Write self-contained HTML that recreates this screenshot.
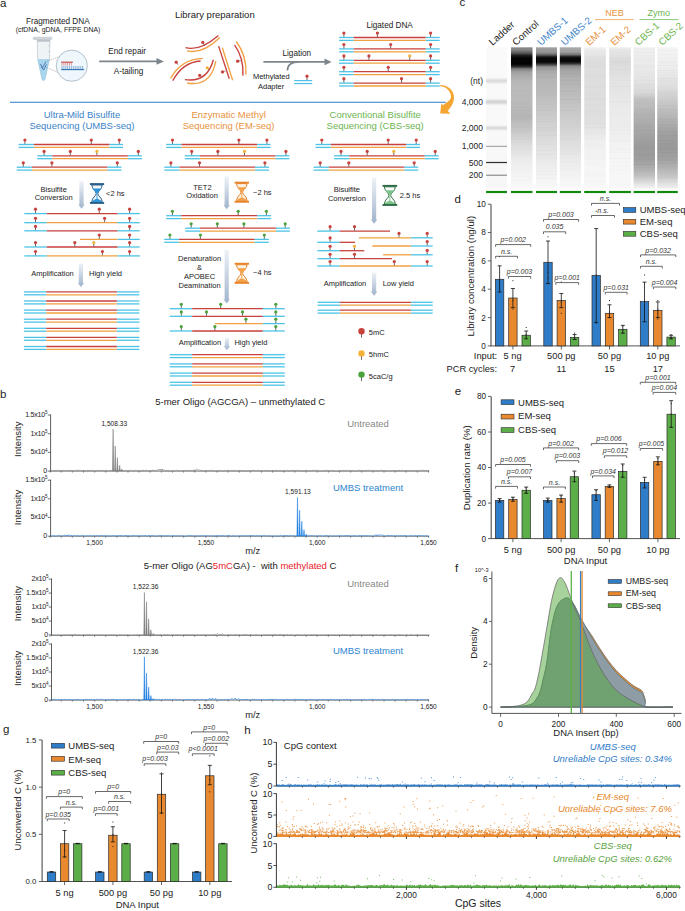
<!DOCTYPE html>
<html><head><meta charset="utf-8"><style>
html,body{margin:0;padding:0;background:#fff;width:685px;height:911px;overflow:hidden}
svg{display:block}
text{font-family:"Liberation Sans",sans-serif}
</style></head><body>
<svg width="685" height="911" viewBox="0 0 685 911" font-family="Liberation Sans, sans-serif">
<rect width="685" height="911" fill="#fff"/>
<defs><linearGradient id="ga" x1="0" y1="0" x2="0" y2="1"><stop offset="0" stop-color="#eef2f7"/><stop offset="1" stop-color="#9fb3cc"/></linearGradient></defs>
<text x="0.0" y="7.2" font-size="11.5" text-anchor="start" fill="#222" >a</text>
<text x="57.8" y="23.6" font-size="8.2" text-anchor="middle" fill="#222" >Fragmented DNA</text>
<text x="58.0" y="31.5" font-size="6.9" text-anchor="middle" fill="#222" >(cfDNA, gDNA, FFPE DNA)</text>
<path d="M37.2,40.5 L50,40.5 L49.5,58 L44.8,79.5 Q43.5,81.5 42.2,79.5 L37.6,58 Z" fill="#eef3f6" stroke="#b8c4cc" stroke-width="0.7"/>
<path d="M37.9,59.6 L49.3,59.6 L44.8,79.5 Q43.5,81.5 42.2,79.5 Z" fill="#a9d6ef" stroke="#8ec4e2" stroke-width="0.5"/>
<rect x="37.3" y="39.4" width="12.8" height="2.3" fill="#b9c2c8"/>
<rect x="33.2" y="37.2" width="18.6" height="2.2" rx="0.6" fill="#d3dadf" stroke="#aab4bb" stroke-width="0.5"/>
<path d="M48,45.5 L49.6,45.5 M48,51.5 L49.6,51.5" stroke="#b0bac0" stroke-width="0.5"/>
<path d="M40.2,63.8 L42.6,67.6 L45.8,61.8 M41.2,66.6 L43.6,70 L46.6,64.4" stroke="#3a5fa0" stroke-width="0.8" fill="none"/>
<line x1="46.5" y1="61.5" x2="61" y2="56" stroke="#777" stroke-width="0.5" stroke-dasharray="1.2,1"/>
<line x1="46.5" y1="67.5" x2="59.5" y2="73" stroke="#777" stroke-width="0.5" stroke-dasharray="1.2,1"/>
<circle cx="71.8" cy="65.7" r="15.6" fill="#eef7fc" stroke="#8a9aa4" stroke-width="0.6"/>
<line x1="61.2" y1="62.2" x2="72.9" y2="62.2" stroke="#c8413d" stroke-width="1.1"/>
<line x1="61.2" y1="69.6" x2="84.1" y2="69.6" stroke="#2d6fb0" stroke-width="1.1"/>
<line x1="62.0" y1="62.6" x2="62.0" y2="65.6" stroke="#c8413d" stroke-width="0.5"/>
<line x1="62.0" y1="66" x2="62.0" y2="69.2" stroke="#2d6fb0" stroke-width="0.5"/>
<line x1="63.9" y1="62.6" x2="63.9" y2="65.6" stroke="#c8413d" stroke-width="0.5"/>
<line x1="63.9" y1="66" x2="63.9" y2="69.2" stroke="#2d6fb0" stroke-width="0.5"/>
<line x1="65.8" y1="62.6" x2="65.8" y2="65.6" stroke="#c8413d" stroke-width="0.5"/>
<line x1="65.8" y1="66" x2="65.8" y2="69.2" stroke="#2d6fb0" stroke-width="0.5"/>
<line x1="67.6" y1="62.6" x2="67.6" y2="65.6" stroke="#c8413d" stroke-width="0.5"/>
<line x1="67.6" y1="66" x2="67.6" y2="69.2" stroke="#2d6fb0" stroke-width="0.5"/>
<line x1="69.5" y1="62.6" x2="69.5" y2="65.6" stroke="#c8413d" stroke-width="0.5"/>
<line x1="69.5" y1="66" x2="69.5" y2="69.2" stroke="#2d6fb0" stroke-width="0.5"/>
<line x1="71.4" y1="62.6" x2="71.4" y2="65.6" stroke="#c8413d" stroke-width="0.5"/>
<line x1="71.4" y1="66" x2="71.4" y2="69.2" stroke="#2d6fb0" stroke-width="0.5"/>
<line x1="73.3" y1="66" x2="73.3" y2="69.2" stroke="#2d6fb0" stroke-width="0.5"/>
<line x1="75.2" y1="66" x2="75.2" y2="69.2" stroke="#2d6fb0" stroke-width="0.5"/>
<line x1="77.0" y1="66" x2="77.0" y2="69.2" stroke="#2d6fb0" stroke-width="0.5"/>
<line x1="78.9" y1="66" x2="78.9" y2="69.2" stroke="#2d6fb0" stroke-width="0.5"/>
<line x1="80.8" y1="66" x2="80.8" y2="69.2" stroke="#2d6fb0" stroke-width="0.5"/>
<line x1="82.7" y1="66" x2="82.7" y2="69.2" stroke="#2d6fb0" stroke-width="0.5"/>
<line x1="99.2" y1="61.4" x2="158.0" y2="61.4" stroke="#7d868c" stroke-width="1.6" />
<path d="M156.5,58 L163.9,61.4 L156.5,64.8 Z" fill="#7d868c"/>
<text x="127.1" y="53.7" font-size="8.2" text-anchor="middle" fill="#222" >End repair</text>
<text x="128.5" y="73.6" font-size="8.2" text-anchor="middle" fill="#222" >A-tailing</text>
<text x="214.8" y="18.2" font-size="9.5" text-anchor="middle" fill="#222" >Library preparation</text>
<path d="M185.5,47.7 Q200,51.5 218.4,35.5" stroke="#c8413d" stroke-width="1.35" fill="none"/>
<path d="M187,50.8 Q203,54.5 219.8,37.6" stroke="#f0a040" stroke-width="1.35" fill="none"/>
<path d="M170.6,78.4 Q181,59 202.8,58.3" stroke="#f0a040" stroke-width="1.35" fill="none"/>
<path d="M172.8,80.6 Q183,62 200.6,61" stroke="#c8413d" stroke-width="1.35" fill="none"/>
<path d="M184.9,79.6 Q207,83 213.4,59.7" stroke="#c8413d" stroke-width="1.35" fill="none"/>
<path d="M187.2,83 Q211,87 215.8,61" stroke="#f0a040" stroke-width="1.35" fill="none"/>
<path d="M218.6,46.1 L229.3,78.7" stroke="#c8413d" stroke-width="1.35" fill="none"/>
<path d="M222.3,47.6 L232.6,80.2" stroke="#f0a040" stroke-width="1.35" fill="none"/>
<path d="M234.5,44.9 Q244,58 242.9,75.6" stroke="#c8413d" stroke-width="1.35" fill="none"/>
<path d="M236.3,41.5 Q247,56 245.9,74.6" stroke="#f0a040" stroke-width="1.35" fill="none"/>
<line x1="204.5" y1="45.5" x2="202.8" y2="42.4" stroke="#444" stroke-width="0.6" />
<circle cx="202.8" cy="42.4" r="1.6" fill="#c8413d"/>
<line x1="178.0" y1="64.8" x2="176.2" y2="62.2" stroke="#444" stroke-width="0.6" />
<circle cx="176.2" cy="62.2" r="1.6" fill="#c8413d"/>
<line x1="201.5" y1="77.2" x2="199.7" y2="75.3" stroke="#444" stroke-width="0.6" />
<circle cx="199.7" cy="75.3" r="1.6" fill="#c8413d"/>
<line x1="209.0" y1="69.6" x2="207.2" y2="67.8" stroke="#444" stroke-width="0.6" />
<circle cx="207.2" cy="67.8" r="1.6" fill="#f3b33a"/>
<line x1="225.5" y1="71.0" x2="222.5" y2="71.9" stroke="#444" stroke-width="0.6" />
<circle cx="222.5" cy="71.9" r="1.6" fill="#c8413d"/>
<line x1="240.8" y1="60.6" x2="237.6" y2="61.2" stroke="#444" stroke-width="0.6" />
<circle cx="237.6" cy="61.2" r="1.6" fill="#c8413d"/>
<line x1="263.4" y1="61.9" x2="326.0" y2="61.9" stroke="#7d868c" stroke-width="1.6" />
<path d="M324.5,58.5 L331.6,61.9 L324.5,65.3 Z" fill="#7d868c"/>
<path d="M287.4,70.5 Q287.5,62 299,61.9" stroke="#7d868c" stroke-width="1.6" fill="none"/>
<text x="296.8" y="56.0" font-size="8.2" text-anchor="middle" fill="#222" >Ligation</text>
<text x="271.3" y="79.4" font-size="7.5" text-anchor="middle" fill="#222" >Methylated</text>
<text x="271.1" y="88.8" font-size="7.5" text-anchor="middle" fill="#222" >Adapter</text>
<line x1="294.2" y1="80.6" x2="312.2" y2="80.6" stroke="#4cc3e6" stroke-width="1.2" />
<line x1="294.2" y1="83.6" x2="312.2" y2="83.6" stroke="#4cc3e6" stroke-width="1.2" />
<line x1="307.0" y1="80.0" x2="307.0" y2="77.4" stroke="#333" stroke-width="0.75" />
<circle cx="307.0" cy="76.2" r="1.6" fill="#c8413d"/>
<text x="389.6" y="27.7" font-size="8.2" text-anchor="middle" fill="#222" >Ligated DNA</text>
<line x1="339.1" y1="37.5" x2="353.7" y2="37.5" stroke="#4cc3e6" stroke-width="1.3" />
<line x1="353.7" y1="37.5" x2="425.8" y2="37.5" stroke="#c8413d" stroke-width="1.3" />
<line x1="425.8" y1="37.5" x2="439.7" y2="37.5" stroke="#4cc3e6" stroke-width="1.3" />
<line x1="339.1" y1="40.4" x2="353.7" y2="40.4" stroke="#4cc3e6" stroke-width="1.3" />
<line x1="353.7" y1="40.4" x2="425.8" y2="40.4" stroke="#f0a040" stroke-width="1.3" />
<line x1="425.8" y1="40.4" x2="439.7" y2="40.4" stroke="#4cc3e6" stroke-width="1.3" />
<line x1="343.9" y1="36.9" x2="343.9" y2="34.3" stroke="#333" stroke-width="0.75" />
<circle cx="343.9" cy="33.1" r="1.6" fill="#c8413d"/>
<line x1="430.6" y1="36.9" x2="430.6" y2="34.3" stroke="#333" stroke-width="0.75" />
<circle cx="430.6" cy="33.1" r="1.6" fill="#c8413d"/>
<line x1="377.4" y1="36.9" x2="377.4" y2="34.3" stroke="#333" stroke-width="0.75" />
<circle cx="377.4" cy="33.1" r="1.6" fill="#c8413d"/>
<line x1="339.1" y1="48.9" x2="353.7" y2="48.9" stroke="#4cc3e6" stroke-width="1.3" />
<line x1="353.7" y1="48.9" x2="425.8" y2="48.9" stroke="#c8413d" stroke-width="1.3" />
<line x1="425.8" y1="48.9" x2="439.7" y2="48.9" stroke="#4cc3e6" stroke-width="1.3" />
<line x1="339.1" y1="51.8" x2="353.7" y2="51.8" stroke="#4cc3e6" stroke-width="1.3" />
<line x1="353.7" y1="51.8" x2="425.8" y2="51.8" stroke="#f0a040" stroke-width="1.3" />
<line x1="425.8" y1="51.8" x2="439.7" y2="51.8" stroke="#4cc3e6" stroke-width="1.3" />
<line x1="343.9" y1="48.3" x2="343.9" y2="45.7" stroke="#333" stroke-width="0.75" />
<circle cx="343.9" cy="44.5" r="1.6" fill="#c8413d"/>
<line x1="430.6" y1="48.3" x2="430.6" y2="45.7" stroke="#333" stroke-width="0.75" />
<circle cx="430.6" cy="44.5" r="1.6" fill="#c8413d"/>
<line x1="390.7" y1="48.3" x2="390.7" y2="45.7" stroke="#333" stroke-width="0.75" />
<circle cx="390.7" cy="44.5" r="1.6" fill="#c8413d"/>
<line x1="339.1" y1="60.3" x2="353.7" y2="60.3" stroke="#4cc3e6" stroke-width="1.3" />
<line x1="353.7" y1="60.3" x2="425.8" y2="60.3" stroke="#c8413d" stroke-width="1.3" />
<line x1="425.8" y1="60.3" x2="439.7" y2="60.3" stroke="#4cc3e6" stroke-width="1.3" />
<line x1="339.1" y1="63.2" x2="353.7" y2="63.2" stroke="#4cc3e6" stroke-width="1.3" />
<line x1="353.7" y1="63.2" x2="425.8" y2="63.2" stroke="#f0a040" stroke-width="1.3" />
<line x1="425.8" y1="63.2" x2="439.7" y2="63.2" stroke="#4cc3e6" stroke-width="1.3" />
<line x1="343.9" y1="59.7" x2="343.9" y2="57.1" stroke="#333" stroke-width="0.75" />
<circle cx="343.9" cy="55.9" r="1.6" fill="#c8413d"/>
<line x1="430.6" y1="59.7" x2="430.6" y2="57.1" stroke="#333" stroke-width="0.75" />
<circle cx="430.6" cy="55.9" r="1.6" fill="#c8413d"/>
<line x1="368.9" y1="59.7" x2="368.9" y2="57.1" stroke="#333" stroke-width="0.75" />
<circle cx="368.9" cy="55.9" r="1.6" fill="#c8413d"/>
<line x1="409.7" y1="59.7" x2="409.7" y2="57.1" stroke="#333" stroke-width="0.75" />
<circle cx="409.7" cy="55.9" r="1.6" fill="#f3b33a"/>
<line x1="339.1" y1="71.7" x2="353.7" y2="71.7" stroke="#4cc3e6" stroke-width="1.3" />
<line x1="353.7" y1="71.7" x2="425.8" y2="71.7" stroke="#c8413d" stroke-width="1.3" />
<line x1="425.8" y1="71.7" x2="439.7" y2="71.7" stroke="#4cc3e6" stroke-width="1.3" />
<line x1="339.1" y1="74.6" x2="353.7" y2="74.6" stroke="#4cc3e6" stroke-width="1.3" />
<line x1="353.7" y1="74.6" x2="425.8" y2="74.6" stroke="#f0a040" stroke-width="1.3" />
<line x1="425.8" y1="74.6" x2="439.7" y2="74.6" stroke="#4cc3e6" stroke-width="1.3" />
<line x1="343.9" y1="71.1" x2="343.9" y2="68.5" stroke="#333" stroke-width="0.75" />
<circle cx="343.9" cy="67.3" r="1.6" fill="#c8413d"/>
<line x1="430.6" y1="71.1" x2="430.6" y2="68.5" stroke="#333" stroke-width="0.75" />
<circle cx="430.6" cy="67.3" r="1.6" fill="#c8413d"/>
<line x1="388.3" y1="71.1" x2="388.3" y2="68.5" stroke="#333" stroke-width="0.75" />
<circle cx="388.3" cy="67.3" r="1.6" fill="#c8413d"/>
<line x1="339.1" y1="83.1" x2="353.7" y2="83.1" stroke="#4cc3e6" stroke-width="1.3" />
<line x1="353.7" y1="83.1" x2="425.8" y2="83.1" stroke="#c8413d" stroke-width="1.3" />
<line x1="425.8" y1="83.1" x2="439.7" y2="83.1" stroke="#4cc3e6" stroke-width="1.3" />
<line x1="339.1" y1="86.0" x2="353.7" y2="86.0" stroke="#4cc3e6" stroke-width="1.3" />
<line x1="353.7" y1="86.0" x2="425.8" y2="86.0" stroke="#f0a040" stroke-width="1.3" />
<line x1="425.8" y1="86.0" x2="439.7" y2="86.0" stroke="#4cc3e6" stroke-width="1.3" />
<line x1="343.9" y1="82.5" x2="343.9" y2="79.9" stroke="#333" stroke-width="0.75" />
<circle cx="343.9" cy="78.7" r="1.6" fill="#c8413d"/>
<line x1="430.6" y1="82.5" x2="430.6" y2="79.9" stroke="#333" stroke-width="0.75" />
<circle cx="430.6" cy="78.7" r="1.6" fill="#c8413d"/>
<line x1="401.5" y1="82.5" x2="401.5" y2="79.9" stroke="#333" stroke-width="0.75" />
<circle cx="401.5" cy="78.7" r="1.6" fill="#c8413d"/>
<line x1="10.0" y1="102.3" x2="445.8" y2="102.3" stroke="#2a7bc8" stroke-width="1.1" />
<path d="M440.2,84.9 C448,84.9 454.6,90.5 454,98.3 C453.6,103 451.5,107 447.8,110.8 L442.8,105.2 C446.5,102.6 451,100 451,96.8 C451,91.5 446.4,86.6 440.2,86.3 Z M441.3,103.6 L440.2,113.5 L450.4,113.7 Z" fill="#f5a632"/>
<text x="82.0" y="117.5" font-size="9.5" text-anchor="middle" fill="#3a82c9" >Ultra-Mild Bisulfite</text>
<text x="82.0" y="128.7" font-size="9.5" text-anchor="middle" fill="#3a82c9" >Sequencing (UMBS-seq)</text>
<line x1="18.6" y1="144.5" x2="33.9" y2="144.5" stroke="#4cc3e6" stroke-width="1.3" />
<line x1="33.9" y1="144.5" x2="109.5" y2="144.5" stroke="#c8413d" stroke-width="1.3" />
<line x1="109.5" y1="144.5" x2="123.0" y2="144.5" stroke="#4cc3e6" stroke-width="1.3" />
<line x1="18.6" y1="147.4" x2="33.9" y2="147.4" stroke="#4cc3e6" stroke-width="1.3" />
<line x1="33.9" y1="147.4" x2="109.5" y2="147.4" stroke="#f0a040" stroke-width="1.3" />
<line x1="109.5" y1="147.4" x2="123.0" y2="147.4" stroke="#4cc3e6" stroke-width="1.3" />
<line x1="24.9" y1="143.9" x2="24.9" y2="141.3" stroke="#333" stroke-width="0.75" />
<circle cx="24.9" cy="140.1" r="1.6" fill="#c8413d"/>
<line x1="91.3" y1="143.9" x2="91.3" y2="141.3" stroke="#333" stroke-width="0.75" />
<circle cx="91.3" cy="140.1" r="1.6" fill="#c8413d"/>
<line x1="119.3" y1="143.9" x2="119.3" y2="141.3" stroke="#333" stroke-width="0.75" />
<circle cx="119.3" cy="140.1" r="1.6" fill="#c8413d"/>
<line x1="37.2" y1="155.8" x2="52.3" y2="155.8" stroke="#4cc3e6" stroke-width="1.3" />
<line x1="52.3" y1="155.8" x2="127.9" y2="155.8" stroke="#c8413d" stroke-width="1.3" />
<line x1="127.9" y1="155.8" x2="141.8" y2="155.8" stroke="#4cc3e6" stroke-width="1.3" />
<line x1="37.2" y1="158.7" x2="52.3" y2="158.7" stroke="#4cc3e6" stroke-width="1.3" />
<line x1="52.3" y1="158.7" x2="127.9" y2="158.7" stroke="#f0a040" stroke-width="1.3" />
<line x1="127.9" y1="158.7" x2="141.8" y2="158.7" stroke="#4cc3e6" stroke-width="1.3" />
<line x1="44.1" y1="155.2" x2="44.1" y2="152.6" stroke="#333" stroke-width="0.75" />
<circle cx="44.1" cy="151.4" r="1.6" fill="#c8413d"/>
<line x1="70.3" y1="155.2" x2="70.3" y2="152.6" stroke="#333" stroke-width="0.75" />
<circle cx="70.3" cy="151.4" r="1.6" fill="#c8413d"/>
<line x1="96.9" y1="155.2" x2="96.9" y2="152.6" stroke="#333" stroke-width="0.75" />
<circle cx="96.9" cy="151.4" r="1.6" fill="#f3b33a"/>
<line x1="138.3" y1="155.2" x2="138.3" y2="152.6" stroke="#333" stroke-width="0.75" />
<circle cx="138.3" cy="151.4" r="1.6" fill="#c8413d"/>
<line x1="16.7" y1="167.2" x2="31.9" y2="167.2" stroke="#4cc3e6" stroke-width="1.3" />
<line x1="31.9" y1="167.2" x2="107.5" y2="167.2" stroke="#c8413d" stroke-width="1.3" />
<line x1="107.5" y1="167.2" x2="121.4" y2="167.2" stroke="#4cc3e6" stroke-width="1.3" />
<line x1="16.7" y1="170.1" x2="31.9" y2="170.1" stroke="#4cc3e6" stroke-width="1.3" />
<line x1="31.9" y1="170.1" x2="107.5" y2="170.1" stroke="#f0a040" stroke-width="1.3" />
<line x1="107.5" y1="170.1" x2="121.4" y2="170.1" stroke="#4cc3e6" stroke-width="1.3" />
<line x1="23.3" y1="166.6" x2="23.3" y2="164.0" stroke="#333" stroke-width="0.75" />
<circle cx="23.3" cy="162.8" r="1.6" fill="#c8413d"/>
<line x1="51.9" y1="166.6" x2="51.9" y2="164.0" stroke="#333" stroke-width="0.75" />
<circle cx="51.9" cy="162.8" r="1.6" fill="#c8413d"/>
<line x1="117.3" y1="166.6" x2="117.3" y2="164.0" stroke="#333" stroke-width="0.75" />
<circle cx="117.3" cy="162.8" r="1.6" fill="#c8413d"/>
<text x="228.6" y="117.5" font-size="9.5" text-anchor="middle" fill="#e8923e" >Enzymatic Methyl</text>
<text x="228.6" y="128.7" font-size="9.5" text-anchor="middle" fill="#e8923e" >Sequencing (EM-seq)</text>
<line x1="166.2" y1="144.5" x2="181.5" y2="144.5" stroke="#4cc3e6" stroke-width="1.3" />
<line x1="181.5" y1="144.5" x2="257.1" y2="144.5" stroke="#c8413d" stroke-width="1.3" />
<line x1="257.1" y1="144.5" x2="270.6" y2="144.5" stroke="#4cc3e6" stroke-width="1.3" />
<line x1="166.2" y1="147.4" x2="181.5" y2="147.4" stroke="#4cc3e6" stroke-width="1.3" />
<line x1="181.5" y1="147.4" x2="257.1" y2="147.4" stroke="#f0a040" stroke-width="1.3" />
<line x1="257.1" y1="147.4" x2="270.6" y2="147.4" stroke="#4cc3e6" stroke-width="1.3" />
<line x1="172.5" y1="143.9" x2="172.5" y2="141.3" stroke="#333" stroke-width="0.75" />
<circle cx="172.5" cy="140.1" r="1.6" fill="#c8413d"/>
<line x1="238.9" y1="143.9" x2="238.9" y2="141.3" stroke="#333" stroke-width="0.75" />
<circle cx="238.9" cy="140.1" r="1.6" fill="#c8413d"/>
<line x1="266.9" y1="143.9" x2="266.9" y2="141.3" stroke="#333" stroke-width="0.75" />
<circle cx="266.9" cy="140.1" r="1.6" fill="#c8413d"/>
<line x1="184.8" y1="155.8" x2="199.9" y2="155.8" stroke="#4cc3e6" stroke-width="1.3" />
<line x1="199.9" y1="155.8" x2="275.5" y2="155.8" stroke="#c8413d" stroke-width="1.3" />
<line x1="275.5" y1="155.8" x2="289.4" y2="155.8" stroke="#4cc3e6" stroke-width="1.3" />
<line x1="184.8" y1="158.7" x2="199.9" y2="158.7" stroke="#4cc3e6" stroke-width="1.3" />
<line x1="199.9" y1="158.7" x2="275.5" y2="158.7" stroke="#f0a040" stroke-width="1.3" />
<line x1="275.5" y1="158.7" x2="289.4" y2="158.7" stroke="#4cc3e6" stroke-width="1.3" />
<line x1="191.7" y1="155.2" x2="191.7" y2="152.6" stroke="#333" stroke-width="0.75" />
<circle cx="191.7" cy="151.4" r="1.6" fill="#c8413d"/>
<line x1="217.9" y1="155.2" x2="217.9" y2="152.6" stroke="#333" stroke-width="0.75" />
<circle cx="217.9" cy="151.4" r="1.6" fill="#c8413d"/>
<line x1="244.5" y1="155.2" x2="244.5" y2="152.6" stroke="#333" stroke-width="0.75" />
<circle cx="244.5" cy="151.4" r="1.6" fill="#f3b33a"/>
<line x1="285.9" y1="155.2" x2="285.9" y2="152.6" stroke="#333" stroke-width="0.75" />
<circle cx="285.9" cy="151.4" r="1.6" fill="#c8413d"/>
<line x1="164.3" y1="167.2" x2="179.5" y2="167.2" stroke="#4cc3e6" stroke-width="1.3" />
<line x1="179.5" y1="167.2" x2="255.1" y2="167.2" stroke="#c8413d" stroke-width="1.3" />
<line x1="255.1" y1="167.2" x2="269.0" y2="167.2" stroke="#4cc3e6" stroke-width="1.3" />
<line x1="164.3" y1="170.1" x2="179.5" y2="170.1" stroke="#4cc3e6" stroke-width="1.3" />
<line x1="179.5" y1="170.1" x2="255.1" y2="170.1" stroke="#f0a040" stroke-width="1.3" />
<line x1="255.1" y1="170.1" x2="269.0" y2="170.1" stroke="#4cc3e6" stroke-width="1.3" />
<line x1="170.9" y1="166.6" x2="170.9" y2="164.0" stroke="#333" stroke-width="0.75" />
<circle cx="170.9" cy="162.8" r="1.6" fill="#c8413d"/>
<line x1="199.5" y1="166.6" x2="199.5" y2="164.0" stroke="#333" stroke-width="0.75" />
<circle cx="199.5" cy="162.8" r="1.6" fill="#c8413d"/>
<line x1="264.9" y1="166.6" x2="264.9" y2="164.0" stroke="#333" stroke-width="0.75" />
<circle cx="264.9" cy="162.8" r="1.6" fill="#c8413d"/>
<text x="375.2" y="117.5" font-size="9.5" text-anchor="middle" fill="#6db550" >Conventional Bisulfite</text>
<text x="375.2" y="128.7" font-size="9.5" text-anchor="middle" fill="#6db550" >Sequencing (CBS-seq)</text>
<line x1="315.5" y1="144.5" x2="330.8" y2="144.5" stroke="#4cc3e6" stroke-width="1.3" />
<line x1="330.8" y1="144.5" x2="406.4" y2="144.5" stroke="#c8413d" stroke-width="1.3" />
<line x1="406.4" y1="144.5" x2="419.9" y2="144.5" stroke="#4cc3e6" stroke-width="1.3" />
<line x1="315.5" y1="147.4" x2="330.8" y2="147.4" stroke="#4cc3e6" stroke-width="1.3" />
<line x1="330.8" y1="147.4" x2="406.4" y2="147.4" stroke="#f0a040" stroke-width="1.3" />
<line x1="406.4" y1="147.4" x2="419.9" y2="147.4" stroke="#4cc3e6" stroke-width="1.3" />
<line x1="321.8" y1="143.9" x2="321.8" y2="141.3" stroke="#333" stroke-width="0.75" />
<circle cx="321.8" cy="140.1" r="1.6" fill="#c8413d"/>
<line x1="388.2" y1="143.9" x2="388.2" y2="141.3" stroke="#333" stroke-width="0.75" />
<circle cx="388.2" cy="140.1" r="1.6" fill="#c8413d"/>
<line x1="416.2" y1="143.9" x2="416.2" y2="141.3" stroke="#333" stroke-width="0.75" />
<circle cx="416.2" cy="140.1" r="1.6" fill="#c8413d"/>
<line x1="334.1" y1="155.8" x2="349.2" y2="155.8" stroke="#4cc3e6" stroke-width="1.3" />
<line x1="349.2" y1="155.8" x2="424.8" y2="155.8" stroke="#c8413d" stroke-width="1.3" />
<line x1="424.8" y1="155.8" x2="438.7" y2="155.8" stroke="#4cc3e6" stroke-width="1.3" />
<line x1="334.1" y1="158.7" x2="349.2" y2="158.7" stroke="#4cc3e6" stroke-width="1.3" />
<line x1="349.2" y1="158.7" x2="424.8" y2="158.7" stroke="#f0a040" stroke-width="1.3" />
<line x1="424.8" y1="158.7" x2="438.7" y2="158.7" stroke="#4cc3e6" stroke-width="1.3" />
<line x1="341.0" y1="155.2" x2="341.0" y2="152.6" stroke="#333" stroke-width="0.75" />
<circle cx="341.0" cy="151.4" r="1.6" fill="#c8413d"/>
<line x1="367.2" y1="155.2" x2="367.2" y2="152.6" stroke="#333" stroke-width="0.75" />
<circle cx="367.2" cy="151.4" r="1.6" fill="#c8413d"/>
<line x1="393.8" y1="155.2" x2="393.8" y2="152.6" stroke="#333" stroke-width="0.75" />
<circle cx="393.8" cy="151.4" r="1.6" fill="#f3b33a"/>
<line x1="435.2" y1="155.2" x2="435.2" y2="152.6" stroke="#333" stroke-width="0.75" />
<circle cx="435.2" cy="151.4" r="1.6" fill="#c8413d"/>
<line x1="313.6" y1="167.2" x2="328.8" y2="167.2" stroke="#4cc3e6" stroke-width="1.3" />
<line x1="328.8" y1="167.2" x2="404.4" y2="167.2" stroke="#c8413d" stroke-width="1.3" />
<line x1="404.4" y1="167.2" x2="418.3" y2="167.2" stroke="#4cc3e6" stroke-width="1.3" />
<line x1="313.6" y1="170.1" x2="328.8" y2="170.1" stroke="#4cc3e6" stroke-width="1.3" />
<line x1="328.8" y1="170.1" x2="404.4" y2="170.1" stroke="#f0a040" stroke-width="1.3" />
<line x1="404.4" y1="170.1" x2="418.3" y2="170.1" stroke="#4cc3e6" stroke-width="1.3" />
<line x1="320.2" y1="166.6" x2="320.2" y2="164.0" stroke="#333" stroke-width="0.75" />
<circle cx="320.2" cy="162.8" r="1.6" fill="#c8413d"/>
<line x1="348.8" y1="166.6" x2="348.8" y2="164.0" stroke="#333" stroke-width="0.75" />
<circle cx="348.8" cy="162.8" r="1.6" fill="#c8413d"/>
<line x1="414.2" y1="166.6" x2="414.2" y2="164.0" stroke="#333" stroke-width="0.75" />
<circle cx="414.2" cy="162.8" r="1.6" fill="#c8413d"/>
<text x="53.7" y="191.5" font-size="7.5" text-anchor="middle" fill="#222" >Bisulfite</text>
<text x="53.6" y="200.2" font-size="7.5" text-anchor="middle" fill="#222" >Conversion</text>
<path d="M79.4,181.2 L83.6,181.2 L83.6,204.60000000000002 L84.7,204.60000000000002 L81.5,208.8 L78.3,204.60000000000002 L79.4,204.60000000000002 Z" fill="url(#ga)"/>
<path d="M91.80000000000001,185.0 C91.80000000000001,189.34 96.2,191.004 96.2,193.5 C96.2,195.99599999999998 91.80000000000001,197.66 91.80000000000001,202.0 L102.2,202.0 C102.2,197.66 97.8,195.99599999999998 97.8,193.5 C97.8,191.004 102.2,189.34 102.2,185.0 Z" fill="#f4f8fb" stroke="#2a5f8a" stroke-width="1"/>
<path d="M92.9,188.50799999999998 L101.10000000000001,188.50799999999998 C100.9,190.588 97.5,191.83599999999998 97.4,193.5 L96.6,193.5 C96.5,191.83599999999998 93.10000000000001,190.588 92.9,188.50799999999998 Z" fill="#2f94d8"/>
<path d="M97.0,193.5 L97.0,201.0" stroke="#2f94d8" stroke-width="0.9"/>
<path d="M92.30000000000001,202.0 C92.80000000000001,199.74 96.0,198.908 97.0,198.7 C98.0,198.908 101.2,199.74 101.7,202.0 Z" fill="#2f94d8"/>
<rect x="89.9" y="183.1" width="14.2" height="1.9" fill="#2a5f8a"/>
<rect x="89.9" y="202.0" width="14.2" height="1.9" fill="#2a5f8a"/>
<text x="106.0" y="195.5" font-size="7.5" text-anchor="start" fill="#222" >&lt;2 hs</text>
<line x1="24.3" y1="213.6" x2="46.8" y2="213.6" stroke="#4cc3e6" stroke-width="1.3" />
<line x1="46.8" y1="213.6" x2="117.7" y2="213.6" stroke="#c8413d" stroke-width="1.3" />
<line x1="117.7" y1="213.6" x2="139.8" y2="213.6" stroke="#4cc3e6" stroke-width="1.3" />
<line x1="35.5" y1="213.0" x2="35.5" y2="210.4" stroke="#333" stroke-width="0.75" />
<circle cx="35.5" cy="209.2" r="1.6" fill="#c8413d"/>
<line x1="99.3" y1="213.0" x2="99.3" y2="210.4" stroke="#333" stroke-width="0.75" />
<circle cx="99.3" cy="209.2" r="1.6" fill="#c8413d"/>
<line x1="129.6" y1="213.0" x2="129.6" y2="210.4" stroke="#333" stroke-width="0.75" />
<circle cx="129.6" cy="209.2" r="1.6" fill="#c8413d"/>
<line x1="24.3" y1="222.7" x2="46.8" y2="222.7" stroke="#4cc3e6" stroke-width="1.3" />
<line x1="46.8" y1="222.7" x2="117.7" y2="222.7" stroke="#f0a040" stroke-width="1.3" />
<line x1="117.7" y1="222.7" x2="139.8" y2="222.7" stroke="#4cc3e6" stroke-width="1.3" />
<line x1="35.5" y1="222.1" x2="35.5" y2="219.5" stroke="#333" stroke-width="0.75" />
<circle cx="35.5" cy="218.3" r="1.6" fill="#c8413d"/>
<line x1="104.6" y1="222.1" x2="104.6" y2="219.5" stroke="#333" stroke-width="0.75" />
<circle cx="104.6" cy="218.3" r="1.6" fill="#c8413d"/>
<line x1="129.6" y1="222.1" x2="129.6" y2="219.5" stroke="#333" stroke-width="0.75" />
<circle cx="129.6" cy="218.3" r="1.6" fill="#c8413d"/>
<line x1="24.3" y1="230.8" x2="46.8" y2="230.8" stroke="#4cc3e6" stroke-width="1.3" />
<line x1="46.8" y1="230.8" x2="117.7" y2="230.8" stroke="#c8413d" stroke-width="1.3" />
<line x1="117.7" y1="230.8" x2="139.8" y2="230.8" stroke="#4cc3e6" stroke-width="1.3" />
<line x1="35.5" y1="230.2" x2="35.5" y2="227.6" stroke="#333" stroke-width="0.75" />
<circle cx="35.5" cy="226.4" r="1.6" fill="#c8413d"/>
<line x1="129.6" y1="230.2" x2="129.6" y2="227.6" stroke="#333" stroke-width="0.75" />
<circle cx="129.6" cy="226.4" r="1.6" fill="#c8413d"/>
<line x1="80.1" y1="239.4" x2="117.7" y2="239.4" stroke="#f0a040" stroke-width="1.3" />
<line x1="117.7" y1="239.4" x2="139.8" y2="239.4" stroke="#4cc3e6" stroke-width="1.3" />
<line x1="99.3" y1="238.8" x2="99.3" y2="236.2" stroke="#333" stroke-width="0.75" />
<circle cx="99.3" cy="235.0" r="1.6" fill="#c8413d"/>
<line x1="129.6" y1="238.8" x2="129.6" y2="236.2" stroke="#333" stroke-width="0.75" />
<circle cx="129.6" cy="235.0" r="1.6" fill="#c8413d"/>
<line x1="24.3" y1="247.0" x2="46.8" y2="247.0" stroke="#4cc3e6" stroke-width="1.3" />
<line x1="46.8" y1="247.0" x2="117.7" y2="247.0" stroke="#c8413d" stroke-width="1.3" />
<line x1="117.7" y1="247.0" x2="139.8" y2="247.0" stroke="#4cc3e6" stroke-width="1.3" />
<line x1="35.5" y1="246.4" x2="35.5" y2="243.8" stroke="#333" stroke-width="0.75" />
<circle cx="35.5" cy="242.6" r="1.6" fill="#c8413d"/>
<line x1="74.8" y1="246.4" x2="74.8" y2="243.8" stroke="#333" stroke-width="0.75" />
<circle cx="74.8" cy="242.6" r="1.6" fill="#c8413d"/>
<line x1="93.8" y1="246.4" x2="93.8" y2="243.8" stroke="#333" stroke-width="0.75" />
<circle cx="93.8" cy="242.6" r="1.6" fill="#f3b33a"/>
<line x1="129.6" y1="246.4" x2="129.6" y2="243.8" stroke="#333" stroke-width="0.75" />
<circle cx="129.6" cy="242.6" r="1.6" fill="#c8413d"/>
<line x1="24.3" y1="255.9" x2="46.8" y2="255.9" stroke="#4cc3e6" stroke-width="1.3" />
<line x1="46.8" y1="255.9" x2="117.7" y2="255.9" stroke="#f0a040" stroke-width="1.3" />
<line x1="117.7" y1="255.9" x2="139.8" y2="255.9" stroke="#4cc3e6" stroke-width="1.3" />
<line x1="35.5" y1="255.3" x2="35.5" y2="252.7" stroke="#333" stroke-width="0.75" />
<circle cx="35.5" cy="251.5" r="1.6" fill="#c8413d"/>
<line x1="102.4" y1="255.3" x2="102.4" y2="252.7" stroke="#333" stroke-width="0.75" />
<circle cx="102.4" cy="251.5" r="1.6" fill="#c8413d"/>
<line x1="129.6" y1="255.3" x2="129.6" y2="252.7" stroke="#333" stroke-width="0.75" />
<circle cx="129.6" cy="251.5" r="1.6" fill="#c8413d"/>
<text x="52.5" y="276.0" font-size="7.5" text-anchor="middle" fill="#222" >Amplification</text>
<text x="105.5" y="276.0" font-size="7.5" text-anchor="middle" fill="#222" >High yield</text>
<path d="M78.80000000000001,263.6 L83.0,263.6 L83.0,282.90000000000003 L84.10000000000001,282.90000000000003 L80.9,287.1 L77.7,282.90000000000003 L78.80000000000001,282.90000000000003 Z" fill="url(#ga)"/>
<line x1="23.9" y1="291.9" x2="46.2" y2="291.9" stroke="#4cc3e6" stroke-width="1.3" />
<line x1="46.2" y1="291.9" x2="116.9" y2="291.9" stroke="#c8413d" stroke-width="1.3" />
<line x1="116.9" y1="291.9" x2="139.4" y2="291.9" stroke="#4cc3e6" stroke-width="1.3" />
<line x1="23.9" y1="294.8" x2="46.2" y2="294.8" stroke="#4cc3e6" stroke-width="1.3" />
<line x1="46.2" y1="294.8" x2="116.9" y2="294.8" stroke="#f0a040" stroke-width="1.3" />
<line x1="116.9" y1="294.8" x2="139.4" y2="294.8" stroke="#4cc3e6" stroke-width="1.3" />
<line x1="23.9" y1="301.0" x2="46.2" y2="301.0" stroke="#4cc3e6" stroke-width="1.3" />
<line x1="46.2" y1="301.0" x2="116.9" y2="301.0" stroke="#c8413d" stroke-width="1.3" />
<line x1="116.9" y1="301.0" x2="139.4" y2="301.0" stroke="#4cc3e6" stroke-width="1.3" />
<line x1="23.9" y1="303.9" x2="46.2" y2="303.9" stroke="#4cc3e6" stroke-width="1.3" />
<line x1="46.2" y1="303.9" x2="116.9" y2="303.9" stroke="#f0a040" stroke-width="1.3" />
<line x1="116.9" y1="303.9" x2="139.4" y2="303.9" stroke="#4cc3e6" stroke-width="1.3" />
<line x1="23.9" y1="310.1" x2="46.2" y2="310.1" stroke="#4cc3e6" stroke-width="1.3" />
<line x1="46.2" y1="310.1" x2="116.9" y2="310.1" stroke="#c8413d" stroke-width="1.3" />
<line x1="116.9" y1="310.1" x2="139.4" y2="310.1" stroke="#4cc3e6" stroke-width="1.3" />
<line x1="23.9" y1="313.0" x2="46.2" y2="313.0" stroke="#4cc3e6" stroke-width="1.3" />
<line x1="46.2" y1="313.0" x2="116.9" y2="313.0" stroke="#f0a040" stroke-width="1.3" />
<line x1="116.9" y1="313.0" x2="139.4" y2="313.0" stroke="#4cc3e6" stroke-width="1.3" />
<line x1="23.9" y1="319.2" x2="46.2" y2="319.2" stroke="#4cc3e6" stroke-width="1.3" />
<line x1="46.2" y1="319.2" x2="116.9" y2="319.2" stroke="#c8413d" stroke-width="1.3" />
<line x1="116.9" y1="319.2" x2="139.4" y2="319.2" stroke="#4cc3e6" stroke-width="1.3" />
<line x1="23.9" y1="322.1" x2="46.2" y2="322.1" stroke="#4cc3e6" stroke-width="1.3" />
<line x1="46.2" y1="322.1" x2="116.9" y2="322.1" stroke="#f0a040" stroke-width="1.3" />
<line x1="116.9" y1="322.1" x2="139.4" y2="322.1" stroke="#4cc3e6" stroke-width="1.3" />
<line x1="23.9" y1="328.3" x2="46.2" y2="328.3" stroke="#4cc3e6" stroke-width="1.3" />
<line x1="46.2" y1="328.3" x2="116.9" y2="328.3" stroke="#c8413d" stroke-width="1.3" />
<line x1="116.9" y1="328.3" x2="139.4" y2="328.3" stroke="#4cc3e6" stroke-width="1.3" />
<line x1="23.9" y1="331.2" x2="46.2" y2="331.2" stroke="#4cc3e6" stroke-width="1.3" />
<line x1="46.2" y1="331.2" x2="116.9" y2="331.2" stroke="#f0a040" stroke-width="1.3" />
<line x1="116.9" y1="331.2" x2="139.4" y2="331.2" stroke="#4cc3e6" stroke-width="1.3" />
<line x1="23.9" y1="337.4" x2="46.2" y2="337.4" stroke="#4cc3e6" stroke-width="1.3" />
<line x1="46.2" y1="337.4" x2="116.9" y2="337.4" stroke="#c8413d" stroke-width="1.3" />
<line x1="116.9" y1="337.4" x2="139.4" y2="337.4" stroke="#4cc3e6" stroke-width="1.3" />
<line x1="23.9" y1="340.3" x2="46.2" y2="340.3" stroke="#4cc3e6" stroke-width="1.3" />
<line x1="46.2" y1="340.3" x2="116.9" y2="340.3" stroke="#f0a040" stroke-width="1.3" />
<line x1="116.9" y1="340.3" x2="139.4" y2="340.3" stroke="#4cc3e6" stroke-width="1.3" />
<line x1="23.9" y1="346.5" x2="46.2" y2="346.5" stroke="#4cc3e6" stroke-width="1.3" />
<line x1="46.2" y1="346.5" x2="116.9" y2="346.5" stroke="#c8413d" stroke-width="1.3" />
<line x1="116.9" y1="346.5" x2="139.4" y2="346.5" stroke="#4cc3e6" stroke-width="1.3" />
<line x1="23.9" y1="349.4" x2="46.2" y2="349.4" stroke="#4cc3e6" stroke-width="1.3" />
<line x1="46.2" y1="349.4" x2="116.9" y2="349.4" stroke="#f0a040" stroke-width="1.3" />
<line x1="116.9" y1="349.4" x2="139.4" y2="349.4" stroke="#4cc3e6" stroke-width="1.3" />
<text x="202.4" y="189.6" font-size="7.5" text-anchor="middle" fill="#222" >TET2</text>
<text x="202.0" y="198.3" font-size="7.5" text-anchor="middle" fill="#222" >Oxidation</text>
<path d="M224.6,176.4 L228.79999999999998,176.4 L228.79999999999998,205.10000000000002 L229.89999999999998,205.10000000000002 L226.7,209.3 L223.5,205.10000000000002 L224.6,205.10000000000002 Z" fill="url(#ga)"/>
<path d="M236.5,183.6 C236.5,188.0 240.99999999999997,189.67999999999998 240.99999999999997,192.2 C240.99999999999997,194.72 236.5,196.39999999999998 236.5,200.79999999999998 L247.1,200.79999999999998 C247.1,196.39999999999998 242.6,194.72 242.6,192.2 C242.6,189.67999999999998 247.1,188.0 247.1,183.6 Z" fill="#fdf1e4" stroke="#e8842a" stroke-width="1"/>
<path d="M237.6,187.16 L246.0,187.16 C245.79999999999998,189.26 242.29999999999998,190.51999999999998 242.2,192.2 L241.39999999999998,192.2 C241.29999999999998,190.51999999999998 237.8,189.26 237.6,187.16 Z" fill="#f3a24a"/>
<path d="M241.79999999999998,192.2 L241.79999999999998,199.79999999999998" stroke="#f3a24a" stroke-width="0.9"/>
<path d="M237.0,200.79999999999998 C237.5,198.5 240.79999999999998,197.66 241.79999999999998,197.45 C242.79999999999998,197.66 246.1,198.5 246.6,200.79999999999998 Z" fill="#f3a24a"/>
<rect x="234.6" y="181.7" width="14.4" height="1.9" fill="#e8842a"/>
<rect x="234.6" y="200.79999999999998" width="14.4" height="1.9" fill="#e8842a"/>
<text x="253.0" y="194.8" font-size="7.5" text-anchor="start" fill="#222" >~2 hs</text>
<line x1="166.2" y1="215.7" x2="181.2" y2="215.7" stroke="#4cc3e6" stroke-width="1.3" />
<line x1="181.2" y1="215.7" x2="257.2" y2="215.7" stroke="#c8413d" stroke-width="1.3" />
<line x1="257.2" y1="215.7" x2="271.1" y2="215.7" stroke="#4cc3e6" stroke-width="1.3" />
<line x1="166.2" y1="218.6" x2="181.2" y2="218.6" stroke="#4cc3e6" stroke-width="1.3" />
<line x1="181.2" y1="218.6" x2="257.2" y2="218.6" stroke="#f0a040" stroke-width="1.3" />
<line x1="257.2" y1="218.6" x2="271.1" y2="218.6" stroke="#4cc3e6" stroke-width="1.3" />
<line x1="172.4" y1="215.1" x2="172.4" y2="212.5" stroke="#333" stroke-width="0.75" />
<circle cx="172.4" cy="211.3" r="1.6" fill="#4aa23a"/>
<line x1="238.2" y1="215.1" x2="238.2" y2="212.5" stroke="#333" stroke-width="0.75" />
<circle cx="238.2" cy="211.3" r="1.6" fill="#4aa23a"/>
<line x1="266.4" y1="215.1" x2="266.4" y2="212.5" stroke="#333" stroke-width="0.75" />
<circle cx="266.4" cy="211.3" r="1.6" fill="#4aa23a"/>
<line x1="185.2" y1="228.2" x2="200.0" y2="228.2" stroke="#4cc3e6" stroke-width="1.3" />
<line x1="200.0" y1="228.2" x2="276.0" y2="228.2" stroke="#c8413d" stroke-width="1.3" />
<line x1="276.0" y1="228.2" x2="289.9" y2="228.2" stroke="#4cc3e6" stroke-width="1.3" />
<line x1="185.2" y1="231.1" x2="200.0" y2="231.1" stroke="#4cc3e6" stroke-width="1.3" />
<line x1="200.0" y1="231.1" x2="276.0" y2="231.1" stroke="#f0a040" stroke-width="1.3" />
<line x1="276.0" y1="231.1" x2="289.9" y2="231.1" stroke="#4cc3e6" stroke-width="1.3" />
<line x1="191.2" y1="227.6" x2="191.2" y2="225.0" stroke="#333" stroke-width="0.75" />
<circle cx="191.2" cy="223.8" r="1.6" fill="#4aa23a"/>
<line x1="217.3" y1="227.6" x2="217.3" y2="225.0" stroke="#333" stroke-width="0.75" />
<circle cx="217.3" cy="223.8" r="1.6" fill="#4aa23a"/>
<line x1="243.9" y1="227.6" x2="243.9" y2="225.0" stroke="#333" stroke-width="0.75" />
<circle cx="243.9" cy="223.8" r="1.6" fill="#4aa23a"/>
<line x1="285.2" y1="227.6" x2="285.2" y2="225.0" stroke="#333" stroke-width="0.75" />
<circle cx="285.2" cy="223.8" r="1.6" fill="#4aa23a"/>
<line x1="164.2" y1="239.4" x2="179.1" y2="239.4" stroke="#4cc3e6" stroke-width="1.3" />
<line x1="179.1" y1="239.4" x2="254.7" y2="239.4" stroke="#c8413d" stroke-width="1.3" />
<line x1="254.7" y1="239.4" x2="268.8" y2="239.4" stroke="#4cc3e6" stroke-width="1.3" />
<line x1="164.2" y1="242.3" x2="179.1" y2="242.3" stroke="#4cc3e6" stroke-width="1.3" />
<line x1="179.1" y1="242.3" x2="254.7" y2="242.3" stroke="#f0a040" stroke-width="1.3" />
<line x1="254.7" y1="242.3" x2="268.8" y2="242.3" stroke="#4cc3e6" stroke-width="1.3" />
<line x1="169.9" y1="238.8" x2="169.9" y2="236.2" stroke="#333" stroke-width="0.75" />
<circle cx="169.9" cy="235.0" r="1.6" fill="#4aa23a"/>
<line x1="200.4" y1="238.8" x2="200.4" y2="236.2" stroke="#333" stroke-width="0.75" />
<circle cx="200.4" cy="235.0" r="1.6" fill="#4aa23a"/>
<line x1="264.3" y1="238.8" x2="264.3" y2="236.2" stroke="#333" stroke-width="0.75" />
<circle cx="264.3" cy="235.0" r="1.6" fill="#4aa23a"/>
<text x="199.6" y="261.2" font-size="7.5" text-anchor="middle" fill="#222" >Denaturation</text>
<text x="199.6" y="270.2" font-size="7.5" text-anchor="middle" fill="#222" >&amp;</text>
<text x="199.6" y="279.3" font-size="7.5" text-anchor="middle" fill="#222" >APOBEC</text>
<text x="199.6" y="288.3" font-size="7.5" text-anchor="middle" fill="#222" >Deamination</text>
<path d="M224.6,249.7 L228.79999999999998,249.7 L228.79999999999998,299.40000000000003 L229.89999999999998,299.40000000000003 L226.7,303.6 L223.5,299.40000000000003 L224.6,299.40000000000003 Z" fill="url(#ga)"/>
<path d="M236.5,264.7 C236.5,269.1 240.99999999999997,270.78000000000003 240.99999999999997,273.3 C240.99999999999997,275.82 236.5,277.5 236.5,281.90000000000003 L247.1,281.90000000000003 C247.1,277.5 242.6,275.82 242.6,273.3 C242.6,270.78000000000003 247.1,269.1 247.1,264.7 Z" fill="#fdf1e4" stroke="#e8842a" stroke-width="1"/>
<path d="M237.6,268.26 L246.0,268.26 C245.79999999999998,270.36 242.29999999999998,271.62 242.2,273.3 L241.39999999999998,273.3 C241.29999999999998,271.62 237.8,270.36 237.6,268.26 Z" fill="#f3a24a"/>
<path d="M241.79999999999998,273.3 L241.79999999999998,280.90000000000003" stroke="#f3a24a" stroke-width="0.9"/>
<path d="M237.0,281.90000000000003 C237.5,279.6 240.79999999999998,278.76 241.79999999999998,278.55 C242.79999999999998,278.76 246.1,279.6 246.6,281.90000000000003 Z" fill="#f3a24a"/>
<rect x="234.6" y="262.8" width="14.4" height="1.9" fill="#e8842a"/>
<rect x="234.6" y="281.90000000000003" width="14.4" height="1.9" fill="#e8842a"/>
<text x="253.0" y="274.7" font-size="7.5" text-anchor="start" fill="#222" >~4 hs</text>
<line x1="169.7" y1="308.7" x2="192.2" y2="308.7" stroke="#4cc3e6" stroke-width="1.3" />
<line x1="192.2" y1="308.7" x2="262.9" y2="308.7" stroke="#c8413d" stroke-width="1.3" />
<line x1="262.9" y1="308.7" x2="284.8" y2="308.7" stroke="#4cc3e6" stroke-width="1.3" />
<line x1="181.3" y1="308.1" x2="181.3" y2="305.5" stroke="#333" stroke-width="0.75" />
<circle cx="181.3" cy="304.3" r="1.6" fill="#4aa23a"/>
<line x1="220.7" y1="308.1" x2="220.7" y2="305.5" stroke="#333" stroke-width="0.75" />
<circle cx="220.7" cy="304.3" r="1.6" fill="#4aa23a"/>
<line x1="275.8" y1="308.1" x2="275.8" y2="305.5" stroke="#333" stroke-width="0.75" />
<circle cx="275.8" cy="304.3" r="1.6" fill="#4aa23a"/>
<line x1="169.7" y1="316.3" x2="192.2" y2="316.3" stroke="#4cc3e6" stroke-width="1.3" />
<line x1="192.2" y1="316.3" x2="262.9" y2="316.3" stroke="#c8413d" stroke-width="1.3" />
<line x1="262.9" y1="316.3" x2="284.8" y2="316.3" stroke="#4cc3e6" stroke-width="1.3" />
<line x1="181.3" y1="315.7" x2="181.3" y2="313.1" stroke="#333" stroke-width="0.75" />
<circle cx="181.3" cy="311.9" r="1.6" fill="#4aa23a"/>
<line x1="206.5" y1="315.7" x2="206.5" y2="313.1" stroke="#333" stroke-width="0.75" />
<circle cx="206.5" cy="311.9" r="1.6" fill="#4aa23a"/>
<line x1="242.5" y1="315.7" x2="242.5" y2="313.1" stroke="#333" stroke-width="0.75" />
<circle cx="242.5" cy="311.9" r="1.6" fill="#4aa23a"/>
<line x1="275.8" y1="315.7" x2="275.8" y2="313.1" stroke="#333" stroke-width="0.75" />
<circle cx="275.8" cy="311.9" r="1.6" fill="#4aa23a"/>
<line x1="214.9" y1="323.6" x2="262.9" y2="323.6" stroke="#f0a040" stroke-width="1.3" />
<line x1="262.9" y1="323.6" x2="284.8" y2="323.6" stroke="#4cc3e6" stroke-width="1.3" />
<line x1="245.9" y1="323.0" x2="245.9" y2="320.4" stroke="#333" stroke-width="0.75" />
<circle cx="245.9" cy="319.2" r="1.6" fill="#4aa23a"/>
<line x1="275.8" y1="323.0" x2="275.8" y2="320.4" stroke="#333" stroke-width="0.75" />
<circle cx="275.8" cy="319.2" r="1.6" fill="#4aa23a"/>
<line x1="169.7" y1="331.0" x2="192.2" y2="331.0" stroke="#4cc3e6" stroke-width="1.3" />
<line x1="192.2" y1="331.0" x2="262.9" y2="331.0" stroke="#c8413d" stroke-width="1.3" />
<line x1="262.9" y1="331.0" x2="284.8" y2="331.0" stroke="#4cc3e6" stroke-width="1.3" />
<line x1="181.3" y1="330.4" x2="181.3" y2="327.8" stroke="#333" stroke-width="0.75" />
<circle cx="181.3" cy="326.6" r="1.6" fill="#4aa23a"/>
<line x1="214.9" y1="330.4" x2="214.9" y2="327.8" stroke="#333" stroke-width="0.75" />
<circle cx="214.9" cy="326.6" r="1.6" fill="#4aa23a"/>
<line x1="275.8" y1="330.4" x2="275.8" y2="327.8" stroke="#333" stroke-width="0.75" />
<circle cx="275.8" cy="326.6" r="1.6" fill="#4aa23a"/>
<text x="199.9" y="345.1" font-size="7.5" text-anchor="middle" fill="#222" >Amplification</text>
<text x="250.9" y="345.1" font-size="7.5" text-anchor="middle" fill="#222" >High yield</text>
<path d="M224.8,337.9 L229.0,337.9 L229.0,346.0 L230.1,346.0 L226.9,350.2 L223.70000000000002,346.0 L224.8,346.0 Z" fill="url(#ga)"/>
<line x1="169.7" y1="354.7" x2="192.2" y2="354.7" stroke="#4cc3e6" stroke-width="1.3" />
<line x1="192.2" y1="354.7" x2="262.9" y2="354.7" stroke="#c8413d" stroke-width="1.3" />
<line x1="262.9" y1="354.7" x2="284.8" y2="354.7" stroke="#4cc3e6" stroke-width="1.3" />
<line x1="169.7" y1="357.6" x2="192.2" y2="357.6" stroke="#4cc3e6" stroke-width="1.3" />
<line x1="192.2" y1="357.6" x2="262.9" y2="357.6" stroke="#f0a040" stroke-width="1.3" />
<line x1="262.9" y1="357.6" x2="284.8" y2="357.6" stroke="#4cc3e6" stroke-width="1.3" />
<line x1="169.7" y1="363.9" x2="192.2" y2="363.9" stroke="#4cc3e6" stroke-width="1.3" />
<line x1="192.2" y1="363.9" x2="262.9" y2="363.9" stroke="#c8413d" stroke-width="1.3" />
<line x1="262.9" y1="363.9" x2="284.8" y2="363.9" stroke="#4cc3e6" stroke-width="1.3" />
<line x1="169.7" y1="366.8" x2="192.2" y2="366.8" stroke="#4cc3e6" stroke-width="1.3" />
<line x1="192.2" y1="366.8" x2="262.9" y2="366.8" stroke="#f0a040" stroke-width="1.3" />
<line x1="262.9" y1="366.8" x2="284.8" y2="366.8" stroke="#4cc3e6" stroke-width="1.3" />
<line x1="169.7" y1="373.1" x2="192.2" y2="373.1" stroke="#4cc3e6" stroke-width="1.3" />
<line x1="192.2" y1="373.1" x2="262.9" y2="373.1" stroke="#c8413d" stroke-width="1.3" />
<line x1="262.9" y1="373.1" x2="284.8" y2="373.1" stroke="#4cc3e6" stroke-width="1.3" />
<line x1="169.7" y1="376.0" x2="192.2" y2="376.0" stroke="#4cc3e6" stroke-width="1.3" />
<line x1="192.2" y1="376.0" x2="262.9" y2="376.0" stroke="#f0a040" stroke-width="1.3" />
<line x1="262.9" y1="376.0" x2="284.8" y2="376.0" stroke="#4cc3e6" stroke-width="1.3" />
<line x1="169.7" y1="382.3" x2="192.2" y2="382.3" stroke="#4cc3e6" stroke-width="1.3" />
<line x1="192.2" y1="382.3" x2="262.9" y2="382.3" stroke="#c8413d" stroke-width="1.3" />
<line x1="262.9" y1="382.3" x2="284.8" y2="382.3" stroke="#4cc3e6" stroke-width="1.3" />
<line x1="169.7" y1="385.2" x2="192.2" y2="385.2" stroke="#4cc3e6" stroke-width="1.3" />
<line x1="192.2" y1="385.2" x2="262.9" y2="385.2" stroke="#f0a040" stroke-width="1.3" />
<line x1="262.9" y1="385.2" x2="284.8" y2="385.2" stroke="#4cc3e6" stroke-width="1.3" />
<text x="346.9" y="192.2" font-size="7.5" text-anchor="middle" fill="#222" >Bisulfite</text>
<text x="346.9" y="201.4" font-size="7.5" text-anchor="middle" fill="#222" >Conversion</text>
<path d="M372.0,177.8 L376.20000000000005,177.8 L376.20000000000005,219.5 L377.3,219.5 L374.1,223.7 L370.90000000000003,219.5 L372.0,219.5 Z" fill="url(#ga)"/>
<path d="M384.4,186.8 C384.4,191.20000000000002 389.05,192.88 389.05,195.4 C389.05,197.92000000000002 384.4,199.6 384.4,204.0 L395.3,204.0 C395.3,199.6 390.65000000000003,197.92000000000002 390.65000000000003,195.4 C390.65000000000003,192.88 395.3,191.20000000000002 395.3,186.8 Z" fill="#ffffff" stroke="#2f6b45" stroke-width="1"/>
<path d="M385.5,190.36 L394.2,190.36 C394.0,192.46 390.35,193.72 390.25,195.4 L389.45000000000005,195.4 C389.35,193.72 385.7,192.46 385.5,190.36 Z" fill="#7cc48a"/>
<path d="M389.85,195.4 L389.85,203.0" stroke="#7cc48a" stroke-width="0.9"/>
<path d="M384.9,204.0 C385.4,201.70000000000002 388.85,200.86 389.85,200.65 C390.85,200.86 394.3,201.70000000000002 394.8,204.0 Z" fill="#7cc48a"/>
<rect x="382.5" y="184.9" width="14.7" height="1.9" fill="#2f6b45"/>
<rect x="382.5" y="204.0" width="14.7" height="1.9" fill="#2f6b45"/>
<text x="399.8" y="197.5" font-size="7.5" text-anchor="start" fill="#222" >2.5 hs</text>
<line x1="317.3" y1="231.1" x2="339.7" y2="231.1" stroke="#4cc3e6" stroke-width="1.3" />
<line x1="339.7" y1="231.1" x2="390.0" y2="231.1" stroke="#c8413d" stroke-width="1.3" />
<line x1="330.1" y1="230.5" x2="330.1" y2="227.9" stroke="#333" stroke-width="0.75" />
<circle cx="330.1" cy="226.7" r="1.6" fill="#c8413d"/>
<line x1="354.5" y1="230.5" x2="354.5" y2="227.9" stroke="#333" stroke-width="0.75" />
<circle cx="354.5" cy="226.7" r="1.6" fill="#c8413d"/>
<line x1="358.8" y1="237.8" x2="410.9" y2="237.8" stroke="#f0a040" stroke-width="1.3" />
<line x1="410.9" y1="237.8" x2="432.7" y2="237.8" stroke="#4cc3e6" stroke-width="1.3" />
<line x1="399.0" y1="237.2" x2="399.0" y2="234.6" stroke="#333" stroke-width="0.75" />
<circle cx="399.0" cy="233.4" r="1.6" fill="#c8413d"/>
<line x1="427.2" y1="237.2" x2="427.2" y2="234.6" stroke="#333" stroke-width="0.75" />
<circle cx="427.2" cy="233.4" r="1.6" fill="#c8413d"/>
<line x1="317.3" y1="242.3" x2="339.7" y2="242.3" stroke="#4cc3e6" stroke-width="1.3" />
<line x1="339.7" y1="242.3" x2="355.1" y2="242.3" stroke="#c8413d" stroke-width="1.3" />
<line x1="330.1" y1="241.7" x2="330.1" y2="239.1" stroke="#333" stroke-width="0.75" />
<circle cx="330.1" cy="237.9" r="1.6" fill="#c8413d"/>
<line x1="372.4" y1="246.0" x2="410.9" y2="246.0" stroke="#f0a040" stroke-width="1.3" />
<line x1="410.9" y1="246.0" x2="432.7" y2="246.0" stroke="#4cc3e6" stroke-width="1.3" />
<line x1="427.2" y1="245.4" x2="427.2" y2="242.8" stroke="#333" stroke-width="0.75" />
<circle cx="427.2" cy="241.6" r="1.6" fill="#c8413d"/>
<line x1="317.3" y1="250.7" x2="339.7" y2="250.7" stroke="#4cc3e6" stroke-width="1.3" />
<line x1="339.7" y1="250.7" x2="364.3" y2="250.7" stroke="#c8413d" stroke-width="1.3" />
<line x1="330.1" y1="250.1" x2="330.1" y2="247.5" stroke="#333" stroke-width="0.75" />
<circle cx="330.1" cy="246.3" r="1.6" fill="#c8413d"/>
<line x1="354.5" y1="250.1" x2="354.5" y2="247.5" stroke="#333" stroke-width="0.75" />
<circle cx="354.5" cy="246.3" r="1.6" fill="#f3b33a"/>
<line x1="383.1" y1="254.8" x2="410.9" y2="254.8" stroke="#f0a040" stroke-width="1.3" />
<line x1="410.9" y1="254.8" x2="432.7" y2="254.8" stroke="#4cc3e6" stroke-width="1.3" />
<line x1="427.2" y1="254.2" x2="427.2" y2="251.6" stroke="#333" stroke-width="0.75" />
<circle cx="427.2" cy="250.4" r="1.6" fill="#c8413d"/>
<line x1="317.3" y1="258.7" x2="339.7" y2="258.7" stroke="#4cc3e6" stroke-width="1.3" />
<line x1="339.7" y1="258.7" x2="391.9" y2="258.7" stroke="#c8413d" stroke-width="1.3" />
<line x1="330.1" y1="258.1" x2="330.1" y2="255.5" stroke="#333" stroke-width="0.75" />
<circle cx="330.1" cy="254.3" r="1.6" fill="#c8413d"/>
<line x1="354.5" y1="258.1" x2="354.5" y2="255.5" stroke="#333" stroke-width="0.75" />
<circle cx="354.5" cy="254.3" r="1.6" fill="#c8413d"/>
<line x1="317.3" y1="266.0" x2="339.7" y2="266.0" stroke="#4cc3e6" stroke-width="1.3" />
<line x1="339.7" y1="266.0" x2="410.9" y2="266.0" stroke="#f0a040" stroke-width="1.3" />
<line x1="410.9" y1="266.0" x2="432.7" y2="266.0" stroke="#4cc3e6" stroke-width="1.3" />
<line x1="330.1" y1="265.4" x2="330.1" y2="262.8" stroke="#333" stroke-width="0.75" />
<circle cx="330.1" cy="261.6" r="1.6" fill="#c8413d"/>
<line x1="394.3" y1="265.4" x2="394.3" y2="262.8" stroke="#333" stroke-width="0.75" />
<circle cx="394.3" cy="261.6" r="1.6" fill="#c8413d"/>
<line x1="427.2" y1="265.4" x2="427.2" y2="262.8" stroke="#333" stroke-width="0.75" />
<circle cx="427.2" cy="261.6" r="1.6" fill="#c8413d"/>
<text x="345.0" y="285.8" font-size="7.5" text-anchor="middle" fill="#222" >Amplification</text>
<text x="398.3" y="285.8" font-size="7.5" text-anchor="middle" fill="#222" >Low yield</text>
<path d="M372.0,272.6 L376.20000000000005,272.6 L376.20000000000005,291.5 L377.3,291.5 L374.1,295.7 L370.90000000000003,291.5 L372.0,291.5 Z" fill="url(#ga)"/>
<line x1="317.6" y1="302.3" x2="339.9" y2="302.3" stroke="#4cc3e6" stroke-width="1.3" />
<line x1="339.9" y1="302.3" x2="410.9" y2="302.3" stroke="#c8413d" stroke-width="1.3" />
<line x1="410.9" y1="302.3" x2="432.7" y2="302.3" stroke="#4cc3e6" stroke-width="1.3" />
<line x1="317.6" y1="305.2" x2="339.9" y2="305.2" stroke="#4cc3e6" stroke-width="1.3" />
<line x1="339.9" y1="305.2" x2="410.9" y2="305.2" stroke="#f0a040" stroke-width="1.3" />
<line x1="410.9" y1="305.2" x2="432.7" y2="305.2" stroke="#4cc3e6" stroke-width="1.3" />
<line x1="317.6" y1="310.2" x2="339.9" y2="310.2" stroke="#4cc3e6" stroke-width="1.3" />
<line x1="339.9" y1="310.2" x2="410.9" y2="310.2" stroke="#c8413d" stroke-width="1.3" />
<line x1="410.9" y1="310.2" x2="432.7" y2="310.2" stroke="#4cc3e6" stroke-width="1.3" />
<line x1="317.6" y1="313.1" x2="339.9" y2="313.1" stroke="#4cc3e6" stroke-width="1.3" />
<line x1="339.9" y1="313.1" x2="410.9" y2="313.1" stroke="#f0a040" stroke-width="1.3" />
<line x1="410.9" y1="313.1" x2="432.7" y2="313.1" stroke="#4cc3e6" stroke-width="1.3" />
<line x1="361.5" y1="331.2" x2="361.5" y2="337.7" stroke="#444" stroke-width="0.8" />
<circle cx="361.5" cy="331.2" r="3.2" fill="#c8413d"/>
<text x="368.8" y="335.2" font-size="7.5" text-anchor="start" fill="#222" >5mC</text>
<line x1="361.5" y1="353.4" x2="361.5" y2="359.9" stroke="#444" stroke-width="0.8" />
<circle cx="361.5" cy="353.4" r="3.2" fill="#f3b33a"/>
<text x="368.8" y="357.4" font-size="7.5" text-anchor="start" fill="#222" >5hmC</text>
<line x1="361.5" y1="374.6" x2="361.5" y2="381.1" stroke="#444" stroke-width="0.8" />
<circle cx="361.5" cy="374.6" r="3.2" fill="#4aa23a"/>
<text x="368.8" y="378.6" font-size="7.5" text-anchor="start" fill="#222" >5caC/g</text>
<text x="0.0" y="397.5" font-size="11.5" text-anchor="start" fill="#222" >b</text>
<text x="155.2" y="404.8" font-size="9.5" text-anchor="start" fill="#222" >5-mer Oligo (AGCGA) – unmethylated C</text>
<line x1="50.6" y1="414.5" x2="50.6" y2="471.6" stroke="#333" stroke-width="0.8"/>
<line x1="47.800000000000004" y1="415.0" x2="50.6" y2="415.0" stroke="#333" stroke-width="0.7"/>
<text x="47.3" y="416.9" font-size="7.1" text-anchor="end" fill="#222" letter-spacing="-0.25">1.5x10<tspan font-size="4.6" dy="-2.7">5</tspan></text>
<line x1="47.800000000000004" y1="433.7" x2="50.6" y2="433.7" stroke="#333" stroke-width="0.7"/>
<text x="47.3" y="435.6" font-size="7.1" text-anchor="end" fill="#222" letter-spacing="-0.25">1x10<tspan font-size="4.6" dy="-2.7">5</tspan></text>
<line x1="47.800000000000004" y1="452.4" x2="50.6" y2="452.4" stroke="#333" stroke-width="0.7"/>
<text x="47.3" y="454.3" font-size="7.1" text-anchor="end" fill="#222" letter-spacing="-0.25">5x10<tspan font-size="4.6" dy="-2.7">4</tspan></text>
<line x1="47.800000000000004" y1="471.1" x2="50.6" y2="471.1" stroke="#333" stroke-width="0.7"/>
<text x="47.3" y="473.0" font-size="7.1" text-anchor="end" fill="#222">0</text>
<line x1="50.6" y1="471.1" x2="429.2" y2="471.1" stroke="#333" stroke-width="0.7"/>
<line x1="50.1" y1="471.1" x2="50.1" y2="472.7" stroke="#333" stroke-width="0.5"/>
<line x1="61.2" y1="471.1" x2="61.2" y2="472.7" stroke="#333" stroke-width="0.5"/>
<line x1="72.3" y1="471.1" x2="72.3" y2="472.7" stroke="#333" stroke-width="0.5"/>
<line x1="83.5" y1="471.1" x2="83.5" y2="472.7" stroke="#333" stroke-width="0.5"/>
<line x1="94.6" y1="471.1" x2="94.6" y2="472.7" stroke="#333" stroke-width="0.5"/>
<line x1="105.7" y1="471.1" x2="105.7" y2="472.7" stroke="#333" stroke-width="0.5"/>
<line x1="116.9" y1="471.1" x2="116.9" y2="472.7" stroke="#333" stroke-width="0.5"/>
<line x1="128.0" y1="471.1" x2="128.0" y2="472.7" stroke="#333" stroke-width="0.5"/>
<line x1="139.1" y1="471.1" x2="139.1" y2="472.7" stroke="#333" stroke-width="0.5"/>
<line x1="150.2" y1="471.1" x2="150.2" y2="472.7" stroke="#333" stroke-width="0.5"/>
<line x1="161.4" y1="471.1" x2="161.4" y2="472.7" stroke="#333" stroke-width="0.5"/>
<line x1="172.5" y1="471.1" x2="172.5" y2="472.7" stroke="#333" stroke-width="0.5"/>
<line x1="183.6" y1="471.1" x2="183.6" y2="472.7" stroke="#333" stroke-width="0.5"/>
<line x1="194.8" y1="471.1" x2="194.8" y2="472.7" stroke="#333" stroke-width="0.5"/>
<line x1="205.9" y1="471.1" x2="205.9" y2="472.7" stroke="#333" stroke-width="0.5"/>
<line x1="217.0" y1="471.1" x2="217.0" y2="472.7" stroke="#333" stroke-width="0.5"/>
<line x1="228.2" y1="471.1" x2="228.2" y2="472.7" stroke="#333" stroke-width="0.5"/>
<line x1="239.3" y1="471.1" x2="239.3" y2="472.7" stroke="#333" stroke-width="0.5"/>
<line x1="250.4" y1="471.1" x2="250.4" y2="472.7" stroke="#333" stroke-width="0.5"/>
<line x1="261.5" y1="471.1" x2="261.5" y2="472.7" stroke="#333" stroke-width="0.5"/>
<line x1="272.7" y1="471.1" x2="272.7" y2="472.7" stroke="#333" stroke-width="0.5"/>
<line x1="283.8" y1="471.1" x2="283.8" y2="472.7" stroke="#333" stroke-width="0.5"/>
<line x1="294.9" y1="471.1" x2="294.9" y2="472.7" stroke="#333" stroke-width="0.5"/>
<line x1="306.1" y1="471.1" x2="306.1" y2="472.7" stroke="#333" stroke-width="0.5"/>
<line x1="317.2" y1="471.1" x2="317.2" y2="472.7" stroke="#333" stroke-width="0.5"/>
<line x1="328.3" y1="471.1" x2="328.3" y2="472.7" stroke="#333" stroke-width="0.5"/>
<line x1="339.5" y1="471.1" x2="339.5" y2="472.7" stroke="#333" stroke-width="0.5"/>
<line x1="350.6" y1="471.1" x2="350.6" y2="472.7" stroke="#333" stroke-width="0.5"/>
<line x1="361.7" y1="471.1" x2="361.7" y2="472.7" stroke="#333" stroke-width="0.5"/>
<line x1="372.9" y1="471.1" x2="372.9" y2="472.7" stroke="#333" stroke-width="0.5"/>
<line x1="384.0" y1="471.1" x2="384.0" y2="472.7" stroke="#333" stroke-width="0.5"/>
<line x1="395.1" y1="471.1" x2="395.1" y2="472.7" stroke="#333" stroke-width="0.5"/>
<line x1="406.2" y1="471.1" x2="406.2" y2="472.7" stroke="#333" stroke-width="0.5"/>
<line x1="417.4" y1="471.1" x2="417.4" y2="472.7" stroke="#333" stroke-width="0.5"/>
<line x1="428.5" y1="471.1" x2="428.5" y2="472.7" stroke="#333" stroke-width="0.5"/>
<polyline points="50.6,470.89 51.1,470.61 51.6,470.77 52.1,470.56 52.6,470.54 53.1,471.04 53.6,471.09 54.1,470.35 54.6,470.87 55.1,470.89 55.6,470.20 56.1,470.68 56.6,470.35 57.1,470.67 57.6,470.52 58.1,470.96 58.6,470.53 59.1,470.32 59.6,470.63 60.1,470.43 60.6,470.50 61.1,471.04 61.6,470.42 62.1,470.57 62.6,470.83 63.1,471.07 63.6,470.32 64.1,470.67 64.6,470.45 65.1,470.31 65.6,470.46 66.1,470.27 66.6,470.74 67.1,470.38 67.6,470.70 68.1,470.26 68.6,470.31 69.1,471.01 69.6,470.98 70.1,470.90 70.6,470.23 71.1,470.71 71.6,470.54 72.1,470.83 72.6,470.64 73.1,470.75 73.6,470.78 74.1,470.57 74.6,470.57 75.1,470.29 75.6,470.49 76.1,470.26 76.6,470.33 77.1,470.21 77.6,470.50 78.1,470.95 78.6,470.33 79.1,470.23 79.6,470.29 80.1,470.59 80.6,470.46 81.1,470.91 81.6,470.35 82.1,470.58 82.6,470.84 83.1,471.04 83.6,470.33 84.1,470.21 84.6,471.02 85.1,470.38 85.6,470.73 86.1,470.96 86.6,470.84 87.1,470.41 87.6,470.31 88.1,471.06 88.6,470.55 89.1,471.06 89.6,470.45 90.1,470.80 90.6,470.31 91.1,470.22 91.6,470.65 92.1,470.20 92.6,470.82 93.1,471.03 93.6,470.56 94.1,471.07 94.6,470.92 95.1,470.73 95.6,470.55 96.1,470.96 96.6,471.06 97.1,470.32 97.6,470.82 98.1,470.24 98.6,470.29 99.1,470.76 99.6,470.69 100.1,470.63 100.6,470.52 101.1,470.56 101.6,470.60 102.1,470.54 102.6,470.25 103.1,470.64 103.6,470.71 104.1,470.45 104.6,470.89 105.1,470.83 105.6,470.22 106.1,470.63 106.6,470.61 107.1,471.09 107.6,470.73 108.1,470.58 108.6,471.08 109.1,470.55 109.6,470.53 110.1,471.05 110.6,470.54 111.1,470.68 111.6,470.49 112.1,470.78 112.6,470.46 113.1,470.44 113.6,471.08 114.1,471.05 114.6,470.49 115.1,470.23 115.6,470.87 116.1,470.69 116.6,470.57 117.1,470.81 117.6,470.77 118.1,470.82 118.6,470.77 119.1,470.56 119.6,470.83 120.1,470.76 120.6,470.40 121.1,471.08 121.6,470.59 122.1,470.44 122.6,470.82 123.1,470.90 123.6,470.38 124.1,470.89 124.6,470.93 125.1,470.71 125.6,470.47 126.1,471.01 126.6,470.81 127.1,470.80 127.6,470.35 128.1,470.71 128.6,470.33 129.1,470.95 129.6,470.80 130.1,470.51 130.6,470.30 131.1,470.69 131.6,470.90 132.1,470.99 132.6,470.62 133.1,470.93 133.6,470.37 134.1,470.35 134.6,470.93 135.1,470.85 135.6,470.37 136.1,470.52 136.6,470.37 137.1,470.79 137.6,470.98 138.1,470.84 138.6,470.39 139.1,470.86 139.6,470.79 140.1,470.72 140.6,470.72 141.1,470.73 141.6,470.27 142.1,470.96 142.6,471.10 143.1,470.25 143.6,470.31 144.1,470.21 144.6,470.71 145.1,470.24 145.6,470.27 146.1,470.90 146.6,470.43 147.1,470.35 147.6,470.50 148.1,470.63 148.6,470.84 149.1,470.79 149.6,470.90 150.1,471.04 150.6,470.57 151.1,470.84 151.6,470.37 152.1,471.06 152.6,470.29 153.1,470.48 153.6,470.27 154.1,470.29 154.6,470.29 155.1,470.58 155.6,471.09 156.1,470.43 156.6,470.95 157.1,470.83 157.6,469.66 158.1,469.23 158.6,470.00 159.1,469.49 159.6,469.42 160.1,470.47 160.6,469.31 161.1,469.68 161.6,468.98 162.1,470.35 162.6,469.15 163.1,470.62 163.6,470.01 164.1,469.96 164.6,470.40 165.1,470.85 165.6,470.99 166.1,471.04 166.6,470.22 167.1,470.33 167.6,471.02 168.1,470.65 168.6,470.82 169.1,470.82 169.6,470.78 170.1,470.52 170.6,470.57 171.1,470.78 171.6,470.93 172.1,470.80 172.6,470.99 173.1,470.60 173.6,470.46 174.1,470.76 174.6,471.03 175.1,470.94 175.6,470.76 176.1,470.56 176.6,470.40 177.1,470.76 177.6,470.38 178.1,470.54 178.6,470.71 179.1,470.76 179.6,470.65 180.1,470.47 180.6,470.72 181.1,470.48 181.6,470.69 182.1,470.88 182.6,470.62 183.1,470.47 183.6,471.04 184.1,470.72 184.6,470.72 185.1,470.31 185.6,470.26 186.1,470.76 186.6,470.29 187.1,470.39 187.6,470.86 188.1,470.68 188.6,470.99 189.1,470.37 189.6,470.50 190.1,470.30 190.6,470.39 191.1,470.50 191.6,470.44 192.1,470.59 192.6,471.01 193.1,470.56 193.6,469.89 194.1,470.93 194.6,469.78 195.1,470.91 195.6,470.17 196.1,469.40 196.6,469.01 197.1,469.46 197.6,469.99 198.1,469.64 198.6,469.96 199.1,470.17 199.6,470.02 200.1,470.02 200.6,470.59 201.1,470.55 201.6,470.42 202.1,470.75 202.6,470.77 203.1,470.74 203.6,470.78 204.1,470.72 204.6,471.03 205.1,470.65 205.6,470.22 206.1,470.73 206.6,470.43 207.1,470.96 207.6,470.48 208.1,470.42 208.6,470.49 209.1,470.63 209.6,470.66 210.1,470.52 210.6,470.29 211.1,470.97 211.6,471.01 212.1,470.43 212.6,470.28 213.1,470.63 213.6,470.70 214.1,470.45 214.6,470.93 215.1,470.86 215.6,470.92 216.1,470.57 216.6,470.82 217.1,470.89 217.6,470.48 218.1,470.24 218.6,470.83 219.1,470.47 219.6,470.73 220.1,470.33 220.6,470.57 221.1,470.86 221.6,470.90 222.1,471.08 222.6,470.67 223.1,470.76 223.6,470.94 224.1,470.78 224.6,470.81 225.1,470.40 225.6,470.97 226.1,470.21 226.6,470.67 227.1,470.56 227.6,470.68 228.1,470.35 228.6,470.36 229.1,470.60 229.6,470.67 230.1,470.45 230.6,470.33 231.1,470.74 231.6,470.44 232.1,470.24 232.6,470.68 233.1,470.89 233.6,470.89 234.1,470.45 234.6,470.49 235.1,470.24 235.6,470.33 236.1,470.88 236.6,470.93 237.1,470.87 237.6,470.93 238.1,470.47 238.6,470.33 239.1,470.29 239.6,470.87 240.1,470.32 240.6,470.82 241.1,470.72 241.6,470.44 242.1,471.02 242.6,471.02 243.1,470.35 243.6,470.84 244.1,470.78 244.6,470.58 245.1,470.49 245.6,471.09 246.1,470.80 246.6,470.71 247.1,470.66 247.6,470.91 248.1,470.57 248.6,470.24 249.1,470.75 249.6,470.61 250.1,470.99 250.6,470.85 251.1,470.50 251.6,471.00 252.1,470.30 252.6,470.28 253.1,471.01 253.6,470.25 254.1,470.76 254.6,470.40 255.1,470.42 255.6,470.83 256.1,470.49 256.6,470.51 257.1,470.37 257.6,470.86 258.1,470.42 258.6,470.23 259.1,470.49 259.6,470.62 260.1,471.00 260.6,470.66 261.1,470.78 261.6,470.45 262.1,470.49 262.6,470.59 263.1,470.94 263.6,470.52 264.1,470.53 264.6,470.94 265.1,470.30 265.6,470.51 266.1,470.99 266.6,470.26 267.1,470.97 267.6,470.80 268.1,470.45 268.6,470.56 269.1,470.60 269.6,470.52 270.1,470.69 270.6,470.82 271.1,470.94 271.6,471.04 272.1,470.46 272.6,470.42 273.1,470.61 273.6,470.43 274.1,470.78 274.6,470.86 275.1,470.75 275.6,470.31 276.1,471.06 276.6,470.65 277.1,470.88 277.6,470.41 278.1,470.78 278.6,470.80 279.1,470.74 279.6,470.61 280.1,470.41 280.6,470.78 281.1,470.34 281.6,471.00 282.1,470.86 282.6,471.01 283.1,471.00 283.6,470.40 284.1,470.45 284.6,470.93 285.1,470.93 285.6,470.73 286.1,470.43 286.6,470.37 287.1,470.43 287.6,470.57 288.1,470.97 288.6,470.74 289.1,470.93 289.6,470.63 290.1,470.59 290.6,470.92 291.1,470.87 291.6,470.40 292.1,471.07 292.6,470.38 293.1,470.30 293.6,470.25 294.1,470.76 294.6,470.60 295.1,470.58 295.6,470.53 296.1,470.22 296.6,470.48 297.1,470.83 297.6,470.33 298.1,470.66 298.6,470.56 299.1,470.45 299.6,471.10 300.1,470.41 300.6,470.50 301.1,470.66 301.6,470.63 302.1,470.69 302.6,470.93 303.1,470.62 303.6,471.07 304.1,470.65 304.6,470.52 305.1,470.70 305.6,470.59 306.1,470.24 306.6,470.30 307.1,470.98 307.6,470.39 308.1,470.54 308.6,471.05 309.1,470.78 309.6,470.89 310.1,471.03 310.6,470.62 311.1,470.26 311.6,470.81 312.1,470.32 312.6,470.47 313.1,470.98 313.6,470.33 314.1,470.56 314.6,470.27 315.1,470.46 315.6,470.43 316.1,470.79 316.6,470.37 317.1,470.26 317.6,470.32 318.1,470.71 318.6,470.42 319.1,470.66 319.6,471.00 320.1,471.06 320.6,471.03 321.1,470.92 321.6,470.96 322.1,470.65 322.6,470.47 323.1,470.62 323.6,470.72 324.1,470.52 324.6,470.83 325.1,470.68 325.6,470.42 326.1,470.74 326.6,470.94 327.1,470.29 327.6,470.45 328.1,470.77 328.6,470.77 329.1,470.62 329.6,470.56 330.1,470.90 330.6,471.10 331.1,470.91 331.6,470.40 332.1,470.97 332.6,470.69 333.1,470.92 333.6,470.91 334.1,470.95 334.6,470.74 335.1,470.95 335.6,471.08 336.1,471.00 336.6,470.95 337.1,470.66 337.6,471.05 338.1,471.08 338.6,470.70 339.1,470.73 339.6,470.47 340.1,471.05 340.6,470.74 341.1,470.74 341.6,471.08 342.1,470.23 342.6,470.90 343.1,471.02 343.6,470.67 344.1,470.95 344.6,470.54 345.1,470.79 345.6,470.99 346.1,471.05 346.6,470.45 347.1,470.85 347.6,470.39 348.1,470.68 348.6,470.26 349.1,470.83 349.6,470.88 350.1,470.86 350.6,470.37 351.1,470.53 351.6,470.79 352.1,471.02 352.6,470.49 353.1,470.23 353.6,470.57 354.1,471.10 354.6,471.07 355.1,471.02 355.6,470.95 356.1,471.07 356.6,471.05 357.1,470.51 357.6,470.29 358.1,470.92 358.6,470.22 359.1,470.67 359.6,470.38 360.1,470.27 360.6,470.25 361.1,471.07 361.6,470.83 362.1,470.55 362.6,470.25 363.1,471.02 363.6,470.84 364.1,470.34 364.6,471.00 365.1,470.75 365.6,470.80 366.1,470.49 366.6,470.26 367.1,470.94 367.6,470.43 368.1,470.44 368.6,470.35 369.1,470.60 369.6,470.27 370.1,470.77 370.6,470.73 371.1,470.89 371.6,470.40 372.1,470.67 372.6,470.86 373.1,470.95 373.6,470.45 374.1,470.55 374.6,470.46 375.1,470.75 375.6,470.66 376.1,470.96 376.6,470.46 377.1,471.08 377.6,470.68 378.1,470.42 378.6,470.49 379.1,471.01 379.6,470.89 380.1,470.34 380.6,470.52 381.1,470.31 381.6,470.31 382.1,470.70 382.6,470.29 383.1,470.44 383.6,470.80 384.1,470.77 384.6,471.04 385.1,470.74 385.6,470.24 386.1,471.01 386.6,470.59 387.1,471.00 387.6,471.03 388.1,470.52 388.6,470.88 389.1,471.06 389.6,470.96 390.1,470.52 390.6,470.57 391.1,471.09 391.6,470.89 392.1,470.23 392.6,470.90 393.1,470.59 393.6,470.72 394.1,470.40 394.6,470.56 395.1,470.39 395.6,470.62 396.1,470.93 396.6,470.94 397.1,471.03 397.6,470.36 398.1,471.00 398.6,471.08 399.1,470.23 399.6,470.92 400.1,470.30 400.6,471.02 401.1,470.68 401.6,470.90 402.1,470.35 402.6,470.55 403.1,470.52 403.6,470.41 404.1,470.32 404.6,470.79 405.1,470.56 405.6,470.70 406.1,471.00 406.6,470.35 407.1,470.57 407.6,470.37 408.1,470.91 408.6,470.61 409.1,470.68 409.6,470.44 410.1,471.03 410.6,470.79 411.1,470.66 411.6,471.04 412.1,470.60 412.6,470.44 413.1,470.72 413.6,470.52 414.1,470.55 414.6,470.91 415.1,470.78 415.6,470.20 416.1,470.80 416.6,470.71 417.1,471.02 417.6,470.90 418.1,470.95 418.6,470.26 419.1,470.45 419.6,470.31 420.1,470.21 420.6,470.55 421.1,470.26 421.6,470.62 422.1,470.72 422.6,470.25 423.1,470.29 423.6,470.25 424.1,470.66 424.6,470.40 425.1,470.73 425.6,470.20 426.1,470.27 426.6,470.84 427.1,470.26 427.6,470.93 428.1,471.01 428.6,470.45 429.1,470.84" fill="none" stroke="#7a7a7a" stroke-width="0.6"/>
<path d="M112.5,471.1 L113.1,429.1 L113.7,471.1" fill="#7a7a7a" stroke="#7a7a7a" stroke-width="0.5"/>
<path d="M114.6,471.1 L115.2,445.9 L115.8,471.1" fill="#7a7a7a" stroke="#7a7a7a" stroke-width="0.5"/>
<path d="M116.8,471.1 L117.4,457.6 L118.0,471.1" fill="#7a7a7a" stroke="#7a7a7a" stroke-width="0.5"/>
<path d="M119.1,471.1 L119.7,465.3 L120.3,471.1" fill="#7a7a7a" stroke="#7a7a7a" stroke-width="0.5"/>
<path d="M121.3,471.1 L121.9,469.1 L122.5,471.1" fill="#7a7a7a" stroke="#7a7a7a" stroke-width="0.5"/>
<text x="114.3" y="426.2" font-size="6.6" text-anchor="middle" fill="#222" >1,508.33</text>
<text x="368.0" y="426.9" font-size="9.5" text-anchor="middle" fill="#888" >Untreated</text>
<text transform="translate(21.2,439.2) rotate(-90)" font-size="9.5" text-anchor="middle" fill="#222">Intensity</text>
<line x1="50.6" y1="479.7" x2="50.6" y2="536.7" stroke="#333" stroke-width="0.8"/>
<line x1="47.800000000000004" y1="480.2" x2="50.6" y2="480.2" stroke="#333" stroke-width="0.7"/>
<text x="47.3" y="482.1" font-size="7.1" text-anchor="end" fill="#222" letter-spacing="-0.25">1.5x10<tspan font-size="4.6" dy="-2.7">5</tspan></text>
<line x1="47.800000000000004" y1="498.8" x2="50.6" y2="498.8" stroke="#333" stroke-width="0.7"/>
<text x="47.3" y="500.7" font-size="7.1" text-anchor="end" fill="#222" letter-spacing="-0.25">1x10<tspan font-size="4.6" dy="-2.7">5</tspan></text>
<line x1="47.800000000000004" y1="517.4" x2="50.6" y2="517.4" stroke="#333" stroke-width="0.7"/>
<text x="47.3" y="519.3" font-size="7.1" text-anchor="end" fill="#222" letter-spacing="-0.25">5x10<tspan font-size="4.6" dy="-2.7">4</tspan></text>
<line x1="47.800000000000004" y1="536.2" x2="50.6" y2="536.2" stroke="#333" stroke-width="0.7"/>
<text x="47.3" y="538.1" font-size="7.1" text-anchor="end" fill="#222">0</text>
<line x1="50.6" y1="536.2" x2="429.2" y2="536.2" stroke="#333" stroke-width="0.7"/>
<line x1="50.1" y1="536.2" x2="50.1" y2="537.8" stroke="#333" stroke-width="0.5"/>
<line x1="61.2" y1="536.2" x2="61.2" y2="537.8" stroke="#333" stroke-width="0.5"/>
<line x1="72.3" y1="536.2" x2="72.3" y2="537.8" stroke="#333" stroke-width="0.5"/>
<line x1="83.5" y1="536.2" x2="83.5" y2="537.8" stroke="#333" stroke-width="0.5"/>
<line x1="94.6" y1="536.2" x2="94.6" y2="537.8" stroke="#333" stroke-width="0.5"/>
<line x1="105.7" y1="536.2" x2="105.7" y2="537.8" stroke="#333" stroke-width="0.5"/>
<line x1="116.9" y1="536.2" x2="116.9" y2="537.8" stroke="#333" stroke-width="0.5"/>
<line x1="128.0" y1="536.2" x2="128.0" y2="537.8" stroke="#333" stroke-width="0.5"/>
<line x1="139.1" y1="536.2" x2="139.1" y2="537.8" stroke="#333" stroke-width="0.5"/>
<line x1="150.2" y1="536.2" x2="150.2" y2="537.8" stroke="#333" stroke-width="0.5"/>
<line x1="161.4" y1="536.2" x2="161.4" y2="537.8" stroke="#333" stroke-width="0.5"/>
<line x1="172.5" y1="536.2" x2="172.5" y2="537.8" stroke="#333" stroke-width="0.5"/>
<line x1="183.6" y1="536.2" x2="183.6" y2="537.8" stroke="#333" stroke-width="0.5"/>
<line x1="194.8" y1="536.2" x2="194.8" y2="537.8" stroke="#333" stroke-width="0.5"/>
<line x1="205.9" y1="536.2" x2="205.9" y2="537.8" stroke="#333" stroke-width="0.5"/>
<line x1="217.0" y1="536.2" x2="217.0" y2="537.8" stroke="#333" stroke-width="0.5"/>
<line x1="228.2" y1="536.2" x2="228.2" y2="537.8" stroke="#333" stroke-width="0.5"/>
<line x1="239.3" y1="536.2" x2="239.3" y2="537.8" stroke="#333" stroke-width="0.5"/>
<line x1="250.4" y1="536.2" x2="250.4" y2="537.8" stroke="#333" stroke-width="0.5"/>
<line x1="261.5" y1="536.2" x2="261.5" y2="537.8" stroke="#333" stroke-width="0.5"/>
<line x1="272.7" y1="536.2" x2="272.7" y2="537.8" stroke="#333" stroke-width="0.5"/>
<line x1="283.8" y1="536.2" x2="283.8" y2="537.8" stroke="#333" stroke-width="0.5"/>
<line x1="294.9" y1="536.2" x2="294.9" y2="537.8" stroke="#333" stroke-width="0.5"/>
<line x1="306.1" y1="536.2" x2="306.1" y2="537.8" stroke="#333" stroke-width="0.5"/>
<line x1="317.2" y1="536.2" x2="317.2" y2="537.8" stroke="#333" stroke-width="0.5"/>
<line x1="328.3" y1="536.2" x2="328.3" y2="537.8" stroke="#333" stroke-width="0.5"/>
<line x1="339.5" y1="536.2" x2="339.5" y2="537.8" stroke="#333" stroke-width="0.5"/>
<line x1="350.6" y1="536.2" x2="350.6" y2="537.8" stroke="#333" stroke-width="0.5"/>
<line x1="361.7" y1="536.2" x2="361.7" y2="537.8" stroke="#333" stroke-width="0.5"/>
<line x1="372.9" y1="536.2" x2="372.9" y2="537.8" stroke="#333" stroke-width="0.5"/>
<line x1="384.0" y1="536.2" x2="384.0" y2="537.8" stroke="#333" stroke-width="0.5"/>
<line x1="395.1" y1="536.2" x2="395.1" y2="537.8" stroke="#333" stroke-width="0.5"/>
<line x1="406.2" y1="536.2" x2="406.2" y2="537.8" stroke="#333" stroke-width="0.5"/>
<line x1="417.4" y1="536.2" x2="417.4" y2="537.8" stroke="#333" stroke-width="0.5"/>
<line x1="428.5" y1="536.2" x2="428.5" y2="537.8" stroke="#333" stroke-width="0.5"/>
<polyline points="50.6,535.73 51.1,535.62 51.6,536.16 52.1,535.53 52.6,535.95 53.1,535.81 53.6,535.89 54.1,535.53 54.6,535.53 55.1,535.94 55.6,536.11 56.1,535.93 56.6,535.83 57.1,536.13 57.6,536.06 58.1,535.51 58.6,535.57 59.1,535.32 59.6,535.32 60.1,535.41 60.6,535.86 61.1,536.05 61.6,535.92 62.1,535.78 62.6,535.73 63.1,535.71 63.6,535.88 64.1,535.20 64.6,535.07 65.1,535.24 65.6,535.34 66.1,536.09 66.6,535.29 67.1,536.01 67.6,535.40 68.1,535.00 68.6,534.71 69.1,536.02 69.6,535.84 70.1,535.85 70.6,535.63 71.1,535.72 71.6,535.14 72.1,535.97 72.6,536.16 73.1,535.81 73.6,535.64 74.1,535.59 74.6,535.38 75.1,535.47 75.6,535.98 76.1,536.08 76.6,535.52 77.1,535.49 77.6,535.74 78.1,535.45 78.6,535.70 79.1,535.95 79.6,536.05 80.1,536.18 80.6,535.62 81.1,535.39 81.6,535.38 82.1,535.78 82.6,535.60 83.1,535.36 83.6,535.47 84.1,535.66 84.6,535.83 85.1,535.73 85.6,536.05 86.1,536.04 86.6,535.58 87.1,535.31 87.6,535.71 88.1,535.83 88.6,535.88 89.1,535.79 89.6,535.48 90.1,535.79 90.6,535.34 91.1,536.06 91.6,535.92 92.1,535.73 92.6,535.83 93.1,535.43 93.6,535.46 94.1,535.36 94.6,535.65 95.1,536.17 95.6,535.68 96.1,535.71 96.6,535.76 97.1,535.95 97.6,535.56 98.1,535.38 98.6,536.11 99.1,535.60 99.6,535.87 100.1,535.74 100.6,535.39 101.1,535.34 101.6,535.62 102.1,536.02 102.6,535.37 103.1,536.04 103.6,535.86 104.1,535.45 104.6,535.92 105.1,535.96 105.6,535.35 106.1,535.35 106.6,535.91 107.1,535.85 107.6,535.95 108.1,536.08 108.6,535.97 109.1,535.32 109.6,536.13 110.1,535.99 110.6,536.02 111.1,536.13 111.6,535.73 112.1,535.53 112.6,535.45 113.1,535.63 113.6,535.46 114.1,536.20 114.6,535.95 115.1,535.33 115.6,536.14 116.1,535.96 116.6,535.77 117.1,535.96 117.6,535.71 118.1,536.16 118.6,535.99 119.1,535.34 119.6,536.07 120.1,535.39 120.6,536.04 121.1,535.31 121.6,535.59 122.1,535.62 122.6,536.07 123.1,536.15 123.6,535.52 124.1,536.04 124.6,536.03 125.1,535.46 125.6,535.41 126.1,536.16 126.6,535.34 127.1,535.72 127.6,535.86 128.1,536.10 128.6,535.85 129.1,535.31 129.6,535.95 130.1,536.08 130.6,536.07 131.1,536.09 131.6,535.88 132.1,535.38 132.6,536.13 133.1,536.03 133.6,535.35 134.1,535.30 134.6,535.32 135.1,535.98 135.6,535.88 136.1,535.34 136.6,535.76 137.1,535.57 137.6,535.92 138.1,536.18 138.6,535.89 139.1,535.53 139.6,535.50 140.1,535.69 140.6,535.78 141.1,535.72 141.6,535.80 142.1,535.72 142.6,535.45 143.1,536.02 143.6,535.67 144.1,535.36 144.6,535.44 145.1,536.04 145.6,535.33 146.1,535.44 146.6,536.05 147.1,535.96 147.6,536.02 148.1,536.15 148.6,535.32 149.1,535.83 149.6,535.41 150.1,536.10 150.6,536.19 151.1,535.42 151.6,535.49 152.1,535.31 152.6,535.58 153.1,535.73 153.6,535.51 154.1,536.12 154.6,535.71 155.1,535.80 155.6,536.07 156.1,535.66 156.6,535.91 157.1,535.74 157.6,535.86 158.1,535.91 158.6,535.88 159.1,535.66 159.6,535.32 160.1,535.36 160.6,535.42 161.1,535.45 161.6,535.94 162.1,535.32 162.6,535.96 163.1,536.09 163.6,535.75 164.1,535.54 164.6,535.89 165.1,535.62 165.6,535.95 166.1,535.33 166.6,535.79 167.1,535.77 167.6,535.72 168.1,535.41 168.6,535.31 169.1,535.72 169.6,535.80 170.1,535.64 170.6,536.14 171.1,535.82 171.6,535.44 172.1,535.50 172.6,536.15 173.1,535.43 173.6,535.85 174.1,535.32 174.6,535.87 175.1,536.01 175.6,535.71 176.1,535.40 176.6,535.81 177.1,535.42 177.6,535.56 178.1,535.87 178.6,535.93 179.1,535.75 179.6,535.84 180.1,535.86 180.6,535.61 181.1,535.41 181.6,535.67 182.1,536.07 182.6,536.00 183.1,535.87 183.6,535.65 184.1,536.07 184.6,536.13 185.1,535.91 185.6,535.95 186.1,536.17 186.6,535.72 187.1,535.37 187.6,535.72 188.1,535.54 188.6,535.45 189.1,535.45 189.6,535.38 190.1,535.80 190.6,535.59 191.1,536.09 191.6,535.41 192.1,535.86 192.6,535.77 193.1,535.40 193.6,535.94 194.1,536.03 194.6,535.46 195.1,535.66 195.6,536.12 196.1,536.17 196.6,535.88 197.1,536.19 197.6,535.45 198.1,536.03 198.6,535.95 199.1,535.85 199.6,535.74 200.1,535.81 200.6,535.63 201.1,535.61 201.6,535.81 202.1,536.11 202.6,535.32 203.1,535.58 203.6,536.12 204.1,535.80 204.6,535.52 205.1,535.31 205.6,536.14 206.1,536.19 206.6,535.77 207.1,535.82 207.6,535.40 208.1,535.46 208.6,535.90 209.1,535.82 209.6,535.68 210.1,535.40 210.6,536.02 211.1,535.85 211.6,536.12 212.1,535.62 212.6,536.18 213.1,535.36 213.6,535.73 214.1,535.68 214.6,536.12 215.1,535.99 215.6,535.78 216.1,535.43 216.6,535.71 217.1,535.94 217.6,535.32 218.1,535.60 218.6,535.72 219.1,536.02 219.6,535.93 220.1,535.39 220.6,536.08 221.1,535.72 221.6,535.64 222.1,535.88 222.6,535.51 223.1,535.38 223.6,535.43 224.1,535.54 224.6,536.02 225.1,536.15 225.6,535.81 226.1,535.92 226.6,536.03 227.1,535.42 227.6,536.01 228.1,535.46 228.6,535.36 229.1,536.09 229.6,535.38 230.1,535.84 230.6,536.01 231.1,536.03 231.6,536.17 232.1,535.75 232.6,535.85 233.1,535.43 233.6,535.45 234.1,536.15 234.6,535.84 235.1,535.85 235.6,536.04 236.1,535.97 236.6,535.96 237.1,535.58 237.6,535.89 238.1,536.10 238.6,536.00 239.1,535.80 239.6,535.69 240.1,535.98 240.6,535.57 241.1,536.01 241.6,535.60 242.1,535.65 242.6,536.04 243.1,535.52 243.6,535.85 244.1,535.71 244.6,535.66 245.1,535.63 245.6,535.80 246.1,536.15 246.6,535.49 247.1,535.43 247.6,535.76 248.1,535.68 248.6,535.96 249.1,535.39 249.6,535.58 250.1,536.00 250.6,535.46 251.1,535.31 251.6,535.89 252.1,535.30 252.6,535.77 253.1,536.04 253.6,535.55 254.1,535.90 254.6,535.54 255.1,535.67 255.6,536.10 256.1,535.72 256.6,535.43 257.1,535.77 257.6,535.71 258.1,535.42 258.6,535.80 259.1,535.76 259.6,535.68 260.1,535.46 260.6,536.02 261.1,536.12 261.6,535.51 262.1,535.70 262.6,535.93 263.1,535.40 263.6,535.40 264.1,535.71 264.6,535.31 265.1,535.45 265.6,535.53 266.1,535.94 266.6,536.19 267.1,535.59 267.6,535.54 268.1,535.88 268.6,535.77 269.1,535.69 269.6,535.98 270.1,535.57 270.6,535.69 271.1,535.85 271.6,536.10 272.1,535.70 272.6,535.91 273.1,535.55 273.6,536.04 274.1,535.85 274.6,536.02 275.1,535.83 275.6,535.68 276.1,536.10 276.6,536.15 277.1,535.77 277.6,536.02 278.1,535.75 278.6,536.05 279.1,536.11 279.6,535.72 280.1,535.37 280.6,535.42 281.1,535.74 281.6,535.84 282.1,536.14 282.6,535.95 283.1,535.92 283.6,535.35 284.1,536.09 284.6,535.35 285.1,535.77 285.6,535.81 286.1,535.96 286.6,535.33 287.1,536.03 287.6,535.69 288.1,535.74 288.6,536.02 289.1,536.00 289.6,535.31 290.1,535.49 290.6,535.54 291.1,535.39 291.6,536.11 292.1,535.57 292.6,535.52 293.1,536.00 293.6,535.79 294.1,535.32 294.6,535.91 295.1,535.51 295.6,536.05 296.1,535.60 296.6,535.96 297.1,535.74 297.6,535.86 298.1,535.42 298.6,535.53 299.1,535.75 299.6,535.58 300.1,535.82 300.6,535.48 301.1,535.97 301.6,535.71 302.1,535.67 302.6,535.85 303.1,536.16 303.6,536.05 304.1,535.62 304.6,536.01 305.1,535.52 305.6,535.75 306.1,535.34 306.6,535.44 307.1,535.55 307.6,535.86 308.1,536.16 308.6,535.70 309.1,535.53 309.6,535.37 310.1,536.02 310.6,536.06 311.1,535.32 311.6,535.53 312.1,535.76 312.6,535.54 313.1,536.07 313.6,535.71 314.1,535.60 314.6,535.66 315.1,536.05 315.6,536.08 316.1,535.64 316.6,535.40 317.1,536.08 317.6,536.19 318.1,536.13 318.6,535.49 319.1,535.85 319.6,535.79 320.1,535.31 320.6,535.65 321.1,535.96 321.6,535.57 322.1,536.20 322.6,535.95 323.1,535.57 323.6,536.05 324.1,536.17 324.6,535.73 325.1,535.90 325.6,535.33 326.1,536.11 326.6,535.48 327.1,535.85 327.6,535.48 328.1,535.80 328.6,535.60 329.1,535.91 329.6,536.00 330.1,535.79 330.6,535.48 331.1,535.89 331.6,535.99 332.1,535.83 332.6,536.11 333.1,535.92 333.6,535.68 334.1,535.71 334.6,535.66 335.1,535.94 335.6,536.18 336.1,536.18 336.6,535.89 337.1,536.02 337.6,535.69 338.1,535.96 338.6,535.51 339.1,535.66 339.6,535.60 340.1,535.54 340.6,535.73 341.1,535.82 341.6,535.92 342.1,536.14 342.6,535.49 343.1,535.75 343.6,536.11 344.1,535.37 344.6,535.68 345.1,535.64 345.6,535.81 346.1,536.09 346.6,535.30 347.1,536.05 347.6,535.87 348.1,535.30 348.6,536.09 349.1,535.75 349.6,535.77 350.1,535.98 350.6,535.37 351.1,535.83 351.6,536.19 352.1,535.77 352.6,536.20 353.1,535.56 353.6,535.42 354.1,535.38 354.6,536.16 355.1,535.59 355.6,535.93 356.1,535.77 356.6,535.93 357.1,535.93 357.6,536.08 358.1,535.64 358.6,536.12 359.1,535.33 359.6,536.16 360.1,535.33 360.6,536.03 361.1,536.12 361.6,535.53 362.1,535.72 362.6,535.51 363.1,535.74 363.6,535.63 364.1,536.13 364.6,535.59 365.1,535.74 365.6,535.33 366.1,536.19 366.6,536.14 367.1,535.59 367.6,535.37 368.1,535.82 368.6,535.56 369.1,535.70 369.6,535.85 370.1,535.78 370.6,535.66 371.1,536.17 371.6,535.92 372.1,535.54 372.6,535.97 373.1,535.77 373.6,535.97 374.1,535.88 374.6,535.61 375.1,535.53 375.6,534.62 376.1,535.51 376.6,535.79 377.1,534.76 377.6,535.71 378.1,535.84 378.6,535.37 379.1,534.56 379.6,535.25 380.1,535.06 380.6,534.98 381.1,535.14 381.6,535.66 382.1,535.11 382.6,534.53 383.1,534.96 383.6,535.77 384.1,535.86 384.6,535.75 385.1,535.81 385.6,536.02 386.1,535.84 386.6,535.62 387.1,535.56 387.6,535.38 388.1,536.03 388.6,535.40 389.1,535.48 389.6,535.56 390.1,535.32 390.6,536.08 391.1,535.50 391.6,535.39 392.1,536.09 392.6,535.66 393.1,535.35 393.6,535.94 394.1,535.43 394.6,535.38 395.1,535.81 395.6,536.07 396.1,536.01 396.6,535.45 397.1,535.82 397.6,535.92 398.1,535.80 398.6,535.36 399.1,535.97 399.6,536.18 400.1,535.35 400.6,535.91 401.1,535.85 401.6,535.32 402.1,535.95 402.6,536.12 403.1,535.40 403.6,535.98 404.1,536.00 404.6,535.36 405.1,535.99 405.6,535.39 406.1,535.90 406.6,535.93 407.1,536.01 407.6,535.71 408.1,535.70 408.6,535.84 409.1,535.74 409.6,535.93 410.1,535.45 410.6,535.36 411.1,535.52 411.6,535.46 412.1,536.14 412.6,535.97 413.1,536.02 413.6,536.06 414.1,535.33 414.6,535.39 415.1,535.38 415.6,535.70 416.1,536.10 416.6,535.82 417.1,536.15 417.6,535.39 418.1,535.96 418.6,535.94 419.1,535.35 419.6,536.02 420.1,535.37 420.6,535.92 421.1,535.60 421.6,536.10 422.1,535.39 422.6,535.84 423.1,535.89 423.6,535.61 424.1,535.67 424.6,535.97 425.1,536.09 425.6,535.68 426.1,536.18 426.6,535.42 427.1,535.89 427.6,536.05 428.1,535.90 428.6,536.10 429.1,535.92" fill="none" stroke="#1e7fe0" stroke-width="0.6"/>
<path d="M296.9,536.2 L297.5,497.6 L298.1,536.2" fill="#1e7fe0" stroke="#1e7fe0" stroke-width="0.5"/>
<path d="M299.0,536.2 L299.6,510.2 L300.2,536.2" fill="#1e7fe0" stroke="#1e7fe0" stroke-width="0.5"/>
<path d="M301.2,536.2 L301.8,521.2 L302.4,536.2" fill="#1e7fe0" stroke="#1e7fe0" stroke-width="0.5"/>
<path d="M303.4,536.2 L304.0,529.7 L304.6,536.2" fill="#1e7fe0" stroke="#1e7fe0" stroke-width="0.5"/>
<path d="M305.7,536.2 L306.3,534.2 L306.9,536.2" fill="#1e7fe0" stroke="#1e7fe0" stroke-width="0.5"/>
<text x="297.9" y="494.1" font-size="6.6" text-anchor="middle" fill="#222" >1,591.13</text>
<text x="368.0" y="490.6" font-size="9.5" text-anchor="middle" fill="#2b85d0" >UMBS treatment</text>
<text transform="translate(21.2,507.5) rotate(-90)" font-size="9.5" text-anchor="middle" fill="#222">Intensity</text>
<text x="94.6" y="545.2" font-size="6.6" text-anchor="middle" fill="#222" >1,500</text>
<text x="205.9" y="545.2" font-size="6.6" text-anchor="middle" fill="#222" >1,550</text>
<text x="317.2" y="545.2" font-size="6.6" text-anchor="middle" fill="#222" >1,600</text>
<text x="428.5" y="545.2" font-size="6.6" text-anchor="middle" fill="#222" >1,650</text>
<text x="252.8" y="553.7" font-size="9.3" text-anchor="middle" fill="#222" >m/z</text>
<text x="143.7" y="569.3" font-size="9.5" fill="#222">5-mer Oligo (AG<tspan fill="#e8202a">5mC</tspan>GA) - &#160;with <tspan fill="#e8202a">methylated</tspan> C</text>
<line x1="51.5" y1="578.6" x2="51.5" y2="635.8" stroke="#333" stroke-width="0.8"/>
<line x1="48.7" y1="579.1" x2="51.5" y2="579.1" stroke="#333" stroke-width="0.7"/>
<text x="48.2" y="581.0" font-size="7.1" text-anchor="end" fill="#222" letter-spacing="-0.25">2x10<tspan font-size="4.6" dy="-2.7">5</tspan></text>
<line x1="48.7" y1="593.1" x2="51.5" y2="593.1" stroke="#333" stroke-width="0.7"/>
<text x="48.2" y="595.0" font-size="7.1" text-anchor="end" fill="#222" letter-spacing="-0.25">1.5x10<tspan font-size="4.6" dy="-2.7">5</tspan></text>
<line x1="48.7" y1="607.0" x2="51.5" y2="607.0" stroke="#333" stroke-width="0.7"/>
<text x="48.2" y="608.9" font-size="7.1" text-anchor="end" fill="#222" letter-spacing="-0.25">1x10<tspan font-size="4.6" dy="-2.7">5</tspan></text>
<line x1="48.7" y1="621.0" x2="51.5" y2="621.0" stroke="#333" stroke-width="0.7"/>
<text x="48.2" y="622.9" font-size="7.1" text-anchor="end" fill="#222" letter-spacing="-0.25">5x10<tspan font-size="4.6" dy="-2.7">4</tspan></text>
<line x1="48.7" y1="634.9" x2="51.5" y2="634.9" stroke="#333" stroke-width="0.7"/>
<text x="48.2" y="636.8" font-size="7.1" text-anchor="end" fill="#222">0</text>
<line x1="51.5" y1="635.3" x2="429.2" y2="635.3" stroke="#333" stroke-width="0.7"/>
<line x1="50.1" y1="635.3" x2="50.1" y2="636.9" stroke="#333" stroke-width="0.5"/>
<line x1="61.2" y1="635.3" x2="61.2" y2="636.9" stroke="#333" stroke-width="0.5"/>
<line x1="72.3" y1="635.3" x2="72.3" y2="636.9" stroke="#333" stroke-width="0.5"/>
<line x1="83.5" y1="635.3" x2="83.5" y2="636.9" stroke="#333" stroke-width="0.5"/>
<line x1="94.6" y1="635.3" x2="94.6" y2="636.9" stroke="#333" stroke-width="0.5"/>
<line x1="105.7" y1="635.3" x2="105.7" y2="636.9" stroke="#333" stroke-width="0.5"/>
<line x1="116.9" y1="635.3" x2="116.9" y2="636.9" stroke="#333" stroke-width="0.5"/>
<line x1="128.0" y1="635.3" x2="128.0" y2="636.9" stroke="#333" stroke-width="0.5"/>
<line x1="139.1" y1="635.3" x2="139.1" y2="636.9" stroke="#333" stroke-width="0.5"/>
<line x1="150.2" y1="635.3" x2="150.2" y2="636.9" stroke="#333" stroke-width="0.5"/>
<line x1="161.4" y1="635.3" x2="161.4" y2="636.9" stroke="#333" stroke-width="0.5"/>
<line x1="172.5" y1="635.3" x2="172.5" y2="636.9" stroke="#333" stroke-width="0.5"/>
<line x1="183.6" y1="635.3" x2="183.6" y2="636.9" stroke="#333" stroke-width="0.5"/>
<line x1="194.8" y1="635.3" x2="194.8" y2="636.9" stroke="#333" stroke-width="0.5"/>
<line x1="205.9" y1="635.3" x2="205.9" y2="636.9" stroke="#333" stroke-width="0.5"/>
<line x1="217.0" y1="635.3" x2="217.0" y2="636.9" stroke="#333" stroke-width="0.5"/>
<line x1="228.2" y1="635.3" x2="228.2" y2="636.9" stroke="#333" stroke-width="0.5"/>
<line x1="239.3" y1="635.3" x2="239.3" y2="636.9" stroke="#333" stroke-width="0.5"/>
<line x1="250.4" y1="635.3" x2="250.4" y2="636.9" stroke="#333" stroke-width="0.5"/>
<line x1="261.5" y1="635.3" x2="261.5" y2="636.9" stroke="#333" stroke-width="0.5"/>
<line x1="272.7" y1="635.3" x2="272.7" y2="636.9" stroke="#333" stroke-width="0.5"/>
<line x1="283.8" y1="635.3" x2="283.8" y2="636.9" stroke="#333" stroke-width="0.5"/>
<line x1="294.9" y1="635.3" x2="294.9" y2="636.9" stroke="#333" stroke-width="0.5"/>
<line x1="306.1" y1="635.3" x2="306.1" y2="636.9" stroke="#333" stroke-width="0.5"/>
<line x1="317.2" y1="635.3" x2="317.2" y2="636.9" stroke="#333" stroke-width="0.5"/>
<line x1="328.3" y1="635.3" x2="328.3" y2="636.9" stroke="#333" stroke-width="0.5"/>
<line x1="339.5" y1="635.3" x2="339.5" y2="636.9" stroke="#333" stroke-width="0.5"/>
<line x1="350.6" y1="635.3" x2="350.6" y2="636.9" stroke="#333" stroke-width="0.5"/>
<line x1="361.7" y1="635.3" x2="361.7" y2="636.9" stroke="#333" stroke-width="0.5"/>
<line x1="372.9" y1="635.3" x2="372.9" y2="636.9" stroke="#333" stroke-width="0.5"/>
<line x1="384.0" y1="635.3" x2="384.0" y2="636.9" stroke="#333" stroke-width="0.5"/>
<line x1="395.1" y1="635.3" x2="395.1" y2="636.9" stroke="#333" stroke-width="0.5"/>
<line x1="406.2" y1="635.3" x2="406.2" y2="636.9" stroke="#333" stroke-width="0.5"/>
<line x1="417.4" y1="635.3" x2="417.4" y2="636.9" stroke="#333" stroke-width="0.5"/>
<line x1="428.5" y1="635.3" x2="428.5" y2="636.9" stroke="#333" stroke-width="0.5"/>
<polyline points="51.5,634.81 52.0,634.93 52.5,635.00 53.0,635.04 53.5,634.86 54.0,634.60 54.5,634.91 55.0,634.61 55.5,634.87 56.0,635.19 56.5,635.15 57.0,634.54 57.5,634.87 58.0,634.96 58.5,634.84 59.0,634.54 59.5,634.96 60.0,634.97 60.5,634.97 61.0,635.29 61.5,634.81 62.0,634.87 62.5,634.85 63.0,634.89 63.5,634.87 64.0,634.66 64.5,635.13 65.0,634.42 65.5,635.20 66.0,634.52 66.5,635.14 67.0,634.58 67.5,635.07 68.0,635.23 68.5,634.81 69.0,634.54 69.5,634.54 70.0,634.51 70.5,634.42 71.0,635.25 71.5,634.96 72.0,635.20 72.5,634.62 73.0,634.89 73.5,634.63 74.0,634.58 74.5,634.40 75.0,634.69 75.5,634.51 76.0,634.81 76.5,635.23 77.0,634.50 77.5,635.22 78.0,635.22 78.5,634.55 79.0,635.05 79.5,634.70 80.0,635.27 80.5,635.11 81.0,634.66 81.5,635.27 82.0,634.84 82.5,634.46 83.0,635.11 83.5,634.67 84.0,634.63 84.5,634.74 85.0,634.61 85.5,634.67 86.0,635.29 86.5,635.13 87.0,634.82 87.5,634.43 88.0,635.10 88.5,634.77 89.0,635.18 89.5,634.54 90.0,634.90 90.5,634.83 91.0,634.70 91.5,635.18 92.0,634.64 92.5,634.58 93.0,634.53 93.5,635.05 94.0,635.09 94.5,635.15 95.0,634.49 95.5,634.91 96.0,634.95 96.5,634.83 97.0,634.67 97.5,635.01 98.0,635.00 98.5,634.61 99.0,634.60 99.5,635.03 100.0,635.23 100.5,634.46 101.0,634.64 101.5,634.77 102.0,634.94 102.5,634.44 103.0,634.91 103.5,635.11 104.0,635.21 104.5,634.98 105.0,634.76 105.5,634.97 106.0,634.45 106.5,634.72 107.0,634.89 107.5,634.71 108.0,634.76 108.5,634.74 109.0,634.85 109.5,634.83 110.0,634.86 110.5,634.55 111.0,635.13 111.5,634.59 112.0,635.03 112.5,634.54 113.0,635.23 113.5,634.86 114.0,634.90 114.5,634.66 115.0,635.12 115.5,635.06 116.0,635.18 116.5,634.79 117.0,634.78 117.5,635.30 118.0,635.14 118.5,635.12 119.0,634.44 119.5,634.89 120.0,634.79 120.5,635.04 121.0,634.71 121.5,634.57 122.0,634.70 122.5,635.30 123.0,634.90 123.5,634.86 124.0,635.26 124.5,634.59 125.0,635.01 125.5,635.04 126.0,634.74 126.5,634.77 127.0,634.85 127.5,634.53 128.0,634.83 128.5,634.99 129.0,635.24 129.5,634.80 130.0,634.97 130.5,634.82 131.0,634.99 131.5,635.29 132.0,635.27 132.5,635.16 133.0,635.22 133.5,634.53 134.0,634.78 134.5,635.09 135.0,634.66 135.5,634.73 136.0,635.24 136.5,634.62 137.0,635.09 137.5,634.40 138.0,635.17 138.5,635.04 139.0,635.08 139.5,634.52 140.0,634.56 140.5,634.78 141.0,635.17 141.5,634.91 142.0,634.67 142.5,635.25 143.0,634.47 143.5,634.54 144.0,634.46 144.5,634.67 145.0,634.74 145.5,634.42 146.0,635.06 146.5,635.03 147.0,635.19 147.5,635.14 148.0,634.58 148.5,635.21 149.0,634.63 149.5,634.94 150.0,634.51 150.5,634.62 151.0,634.68 151.5,634.54 152.0,635.26 152.5,635.06 153.0,634.97 153.5,634.91 154.0,634.70 154.5,634.51 155.0,634.63 155.5,634.46 156.0,634.67 156.5,634.98 157.0,634.84 157.5,634.63 158.0,634.57 158.5,634.97 159.0,634.98 159.5,634.75 160.0,635.09 160.5,634.51 161.0,635.30 161.5,634.72 162.0,634.86 162.5,635.12 163.0,634.79 163.5,634.87 164.0,634.43 164.5,634.50 165.0,634.77 165.5,634.52 166.0,634.50 166.5,635.15 167.0,634.56 167.5,634.55 168.0,634.41 168.5,634.62 169.0,634.95 169.5,635.11 170.0,634.71 170.5,635.11 171.0,634.62 171.5,634.78 172.0,634.56 172.5,634.98 173.0,635.03 173.5,634.49 174.0,634.70 174.5,634.96 175.0,634.80 175.5,634.91 176.0,634.72 176.5,634.83 177.0,635.04 177.5,634.42 178.0,634.50 178.5,634.62 179.0,635.05 179.5,635.13 180.0,634.64 180.5,634.56 181.0,634.71 181.5,635.11 182.0,634.65 182.5,634.83 183.0,634.96 183.5,634.77 184.0,634.90 184.5,634.72 185.0,634.62 185.5,634.42 186.0,635.20 186.5,634.79 187.0,634.45 187.5,634.71 188.0,634.78 188.5,634.53 189.0,635.27 189.5,634.59 190.0,634.74 190.5,634.77 191.0,635.02 191.5,634.74 192.0,635.19 192.5,634.83 193.0,635.07 193.5,634.46 194.0,634.58 194.5,634.87 195.0,634.62 195.5,634.95 196.0,634.83 196.5,635.15 197.0,634.53 197.5,634.61 198.0,634.62 198.5,635.23 199.0,634.56 199.5,635.29 200.0,634.79 200.5,634.86 201.0,635.25 201.5,634.92 202.0,634.50 202.5,634.74 203.0,635.02 203.5,634.57 204.0,634.98 204.5,634.49 205.0,634.94 205.5,635.23 206.0,634.43 206.5,635.24 207.0,635.07 207.5,634.61 208.0,635.20 208.5,634.81 209.0,634.53 209.5,634.77 210.0,634.99 210.5,634.62 211.0,634.56 211.5,634.78 212.0,634.74 212.5,635.01 213.0,634.93 213.5,634.41 214.0,634.43 214.5,635.30 215.0,635.12 215.5,634.15 216.0,634.92 216.5,634.41 217.0,633.87 217.5,633.51 218.0,634.17 218.5,634.66 219.0,634.41 219.5,634.43 220.0,634.31 220.5,634.80 221.0,633.92 221.5,634.67 222.0,634.31 222.5,633.99 223.0,634.20 223.5,634.74 224.0,634.56 224.5,634.98 225.0,635.24 225.5,635.15 226.0,634.74 226.5,635.28 227.0,635.20 227.5,634.60 228.0,634.51 228.5,634.53 229.0,634.55 229.5,634.80 230.0,634.51 230.5,634.67 231.0,634.80 231.5,634.92 232.0,635.28 232.5,635.22 233.0,635.08 233.5,634.89 234.0,635.19 234.5,634.43 235.0,634.78 235.5,634.63 236.0,634.50 236.5,635.10 237.0,634.50 237.5,634.44 238.0,635.06 238.5,635.19 239.0,634.58 239.5,634.50 240.0,634.58 240.5,634.93 241.0,634.76 241.5,635.20 242.0,635.09 242.5,634.92 243.0,634.63 243.5,635.22 244.0,634.46 244.5,635.27 245.0,634.43 245.5,635.09 246.0,634.56 246.5,634.56 247.0,634.44 247.5,634.88 248.0,634.67 248.5,635.04 249.0,634.55 249.5,635.20 250.0,634.50 250.5,634.77 251.0,635.24 251.5,634.45 252.0,635.02 252.5,635.24 253.0,635.07 253.5,635.28 254.0,635.05 254.5,634.66 255.0,634.41 255.5,634.73 256.0,634.53 256.5,634.56 257.0,634.66 257.5,634.95 258.0,635.07 258.5,635.16 259.0,634.81 259.5,635.12 260.0,634.63 260.5,635.01 261.0,634.78 261.5,634.81 262.0,634.73 262.5,635.16 263.0,635.07 263.5,634.68 264.0,635.11 264.5,634.70 265.0,634.43 265.5,634.95 266.0,634.43 266.5,634.75 267.0,634.45 267.5,634.83 268.0,634.62 268.5,634.69 269.0,635.12 269.5,634.83 270.0,634.78 270.5,634.88 271.0,634.71 271.5,634.48 272.0,634.58 272.5,634.57 273.0,635.17 273.5,634.67 274.0,634.74 274.5,634.46 275.0,635.30 275.5,635.14 276.0,634.42 276.5,634.96 277.0,634.66 277.5,634.77 278.0,634.94 278.5,634.91 279.0,634.79 279.5,634.41 280.0,634.82 280.5,634.59 281.0,635.03 281.5,634.66 282.0,634.76 282.5,634.63 283.0,634.51 283.5,635.23 284.0,634.43 284.5,634.75 285.0,635.07 285.5,634.88 286.0,635.21 286.5,635.09 287.0,634.55 287.5,634.66 288.0,634.52 288.5,635.15 289.0,635.20 289.5,634.96 290.0,634.85 290.5,634.66 291.0,635.03 291.5,634.64 292.0,634.77 292.5,635.04 293.0,634.59 293.5,635.23 294.0,634.77 294.5,635.13 295.0,635.26 295.5,634.87 296.0,634.83 296.5,634.75 297.0,634.96 297.5,634.46 298.0,634.59 298.5,635.16 299.0,635.30 299.5,634.44 300.0,634.93 300.5,635.21 301.0,635.14 301.5,634.67 302.0,635.14 302.5,634.96 303.0,634.69 303.5,634.98 304.0,634.71 304.5,634.45 305.0,634.59 305.5,634.73 306.0,634.74 306.5,635.02 307.0,634.72 307.5,634.72 308.0,634.77 308.5,634.86 309.0,634.62 309.5,635.12 310.0,634.66 310.5,634.42 311.0,635.27 311.5,635.07 312.0,634.41 312.5,635.23 313.0,634.56 313.5,634.78 314.0,635.24 314.5,634.73 315.0,635.29 315.5,634.54 316.0,635.03 316.5,634.47 317.0,634.49 317.5,635.18 318.0,634.94 318.5,635.16 319.0,634.62 319.5,635.21 320.0,635.23 320.5,635.20 321.0,634.53 321.5,635.08 322.0,635.01 322.5,634.90 323.0,634.80 323.5,634.93 324.0,634.45 324.5,634.99 325.0,634.87 325.5,634.52 326.0,635.08 326.5,635.14 327.0,634.55 327.5,635.02 328.0,634.50 328.5,634.56 329.0,634.96 329.5,635.00 330.0,635.21 330.5,634.51 331.0,634.90 331.5,634.99 332.0,635.14 332.5,635.10 333.0,634.51 333.5,635.18 334.0,634.80 334.5,634.74 335.0,634.83 335.5,634.85 336.0,634.94 336.5,635.13 337.0,634.56 337.5,634.49 338.0,634.79 338.5,635.07 339.0,634.48 339.5,635.12 340.0,635.15 340.5,634.74 341.0,634.55 341.5,634.78 342.0,635.20 342.5,634.42 343.0,635.16 343.5,634.99 344.0,634.41 344.5,634.59 345.0,634.62 345.5,635.23 346.0,634.53 346.5,634.94 347.0,635.29 347.5,634.59 348.0,634.46 348.5,635.26 349.0,634.89 349.5,634.49 350.0,635.00 350.5,635.03 351.0,634.60 351.5,634.90 352.0,634.40 352.5,634.53 353.0,634.53 353.5,634.66 354.0,635.12 354.5,634.68 355.0,634.78 355.5,634.87 356.0,634.79 356.5,635.03 357.0,635.12 357.5,634.48 358.0,634.97 358.5,635.20 359.0,634.42 359.5,634.84 360.0,634.69 360.5,634.99 361.0,635.17 361.5,635.00 362.0,634.55 362.5,635.05 363.0,634.48 363.5,635.03 364.0,634.49 364.5,635.14 365.0,634.90 365.5,635.18 366.0,635.17 366.5,634.83 367.0,634.97 367.5,634.82 368.0,635.11 368.5,635.02 369.0,635.01 369.5,634.49 370.0,635.23 370.5,634.93 371.0,634.53 371.5,634.79 372.0,635.07 372.5,634.40 373.0,635.20 373.5,635.18 374.0,635.28 374.5,634.90 375.0,634.53 375.5,635.05 376.0,635.04 376.5,634.58 377.0,635.23 377.5,635.28 378.0,634.70 378.5,635.22 379.0,634.83 379.5,635.17 380.0,634.76 380.5,634.53 381.0,634.89 381.5,635.05 382.0,634.74 382.5,634.67 383.0,635.25 383.5,635.08 384.0,634.96 384.5,634.84 385.0,635.05 385.5,634.71 386.0,635.07 386.5,634.49 387.0,634.98 387.5,635.10 388.0,635.23 388.5,635.19 389.0,635.11 389.5,634.51 390.0,634.93 390.5,634.90 391.0,634.44 391.5,634.43 392.0,634.61 392.5,635.08 393.0,635.01 393.5,634.85 394.0,635.07 394.5,634.99 395.0,635.11 395.5,635.08 396.0,634.63 396.5,634.76 397.0,634.90 397.5,634.88 398.0,634.75 398.5,634.68 399.0,635.28 399.5,634.54 400.0,634.88 400.5,634.99 401.0,634.44 401.5,634.62 402.0,634.98 402.5,635.28 403.0,634.91 403.5,634.90 404.0,634.96 404.5,635.21 405.0,634.78 405.5,635.07 406.0,634.61 406.5,634.82 407.0,635.04 407.5,634.56 408.0,634.90 408.5,635.22 409.0,635.05 409.5,635.25 410.0,634.91 410.5,634.48 411.0,634.45 411.5,634.71 412.0,635.16 412.5,635.08 413.0,635.12 413.5,634.96 414.0,634.73 414.5,635.28 415.0,634.86 415.5,634.92 416.0,634.70 416.5,634.56 417.0,634.94 417.5,634.76 418.0,635.06 418.5,634.89 419.0,634.73 419.5,635.25 420.0,634.84 420.5,634.85 421.0,635.13 421.5,635.08 422.0,634.56 422.5,634.99 423.0,635.13 423.5,635.04 424.0,634.83 424.5,634.94 425.0,634.98 425.5,635.01 426.0,635.11 426.5,634.85 427.0,634.76 427.5,635.22 428.0,634.77 428.5,635.02 429.0,634.42" fill="none" stroke="#7a7a7a" stroke-width="0.6"/>
<path d="M143.8,635.3 L144.4,592.5 L145.0,635.3" fill="#7a7a7a" stroke="#7a7a7a" stroke-width="0.5"/>
<path d="M145.9,635.3 L146.5,601.8 L147.1,635.3" fill="#7a7a7a" stroke="#7a7a7a" stroke-width="0.5"/>
<path d="M148.1,635.3 L148.7,618.8 L149.3,635.3" fill="#7a7a7a" stroke="#7a7a7a" stroke-width="0.5"/>
<path d="M150.3,635.3 L150.9,629.8 L151.5,635.3" fill="#7a7a7a" stroke="#7a7a7a" stroke-width="0.5"/>
<path d="M152.6,635.3 L153.2,633.5 L153.8,635.3" fill="#7a7a7a" stroke="#7a7a7a" stroke-width="0.5"/>
<text x="145.6" y="588.5" font-size="6.6" text-anchor="middle" fill="#222" >1,522.36</text>
<text x="368.0" y="586.8" font-size="9.5" text-anchor="middle" fill="#888" >Untreated</text>
<text transform="translate(21.2,603.6) rotate(-90)" font-size="9.5" text-anchor="middle" fill="#222">Intensity</text>
<line x1="51.5" y1="643.5" x2="51.5" y2="700.6" stroke="#333" stroke-width="0.8"/>
<line x1="48.7" y1="644.0" x2="51.5" y2="644.0" stroke="#333" stroke-width="0.7"/>
<text x="48.2" y="645.9" font-size="7.1" text-anchor="end" fill="#222" letter-spacing="-0.25">2x10<tspan font-size="4.6" dy="-2.7">5</tspan></text>
<line x1="48.7" y1="658.0" x2="51.5" y2="658.0" stroke="#333" stroke-width="0.7"/>
<text x="48.2" y="659.9" font-size="7.1" text-anchor="end" fill="#222" letter-spacing="-0.25">1.5x10<tspan font-size="4.6" dy="-2.7">5</tspan></text>
<line x1="48.7" y1="672.0" x2="51.5" y2="672.0" stroke="#333" stroke-width="0.7"/>
<text x="48.2" y="673.9" font-size="7.1" text-anchor="end" fill="#222" letter-spacing="-0.25">1x10<tspan font-size="4.6" dy="-2.7">5</tspan></text>
<line x1="48.7" y1="686.0" x2="51.5" y2="686.0" stroke="#333" stroke-width="0.7"/>
<text x="48.2" y="687.9" font-size="7.1" text-anchor="end" fill="#222" letter-spacing="-0.25">5x10<tspan font-size="4.6" dy="-2.7">4</tspan></text>
<line x1="48.7" y1="700.1" x2="51.5" y2="700.1" stroke="#333" stroke-width="0.7"/>
<text x="48.2" y="702.0" font-size="7.1" text-anchor="end" fill="#222">0</text>
<line x1="51.5" y1="700.1" x2="429.2" y2="700.1" stroke="#333" stroke-width="0.7"/>
<line x1="50.1" y1="700.1" x2="50.1" y2="701.7" stroke="#333" stroke-width="0.5"/>
<line x1="61.2" y1="700.1" x2="61.2" y2="701.7" stroke="#333" stroke-width="0.5"/>
<line x1="72.3" y1="700.1" x2="72.3" y2="701.7" stroke="#333" stroke-width="0.5"/>
<line x1="83.5" y1="700.1" x2="83.5" y2="701.7" stroke="#333" stroke-width="0.5"/>
<line x1="94.6" y1="700.1" x2="94.6" y2="701.7" stroke="#333" stroke-width="0.5"/>
<line x1="105.7" y1="700.1" x2="105.7" y2="701.7" stroke="#333" stroke-width="0.5"/>
<line x1="116.9" y1="700.1" x2="116.9" y2="701.7" stroke="#333" stroke-width="0.5"/>
<line x1="128.0" y1="700.1" x2="128.0" y2="701.7" stroke="#333" stroke-width="0.5"/>
<line x1="139.1" y1="700.1" x2="139.1" y2="701.7" stroke="#333" stroke-width="0.5"/>
<line x1="150.2" y1="700.1" x2="150.2" y2="701.7" stroke="#333" stroke-width="0.5"/>
<line x1="161.4" y1="700.1" x2="161.4" y2="701.7" stroke="#333" stroke-width="0.5"/>
<line x1="172.5" y1="700.1" x2="172.5" y2="701.7" stroke="#333" stroke-width="0.5"/>
<line x1="183.6" y1="700.1" x2="183.6" y2="701.7" stroke="#333" stroke-width="0.5"/>
<line x1="194.8" y1="700.1" x2="194.8" y2="701.7" stroke="#333" stroke-width="0.5"/>
<line x1="205.9" y1="700.1" x2="205.9" y2="701.7" stroke="#333" stroke-width="0.5"/>
<line x1="217.0" y1="700.1" x2="217.0" y2="701.7" stroke="#333" stroke-width="0.5"/>
<line x1="228.2" y1="700.1" x2="228.2" y2="701.7" stroke="#333" stroke-width="0.5"/>
<line x1="239.3" y1="700.1" x2="239.3" y2="701.7" stroke="#333" stroke-width="0.5"/>
<line x1="250.4" y1="700.1" x2="250.4" y2="701.7" stroke="#333" stroke-width="0.5"/>
<line x1="261.5" y1="700.1" x2="261.5" y2="701.7" stroke="#333" stroke-width="0.5"/>
<line x1="272.7" y1="700.1" x2="272.7" y2="701.7" stroke="#333" stroke-width="0.5"/>
<line x1="283.8" y1="700.1" x2="283.8" y2="701.7" stroke="#333" stroke-width="0.5"/>
<line x1="294.9" y1="700.1" x2="294.9" y2="701.7" stroke="#333" stroke-width="0.5"/>
<line x1="306.1" y1="700.1" x2="306.1" y2="701.7" stroke="#333" stroke-width="0.5"/>
<line x1="317.2" y1="700.1" x2="317.2" y2="701.7" stroke="#333" stroke-width="0.5"/>
<line x1="328.3" y1="700.1" x2="328.3" y2="701.7" stroke="#333" stroke-width="0.5"/>
<line x1="339.5" y1="700.1" x2="339.5" y2="701.7" stroke="#333" stroke-width="0.5"/>
<line x1="350.6" y1="700.1" x2="350.6" y2="701.7" stroke="#333" stroke-width="0.5"/>
<line x1="361.7" y1="700.1" x2="361.7" y2="701.7" stroke="#333" stroke-width="0.5"/>
<line x1="372.9" y1="700.1" x2="372.9" y2="701.7" stroke="#333" stroke-width="0.5"/>
<line x1="384.0" y1="700.1" x2="384.0" y2="701.7" stroke="#333" stroke-width="0.5"/>
<line x1="395.1" y1="700.1" x2="395.1" y2="701.7" stroke="#333" stroke-width="0.5"/>
<line x1="406.2" y1="700.1" x2="406.2" y2="701.7" stroke="#333" stroke-width="0.5"/>
<line x1="417.4" y1="700.1" x2="417.4" y2="701.7" stroke="#333" stroke-width="0.5"/>
<line x1="428.5" y1="700.1" x2="428.5" y2="701.7" stroke="#333" stroke-width="0.5"/>
<polyline points="51.5,699.26 52.0,699.98 52.5,699.47 53.0,699.79 53.5,700.00 54.0,699.31 54.5,699.28 55.0,699.39 55.5,699.53 56.0,699.22 56.5,699.60 57.0,699.49 57.5,699.51 58.0,699.33 58.5,699.33 59.0,699.83 59.5,699.91 60.0,699.61 60.5,699.57 61.0,699.78 61.5,699.33 62.0,699.34 62.5,699.48 63.0,699.62 63.5,699.47 64.0,699.92 64.5,699.37 65.0,699.99 65.5,699.29 66.0,699.54 66.5,699.85 67.0,699.93 67.5,699.56 68.0,699.68 68.5,699.47 69.0,700.01 69.5,699.31 70.0,699.71 70.5,699.70 71.0,699.44 71.5,699.55 72.0,699.70 72.5,699.84 73.0,699.68 73.5,700.07 74.0,699.87 74.5,699.36 75.0,699.99 75.5,700.02 76.0,699.34 76.5,699.76 77.0,699.62 77.5,699.57 78.0,699.45 78.5,699.81 79.0,699.41 79.5,700.10 80.0,699.34 80.5,699.82 81.0,699.54 81.5,699.83 82.0,699.43 82.5,699.76 83.0,699.56 83.5,699.81 84.0,699.35 84.5,699.40 85.0,699.92 85.5,699.42 86.0,699.25 86.5,699.89 87.0,699.93 87.5,699.26 88.0,699.23 88.5,699.98 89.0,699.40 89.5,699.26 90.0,699.86 90.5,699.40 91.0,699.83 91.5,699.39 92.0,699.64 92.5,699.67 93.0,699.99 93.5,699.51 94.0,699.47 94.5,699.84 95.0,700.06 95.5,700.02 96.0,699.87 96.5,699.20 97.0,699.43 97.5,699.29 98.0,699.43 98.5,699.98 99.0,699.75 99.5,699.25 100.0,699.33 100.5,699.21 101.0,699.36 101.5,699.46 102.0,699.41 102.5,699.28 103.0,699.71 103.5,700.07 104.0,699.82 104.5,700.09 105.0,699.85 105.5,699.57 106.0,699.85 106.5,699.88 107.0,700.01 107.5,699.78 108.0,699.64 108.5,699.57 109.0,699.25 109.5,700.04 110.0,699.87 110.5,700.03 111.0,699.26 111.5,699.53 112.0,699.51 112.5,699.37 113.0,700.10 113.5,699.29 114.0,699.80 114.5,699.53 115.0,699.74 115.5,699.43 116.0,699.83 116.5,699.85 117.0,699.88 117.5,699.45 118.0,699.69 118.5,699.96 119.0,699.78 119.5,699.59 120.0,699.76 120.5,699.57 121.0,699.34 121.5,699.52 122.0,699.38 122.5,699.83 123.0,699.32 123.5,699.25 124.0,699.62 124.5,700.08 125.0,700.02 125.5,699.42 126.0,699.32 126.5,699.45 127.0,699.64 127.5,699.61 128.0,700.00 128.5,699.56 129.0,699.20 129.5,699.91 130.0,699.55 130.5,699.33 131.0,699.51 131.5,699.78 132.0,699.89 132.5,699.44 133.0,699.27 133.5,699.31 134.0,699.74 134.5,699.43 135.0,699.37 135.5,699.76 136.0,699.42 136.5,699.75 137.0,699.92 137.5,700.10 138.0,699.45 138.5,699.42 139.0,700.06 139.5,700.04 140.0,699.81 140.5,699.91 141.0,699.44 141.5,699.93 142.0,699.57 142.5,699.60 143.0,699.79 143.5,699.33 144.0,699.71 144.5,699.64 145.0,699.50 145.5,699.74 146.0,699.93 146.5,699.24 147.0,699.42 147.5,699.61 148.0,699.65 148.5,699.54 149.0,699.83 149.5,700.03 150.0,699.61 150.5,699.29 151.0,700.01 151.5,699.22 152.0,699.76 152.5,699.20 153.0,699.41 153.5,699.86 154.0,699.91 154.5,699.30 155.0,699.22 155.5,699.38 156.0,699.57 156.5,699.61 157.0,699.40 157.5,699.36 158.0,699.35 158.5,699.84 159.0,699.36 159.5,699.24 160.0,699.58 160.5,700.09 161.0,699.93 161.5,699.51 162.0,699.72 162.5,699.27 163.0,699.52 163.5,699.47 164.0,699.96 164.5,699.63 165.0,699.46 165.5,699.27 166.0,699.29 166.5,699.86 167.0,699.65 167.5,699.22 168.0,700.02 168.5,700.04 169.0,699.94 169.5,699.44 170.0,699.81 170.5,699.46 171.0,699.36 171.5,699.37 172.0,700.06 172.5,699.48 173.0,699.38 173.5,699.47 174.0,699.32 174.5,699.36 175.0,699.55 175.5,699.32 176.0,699.61 176.5,700.00 177.0,699.84 177.5,699.26 178.0,699.80 178.5,699.68 179.0,699.31 179.5,699.48 180.0,699.39 180.5,699.68 181.0,699.64 181.5,700.03 182.0,699.92 182.5,699.96 183.0,699.62 183.5,699.63 184.0,700.04 184.5,699.53 185.0,700.01 185.5,699.75 186.0,700.08 186.5,699.67 187.0,699.97 187.5,699.25 188.0,699.77 188.5,699.35 189.0,699.70 189.5,699.81 190.0,699.34 190.5,699.85 191.0,699.64 191.5,699.52 192.0,699.21 192.5,699.47 193.0,700.05 193.5,699.69 194.0,699.24 194.5,699.33 195.0,699.77 195.5,699.98 196.0,699.86 196.5,699.42 197.0,699.94 197.5,699.30 198.0,699.86 198.5,699.48 199.0,699.48 199.5,699.88 200.0,699.63 200.5,699.53 201.0,699.86 201.5,699.62 202.0,699.54 202.5,699.24 203.0,699.84 203.5,699.94 204.0,699.64 204.5,699.56 205.0,699.66 205.5,699.28 206.0,699.92 206.5,699.64 207.0,699.68 207.5,699.92 208.0,699.69 208.5,699.69 209.0,698.99 209.5,698.24 210.0,699.53 210.5,699.16 211.0,699.95 211.5,698.73 212.0,699.61 212.5,698.31 213.0,698.57 213.5,699.28 214.0,699.63 214.5,699.60 215.0,700.02 215.5,698.44 216.0,699.01 216.5,699.15 217.0,699.39 217.5,699.83 218.0,699.64 218.5,699.61 219.0,699.34 219.5,699.79 220.0,700.10 220.5,699.74 221.0,699.30 221.5,699.94 222.0,699.54 222.5,699.98 223.0,699.86 223.5,699.54 224.0,700.01 224.5,699.69 225.0,699.57 225.5,699.75 226.0,699.42 226.5,699.34 227.0,699.85 227.5,699.42 228.0,699.42 228.5,699.56 229.0,699.57 229.5,699.59 230.0,699.43 230.5,699.48 231.0,698.82 231.5,698.72 232.0,698.79 232.5,698.69 233.0,699.26 233.5,699.31 234.0,698.90 234.5,698.10 235.0,698.85 235.5,698.53 236.0,699.58 236.5,698.96 237.0,699.36 237.5,699.43 238.0,698.99 238.5,698.57 239.0,699.26 239.5,699.26 240.0,699.76 240.5,699.49 241.0,699.44 241.5,699.45 242.0,699.74 242.5,699.93 243.0,699.42 243.5,699.51 244.0,699.78 244.5,699.50 245.0,700.04 245.5,699.39 246.0,699.29 246.5,699.23 247.0,700.00 247.5,699.48 248.0,699.40 248.5,699.97 249.0,699.55 249.5,699.93 250.0,699.90 250.5,700.07 251.0,699.85 251.5,699.34 252.0,699.57 252.5,699.38 253.0,699.23 253.5,699.96 254.0,699.34 254.5,699.29 255.0,699.52 255.5,699.80 256.0,699.94 256.5,699.70 257.0,699.76 257.5,699.87 258.0,699.49 258.5,699.53 259.0,699.87 259.5,699.94 260.0,699.65 260.5,699.46 261.0,699.50 261.5,699.52 262.0,699.29 262.5,699.42 263.0,699.70 263.5,699.43 264.0,699.50 264.5,699.79 265.0,699.95 265.5,699.76 266.0,699.45 266.5,699.42 267.0,699.83 267.5,699.61 268.0,700.03 268.5,699.56 269.0,699.70 269.5,699.41 270.0,699.33 270.5,700.05 271.0,699.23 271.5,699.95 272.0,699.23 272.5,699.21 273.0,699.90 273.5,699.84 274.0,699.97 274.5,699.28 275.0,699.42 275.5,699.23 276.0,699.37 276.5,699.78 277.0,699.40 277.5,699.78 278.0,699.80 278.5,699.72 279.0,699.47 279.5,699.82 280.0,699.60 280.5,699.59 281.0,699.38 281.5,699.68 282.0,699.72 282.5,699.60 283.0,699.69 283.5,699.44 284.0,700.00 284.5,699.94 285.0,700.07 285.5,699.73 286.0,699.34 286.5,699.56 287.0,699.53 287.5,699.26 288.0,699.36 288.5,699.84 289.0,699.90 289.5,699.62 290.0,699.89 290.5,699.56 291.0,700.03 291.5,699.75 292.0,699.45 292.5,699.87 293.0,699.97 293.5,699.43 294.0,699.93 294.5,699.29 295.0,699.55 295.5,699.30 296.0,699.62 296.5,699.66 297.0,699.87 297.5,700.05 298.0,699.24 298.5,699.90 299.0,700.03 299.5,699.26 300.0,699.62 300.5,699.58 301.0,699.27 301.5,699.44 302.0,699.87 302.5,699.85 303.0,699.51 303.5,699.49 304.0,699.90 304.5,699.88 305.0,699.64 305.5,700.05 306.0,699.38 306.5,699.51 307.0,699.96 307.5,699.58 308.0,699.57 308.5,700.02 309.0,699.71 309.5,699.39 310.0,699.69 310.5,699.45 311.0,699.89 311.5,699.20 312.0,699.50 312.5,699.60 313.0,700.09 313.5,699.78 314.0,700.10 314.5,699.70 315.0,699.94 315.5,699.88 316.0,699.82 316.5,699.97 317.0,699.84 317.5,699.65 318.0,699.98 318.5,699.60 319.0,699.25 319.5,699.45 320.0,699.24 320.5,700.00 321.0,699.51 321.5,699.88 322.0,699.26 322.5,699.65 323.0,699.45 323.5,699.40 324.0,699.98 324.5,700.01 325.0,699.37 325.5,699.36 326.0,699.71 326.5,700.08 327.0,700.08 327.5,699.38 328.0,699.47 328.5,699.76 329.0,699.49 329.5,699.37 330.0,700.09 330.5,699.43 331.0,699.22 331.5,699.32 332.0,699.30 332.5,699.70 333.0,699.55 333.5,700.00 334.0,699.39 334.5,699.51 335.0,699.74 335.5,700.06 336.0,699.94 336.5,699.74 337.0,699.27 337.5,699.68 338.0,699.32 338.5,699.93 339.0,699.87 339.5,699.89 340.0,699.84 340.5,699.38 341.0,699.77 341.5,699.81 342.0,699.49 342.5,699.70 343.0,699.31 343.5,699.47 344.0,699.35 344.5,699.72 345.0,699.74 345.5,699.69 346.0,699.21 346.5,699.25 347.0,699.59 347.5,699.66 348.0,700.03 348.5,699.33 349.0,699.55 349.5,699.73 350.0,699.95 350.5,699.68 351.0,699.46 351.5,699.86 352.0,699.86 352.5,699.64 353.0,699.65 353.5,700.09 354.0,700.04 354.5,699.76 355.0,699.46 355.5,699.76 356.0,700.09 356.5,699.88 357.0,699.92 357.5,699.41 358.0,699.89 358.5,699.22 359.0,699.84 359.5,699.94 360.0,700.08 360.5,699.66 361.0,699.64 361.5,699.40 362.0,699.50 362.5,699.61 363.0,700.05 363.5,699.27 364.0,699.88 364.5,699.89 365.0,699.94 365.5,699.57 366.0,699.51 366.5,699.82 367.0,699.87 367.5,700.09 368.0,699.57 368.5,699.46 369.0,699.99 369.5,699.88 370.0,699.42 370.5,699.46 371.0,699.98 371.5,699.21 372.0,699.46 372.5,699.46 373.0,699.81 373.5,699.23 374.0,699.70 374.5,699.53 375.0,699.22 375.5,699.35 376.0,699.94 376.5,699.98 377.0,699.91 377.5,699.99 378.0,699.30 378.5,699.61 379.0,699.67 379.5,699.77 380.0,699.65 380.5,699.71 381.0,699.45 381.5,699.73 382.0,699.32 382.5,699.34 383.0,699.32 383.5,699.43 384.0,699.94 384.5,699.72 385.0,699.34 385.5,699.78 386.0,699.58 386.5,699.91 387.0,699.36 387.5,699.80 388.0,699.77 388.5,699.36 389.0,700.02 389.5,700.09 390.0,699.72 390.5,699.70 391.0,700.00 391.5,699.75 392.0,699.41 392.5,699.30 393.0,699.27 393.5,699.38 394.0,700.03 394.5,699.77 395.0,699.70 395.5,700.07 396.0,699.40 396.5,699.85 397.0,699.40 397.5,699.49 398.0,699.86 398.5,699.79 399.0,699.70 399.5,699.92 400.0,700.09 400.5,699.72 401.0,699.89 401.5,699.87 402.0,699.39 402.5,699.43 403.0,699.73 403.5,700.08 404.0,699.41 404.5,699.86 405.0,700.01 405.5,699.42 406.0,699.29 406.5,699.87 407.0,699.61 407.5,699.30 408.0,699.63 408.5,699.79 409.0,699.96 409.5,700.08 410.0,699.30 410.5,699.37 411.0,699.94 411.5,699.52 412.0,699.93 412.5,699.43 413.0,699.76 413.5,699.47 414.0,699.62 414.5,700.03 415.0,699.59 415.5,699.51 416.0,700.06 416.5,700.07 417.0,699.86 417.5,699.45 418.0,699.22 418.5,699.70 419.0,699.33 419.5,699.46 420.0,699.85 420.5,699.70 421.0,699.34 421.5,699.67 422.0,699.64 422.5,699.45 423.0,699.97 423.5,699.69 424.0,699.63 424.5,699.59 425.0,699.48 425.5,699.86 426.0,699.67 426.5,699.69 427.0,700.01 427.5,699.39 428.0,699.24 428.5,699.60 429.0,699.73" fill="none" stroke="#1e7fe0" stroke-width="0.6"/>
<path d="M143.8,700.1 L144.4,656.9 L145.0,700.1" fill="#1e7fe0" stroke="#1e7fe0" stroke-width="0.5"/>
<path d="M145.9,700.1 L146.5,673.1 L147.1,700.1" fill="#1e7fe0" stroke="#1e7fe0" stroke-width="0.5"/>
<path d="M148.1,700.1 L148.7,687.1 L149.3,700.1" fill="#1e7fe0" stroke="#1e7fe0" stroke-width="0.5"/>
<path d="M150.3,700.1 L150.9,695.6 L151.5,700.1" fill="#1e7fe0" stroke="#1e7fe0" stroke-width="0.5"/>
<path d="M152.6,700.1 L153.2,698.6 L153.8,700.1" fill="#1e7fe0" stroke="#1e7fe0" stroke-width="0.5"/>
<text x="145.6" y="654.4" font-size="6.6" text-anchor="middle" fill="#222" >1,522.36</text>
<text x="368.0" y="654.0" font-size="9.5" text-anchor="middle" fill="#2b85d0" >UMBS treatment</text>
<text transform="translate(21.2,668.4) rotate(-90)" font-size="9.5" text-anchor="middle" fill="#222">Intensity</text>
<text x="94.6" y="708.8" font-size="6.6" text-anchor="middle" fill="#222" >1,500</text>
<text x="205.9" y="708.8" font-size="6.6" text-anchor="middle" fill="#222" >1,550</text>
<text x="317.2" y="708.8" font-size="6.6" text-anchor="middle" fill="#222" >1,600</text>
<text x="428.5" y="708.8" font-size="6.6" text-anchor="middle" fill="#222" >1,650</text>
<text x="252.8" y="717.5" font-size="9.3" text-anchor="middle" fill="#222" >m/z</text>
<text x="459.5" y="5.8" font-size="11.5" text-anchor="start" fill="#222" >c</text>
<defs>
<linearGradient id="lane0" x1="0" y1="0" x2="0" y2="1"><stop offset="0.0000" stop-color="rgb(250,250,250)"/><stop offset="1.0000" stop-color="rgb(247,247,247)"/></linearGradient>
<linearGradient id="lane1" x1="0" y1="0" x2="0" y2="1"><stop offset="0.0000" stop-color="rgb(140,140,140)"/><stop offset="0.0191" stop-color="rgb(130,130,130)"/><stop offset="0.0403" stop-color="rgb(90,90,90)"/><stop offset="0.0580" stop-color="rgb(30,30,30)"/><stop offset="0.0757" stop-color="rgb(3,3,3)"/><stop offset="0.1182" stop-color="rgb(3,3,3)"/><stop offset="0.1359" stop-color="rgb(40,40,40)"/><stop offset="0.1536" stop-color="rgb(130,130,130)"/><stop offset="0.1748" stop-color="rgb(160,160,160)"/><stop offset="0.2102" stop-color="rgb(178,178,178)"/><stop offset="0.2668" stop-color="rgb(186,186,186)"/><stop offset="0.3730" stop-color="rgb(188,188,188)"/><stop offset="0.4579" stop-color="rgb(184,184,184)"/><stop offset="0.5004" stop-color="rgb(183,183,183)"/><stop offset="0.5499" stop-color="rgb(192,192,192)"/><stop offset="0.5853" stop-color="rgb(200,200,200)"/><stop offset="0.6773" stop-color="rgb(218,218,218)"/><stop offset="0.7976" stop-color="rgb(236,236,236)"/><stop offset="0.9038" stop-color="rgb(244,244,244)"/><stop offset="1.0000" stop-color="rgb(249,249,249)"/></linearGradient>
<linearGradient id="lane2" x1="0" y1="0" x2="0" y2="1"><stop offset="0.0000" stop-color="rgb(160,160,160)"/><stop offset="0.0333" stop-color="rgb(150,150,150)"/><stop offset="0.0510" stop-color="rgb(110,110,110)"/><stop offset="0.0651" stop-color="rgb(40,40,40)"/><stop offset="0.0757" stop-color="rgb(8,8,8)"/><stop offset="0.1040" stop-color="rgb(8,8,8)"/><stop offset="0.1182" stop-color="rgb(50,50,50)"/><stop offset="0.1394" stop-color="rgb(150,150,150)"/><stop offset="0.1748" stop-color="rgb(172,172,172)"/><stop offset="0.2314" stop-color="rgb(183,183,183)"/><stop offset="0.3163" stop-color="rgb(186,186,186)"/><stop offset="0.3730" stop-color="rgb(192,192,192)"/><stop offset="0.4862" stop-color="rgb(203,203,203)"/><stop offset="0.5994" stop-color="rgb(214,214,214)"/><stop offset="0.7127" stop-color="rgb(225,225,225)"/><stop offset="0.8259" stop-color="rgb(236,236,236)"/><stop offset="0.9391" stop-color="rgb(245,245,245)"/><stop offset="1.0000" stop-color="rgb(249,249,249)"/></linearGradient>
<linearGradient id="lane3" x1="0" y1="0" x2="0" y2="1"><stop offset="0.0000" stop-color="rgb(170,170,170)"/><stop offset="0.0333" stop-color="rgb(160,160,160)"/><stop offset="0.0510" stop-color="rgb(120,120,120)"/><stop offset="0.0651" stop-color="rgb(40,40,40)"/><stop offset="0.0757" stop-color="rgb(8,8,8)"/><stop offset="0.1005" stop-color="rgb(8,8,8)"/><stop offset="0.1146" stop-color="rgb(50,50,50)"/><stop offset="0.1323" stop-color="rgb(140,140,140)"/><stop offset="0.1607" stop-color="rgb(165,165,165)"/><stop offset="0.2102" stop-color="rgb(176,176,176)"/><stop offset="0.3163" stop-color="rgb(187,187,187)"/><stop offset="0.4296" stop-color="rgb(198,198,198)"/><stop offset="0.5428" stop-color="rgb(208,208,208)"/><stop offset="0.6561" stop-color="rgb(220,220,220)"/><stop offset="0.7693" stop-color="rgb(232,232,232)"/><stop offset="0.8825" stop-color="rgb(242,242,242)"/><stop offset="1.0000" stop-color="rgb(249,249,249)"/></linearGradient>
<linearGradient id="lane4" x1="0" y1="0" x2="0" y2="1"><stop offset="0.0000" stop-color="rgb(240,240,240)"/><stop offset="0.0403" stop-color="rgb(232,232,232)"/><stop offset="0.0970" stop-color="rgb(220,220,220)"/><stop offset="0.1607" stop-color="rgb(222,222,222)"/><stop offset="0.3022" stop-color="rgb(222,222,222)"/><stop offset="0.4437" stop-color="rgb(222,222,222)"/><stop offset="0.5428" stop-color="rgb(224,224,224)"/><stop offset="0.6561" stop-color="rgb(238,238,238)"/><stop offset="0.8259" stop-color="rgb(245,245,245)"/><stop offset="1.0000" stop-color="rgb(248,248,248)"/></linearGradient>
<linearGradient id="lane5" x1="0" y1="0" x2="0" y2="1"><stop offset="0.0000" stop-color="rgb(236,236,236)"/><stop offset="0.0545" stop-color="rgb(226,226,226)"/><stop offset="0.0970" stop-color="rgb(218,218,218)"/><stop offset="0.1607" stop-color="rgb(222,222,222)"/><stop offset="0.2102" stop-color="rgb(226,226,226)"/><stop offset="0.3234" stop-color="rgb(230,230,230)"/><stop offset="0.4437" stop-color="rgb(235,235,235)"/><stop offset="0.5428" stop-color="rgb(236,236,236)"/><stop offset="0.6561" stop-color="rgb(242,242,242)"/><stop offset="0.8259" stop-color="rgb(246,246,246)"/><stop offset="1.0000" stop-color="rgb(248,248,248)"/></linearGradient>
<linearGradient id="lane6" x1="0" y1="0" x2="0" y2="1"><stop offset="0.0000" stop-color="rgb(239,239,239)"/><stop offset="0.0899" stop-color="rgb(236,236,236)"/><stop offset="0.2102" stop-color="rgb(230,230,230)"/><stop offset="0.3234" stop-color="rgb(216,216,216)"/><stop offset="0.3659" stop-color="rgb(194,194,194)"/><stop offset="0.4933" stop-color="rgb(176,176,176)"/><stop offset="0.6065" stop-color="rgb(165,165,165)"/><stop offset="0.7127" stop-color="rgb(154,154,154)"/><stop offset="0.7834" stop-color="rgb(158,158,158)"/><stop offset="0.8259" stop-color="rgb(165,165,165)"/><stop offset="0.8754" stop-color="rgb(180,180,180)"/><stop offset="0.9179" stop-color="rgb(197,197,197)"/><stop offset="0.9533" stop-color="rgb(220,220,220)"/><stop offset="0.9816" stop-color="rgb(235,235,235)"/><stop offset="1.0000" stop-color="rgb(242,242,242)"/></linearGradient>
<linearGradient id="lane7" x1="0" y1="0" x2="0" y2="1"><stop offset="0.0000" stop-color="rgb(244,244,244)"/><stop offset="0.0899" stop-color="rgb(240,240,240)"/><stop offset="0.1536" stop-color="rgb(236,236,236)"/><stop offset="0.2668" stop-color="rgb(224,224,224)"/><stop offset="0.3800" stop-color="rgb(202,202,202)"/><stop offset="0.4933" stop-color="rgb(181,181,181)"/><stop offset="0.6065" stop-color="rgb(160,160,160)"/><stop offset="0.7127" stop-color="rgb(154,154,154)"/><stop offset="0.7834" stop-color="rgb(160,160,160)"/><stop offset="0.8259" stop-color="rgb(170,170,170)"/><stop offset="0.8754" stop-color="rgb(185,185,185)"/><stop offset="0.9179" stop-color="rgb(200,200,200)"/><stop offset="0.9533" stop-color="rgb(220,220,220)"/><stop offset="0.9816" stop-color="rgb(232,232,232)"/><stop offset="1.0000" stop-color="rgb(240,240,240)"/></linearGradient>
<filter id="blur1" x="-0.1" y="-1" width="1.2" height="3"><feGaussianBlur stdDeviation="0 1.2"/></filter>
</defs>
<rect x="486.1" y="47.3" width="20.9" height="141.3" fill="url(#lane0)"/>
<rect x="486.1" y="190.9" width="20.9" height="2.2" fill="#128a12"/>
<rect x="511.0" y="47.3" width="21.5" height="141.3" fill="url(#lane1)"/>
<rect x="511.0" y="50.3" width="21.5" height="0.8" fill="#000" fill-opacity="0.011"/>
<rect x="511.0" y="52.3" width="21.5" height="0.8" fill="#000" fill-opacity="0.023"/>
<rect x="511.0" y="54.1" width="21.5" height="0.8" fill="#000" fill-opacity="0.019"/>
<rect x="511.0" y="56.6" width="21.5" height="0.8" fill="#000" fill-opacity="0.002"/>
<rect x="511.0" y="59.4" width="21.5" height="0.8" fill="#000" fill-opacity="0.001"/>
<rect x="511.0" y="62.1" width="21.5" height="0.8" fill="#000" fill-opacity="0.002"/>
<rect x="511.0" y="64.0" width="21.5" height="0.8" fill="#000" fill-opacity="0.015"/>
<rect x="511.0" y="67.6" width="21.5" height="0.8" fill="#000" fill-opacity="0.004"/>
<rect x="511.0" y="69.8" width="21.5" height="0.8" fill="#000" fill-opacity="0.022"/>
<rect x="511.0" y="73.7" width="21.5" height="0.8" fill="#000" fill-opacity="0.020"/>
<rect x="511.0" y="76.3" width="21.5" height="0.8" fill="#000" fill-opacity="0.034"/>
<rect x="511.0" y="78.1" width="21.5" height="0.8" fill="#000" fill-opacity="0.030"/>
<rect x="511.0" y="80.4" width="21.5" height="0.8" fill="#000" fill-opacity="0.005"/>
<rect x="511.0" y="82.3" width="21.5" height="0.8" fill="#000" fill-opacity="0.011"/>
<rect x="511.0" y="85.9" width="21.5" height="0.8" fill="#000" fill-opacity="0.006"/>
<rect x="511.0" y="89.0" width="21.5" height="0.8" fill="#000" fill-opacity="0.022"/>
<rect x="511.0" y="91.5" width="21.5" height="0.8" fill="#000" fill-opacity="0.019"/>
<rect x="511.0" y="93.3" width="21.5" height="0.8" fill="#000" fill-opacity="0.002"/>
<rect x="511.0" y="95.4" width="21.5" height="0.8" fill="#000" fill-opacity="0.024"/>
<rect x="511.0" y="98.0" width="21.5" height="0.8" fill="#000" fill-opacity="0.011"/>
<rect x="511.0" y="101.1" width="21.5" height="0.8" fill="#000" fill-opacity="0.016"/>
<rect x="511.0" y="103.5" width="21.5" height="0.8" fill="#000" fill-opacity="0.028"/>
<rect x="511.0" y="106.8" width="21.5" height="0.8" fill="#000" fill-opacity="0.009"/>
<rect x="511.0" y="109.8" width="21.5" height="0.8" fill="#000" fill-opacity="0.018"/>
<rect x="511.0" y="113.6" width="21.5" height="0.8" fill="#000" fill-opacity="0.026"/>
<rect x="511.0" y="115.9" width="21.5" height="0.8" fill="#000" fill-opacity="0.034"/>
<rect x="511.0" y="117.8" width="21.5" height="0.8" fill="#000" fill-opacity="0.015"/>
<rect x="511.0" y="121.3" width="21.5" height="0.8" fill="#000" fill-opacity="0.005"/>
<rect x="511.0" y="124.2" width="21.5" height="0.8" fill="#000" fill-opacity="0.001"/>
<rect x="511.0" y="127.4" width="21.5" height="0.8" fill="#000" fill-opacity="0.027"/>
<rect x="511.0" y="130.5" width="21.5" height="0.8" fill="#000" fill-opacity="0.031"/>
<rect x="511.0" y="132.8" width="21.5" height="0.8" fill="#000" fill-opacity="0.024"/>
<rect x="511.0" y="135.9" width="21.5" height="0.8" fill="#000" fill-opacity="0.020"/>
<rect x="511.0" y="138.7" width="21.5" height="0.8" fill="#000" fill-opacity="0.029"/>
<rect x="511.0" y="142.6" width="21.5" height="0.8" fill="#000" fill-opacity="0.017"/>
<rect x="511.0" y="145.9" width="21.5" height="0.8" fill="#000" fill-opacity="0.002"/>
<rect x="511.0" y="149.2" width="21.5" height="0.8" fill="#000" fill-opacity="0.023"/>
<rect x="511.0" y="153.3" width="21.5" height="0.8" fill="#000" fill-opacity="0.029"/>
<rect x="511.0" y="155.6" width="21.5" height="0.8" fill="#000" fill-opacity="0.014"/>
<rect x="511.0" y="158.9" width="21.5" height="0.8" fill="#000" fill-opacity="0.001"/>
<rect x="511.0" y="161.7" width="21.5" height="0.8" fill="#000" fill-opacity="0.006"/>
<rect x="511.0" y="163.6" width="21.5" height="0.8" fill="#000" fill-opacity="0.002"/>
<rect x="511.0" y="167.1" width="21.5" height="0.8" fill="#000" fill-opacity="0.005"/>
<rect x="511.0" y="169.3" width="21.5" height="0.8" fill="#000" fill-opacity="0.014"/>
<rect x="511.0" y="173.1" width="21.5" height="0.8" fill="#000" fill-opacity="0.003"/>
<rect x="511.0" y="175.8" width="21.5" height="0.8" fill="#000" fill-opacity="0.019"/>
<rect x="511.0" y="179.6" width="21.5" height="0.8" fill="#000" fill-opacity="0.029"/>
<rect x="511.0" y="183.4" width="21.5" height="0.8" fill="#000" fill-opacity="0.010"/>
<rect x="511.0" y="190.9" width="21.5" height="2.2" fill="#128a12"/>
<rect x="536.0" y="47.3" width="21.0" height="141.3" fill="url(#lane2)"/>
<rect x="536.0" y="50.3" width="21.0" height="0.8" fill="#000" fill-opacity="0.013"/>
<rect x="536.0" y="54.1" width="21.0" height="0.8" fill="#000" fill-opacity="0.034"/>
<rect x="536.0" y="56.1" width="21.0" height="0.8" fill="#000" fill-opacity="0.006"/>
<rect x="536.0" y="58.3" width="21.0" height="0.8" fill="#000" fill-opacity="0.008"/>
<rect x="536.0" y="61.1" width="21.0" height="0.8" fill="#000" fill-opacity="0.021"/>
<rect x="536.0" y="63.3" width="21.0" height="0.8" fill="#000" fill-opacity="0.000"/>
<rect x="536.0" y="66.0" width="21.0" height="0.8" fill="#000" fill-opacity="0.013"/>
<rect x="536.0" y="69.0" width="21.0" height="0.8" fill="#000" fill-opacity="0.033"/>
<rect x="536.0" y="72.3" width="21.0" height="0.8" fill="#000" fill-opacity="0.018"/>
<rect x="536.0" y="75.5" width="21.0" height="0.8" fill="#000" fill-opacity="0.024"/>
<rect x="536.0" y="77.2" width="21.0" height="0.8" fill="#000" fill-opacity="0.031"/>
<rect x="536.0" y="80.8" width="21.0" height="0.8" fill="#000" fill-opacity="0.031"/>
<rect x="536.0" y="84.3" width="21.0" height="0.8" fill="#000" fill-opacity="0.014"/>
<rect x="536.0" y="86.9" width="21.0" height="0.8" fill="#000" fill-opacity="0.004"/>
<rect x="536.0" y="90.1" width="21.0" height="0.8" fill="#000" fill-opacity="0.002"/>
<rect x="536.0" y="91.9" width="21.0" height="0.8" fill="#000" fill-opacity="0.007"/>
<rect x="536.0" y="93.9" width="21.0" height="0.8" fill="#000" fill-opacity="0.012"/>
<rect x="536.0" y="95.6" width="21.0" height="0.8" fill="#000" fill-opacity="0.000"/>
<rect x="536.0" y="97.6" width="21.0" height="0.8" fill="#000" fill-opacity="0.004"/>
<rect x="536.0" y="100.1" width="21.0" height="0.8" fill="#000" fill-opacity="0.001"/>
<rect x="536.0" y="103.9" width="21.0" height="0.8" fill="#000" fill-opacity="0.021"/>
<rect x="536.0" y="105.9" width="21.0" height="0.8" fill="#000" fill-opacity="0.009"/>
<rect x="536.0" y="108.4" width="21.0" height="0.8" fill="#000" fill-opacity="0.013"/>
<rect x="536.0" y="110.3" width="21.0" height="0.8" fill="#000" fill-opacity="0.030"/>
<rect x="536.0" y="114.3" width="21.0" height="0.8" fill="#000" fill-opacity="0.016"/>
<rect x="536.0" y="117.2" width="21.0" height="0.8" fill="#000" fill-opacity="0.003"/>
<rect x="536.0" y="119.0" width="21.0" height="0.8" fill="#000" fill-opacity="0.012"/>
<rect x="536.0" y="121.3" width="21.0" height="0.8" fill="#000" fill-opacity="0.029"/>
<rect x="536.0" y="123.3" width="21.0" height="0.8" fill="#000" fill-opacity="0.001"/>
<rect x="536.0" y="127.2" width="21.0" height="0.8" fill="#000" fill-opacity="0.018"/>
<rect x="536.0" y="129.2" width="21.0" height="0.8" fill="#000" fill-opacity="0.019"/>
<rect x="536.0" y="130.9" width="21.0" height="0.8" fill="#000" fill-opacity="0.018"/>
<rect x="536.0" y="134.9" width="21.0" height="0.8" fill="#000" fill-opacity="0.030"/>
<rect x="536.0" y="138.3" width="21.0" height="0.8" fill="#000" fill-opacity="0.009"/>
<rect x="536.0" y="140.8" width="21.0" height="0.8" fill="#000" fill-opacity="0.006"/>
<rect x="536.0" y="144.3" width="21.0" height="0.8" fill="#000" fill-opacity="0.019"/>
<rect x="536.0" y="147.9" width="21.0" height="0.8" fill="#000" fill-opacity="0.012"/>
<rect x="536.0" y="150.0" width="21.0" height="0.8" fill="#000" fill-opacity="0.028"/>
<rect x="536.0" y="154.1" width="21.0" height="0.8" fill="#000" fill-opacity="0.030"/>
<rect x="536.0" y="157.7" width="21.0" height="0.8" fill="#000" fill-opacity="0.029"/>
<rect x="536.0" y="161.1" width="21.0" height="0.8" fill="#000" fill-opacity="0.008"/>
<rect x="536.0" y="164.0" width="21.0" height="0.8" fill="#000" fill-opacity="0.012"/>
<rect x="536.0" y="165.7" width="21.0" height="0.8" fill="#000" fill-opacity="0.001"/>
<rect x="536.0" y="168.0" width="21.0" height="0.8" fill="#000" fill-opacity="0.009"/>
<rect x="536.0" y="171.3" width="21.0" height="0.8" fill="#000" fill-opacity="0.033"/>
<rect x="536.0" y="174.1" width="21.0" height="0.8" fill="#000" fill-opacity="0.033"/>
<rect x="536.0" y="178.1" width="21.0" height="0.8" fill="#000" fill-opacity="0.033"/>
<rect x="536.0" y="180.6" width="21.0" height="0.8" fill="#000" fill-opacity="0.008"/>
<rect x="536.0" y="182.8" width="21.0" height="0.8" fill="#000" fill-opacity="0.007"/>
<rect x="536.0" y="184.9" width="21.0" height="0.8" fill="#000" fill-opacity="0.022"/>
<rect x="536.0" y="190.9" width="21.0" height="2.2" fill="#128a12"/>
<rect x="559.8" y="47.3" width="21.2" height="141.3" fill="url(#lane3)"/>
<rect x="559.8" y="50.3" width="21.2" height="0.8" fill="#000" fill-opacity="0.029"/>
<rect x="559.8" y="53.1" width="21.2" height="0.8" fill="#000" fill-opacity="0.023"/>
<rect x="559.8" y="56.7" width="21.2" height="0.8" fill="#000" fill-opacity="0.003"/>
<rect x="559.8" y="59.9" width="21.2" height="0.8" fill="#000" fill-opacity="0.032"/>
<rect x="559.8" y="63.5" width="21.2" height="0.8" fill="#000" fill-opacity="0.026"/>
<rect x="559.8" y="66.3" width="21.2" height="0.8" fill="#000" fill-opacity="0.006"/>
<rect x="559.8" y="69.9" width="21.2" height="0.8" fill="#000" fill-opacity="0.012"/>
<rect x="559.8" y="73.5" width="21.2" height="0.8" fill="#000" fill-opacity="0.034"/>
<rect x="559.8" y="76.1" width="21.2" height="0.8" fill="#000" fill-opacity="0.014"/>
<rect x="559.8" y="80.0" width="21.2" height="0.8" fill="#000" fill-opacity="0.025"/>
<rect x="559.8" y="82.1" width="21.2" height="0.8" fill="#000" fill-opacity="0.004"/>
<rect x="559.8" y="84.0" width="21.2" height="0.8" fill="#000" fill-opacity="0.032"/>
<rect x="559.8" y="87.7" width="21.2" height="0.8" fill="#000" fill-opacity="0.005"/>
<rect x="559.8" y="91.3" width="21.2" height="0.8" fill="#000" fill-opacity="0.034"/>
<rect x="559.8" y="94.6" width="21.2" height="0.8" fill="#000" fill-opacity="0.012"/>
<rect x="559.8" y="97.5" width="21.2" height="0.8" fill="#000" fill-opacity="0.005"/>
<rect x="559.8" y="99.2" width="21.2" height="0.8" fill="#000" fill-opacity="0.034"/>
<rect x="559.8" y="102.4" width="21.2" height="0.8" fill="#000" fill-opacity="0.018"/>
<rect x="559.8" y="106.3" width="21.2" height="0.8" fill="#000" fill-opacity="0.015"/>
<rect x="559.8" y="110.1" width="21.2" height="0.8" fill="#000" fill-opacity="0.029"/>
<rect x="559.8" y="112.2" width="21.2" height="0.8" fill="#000" fill-opacity="0.009"/>
<rect x="559.8" y="114.6" width="21.2" height="0.8" fill="#000" fill-opacity="0.008"/>
<rect x="559.8" y="117.6" width="21.2" height="0.8" fill="#000" fill-opacity="0.009"/>
<rect x="559.8" y="120.3" width="21.2" height="0.8" fill="#000" fill-opacity="0.005"/>
<rect x="559.8" y="124.2" width="21.2" height="0.8" fill="#000" fill-opacity="0.012"/>
<rect x="559.8" y="126.9" width="21.2" height="0.8" fill="#000" fill-opacity="0.020"/>
<rect x="559.8" y="130.8" width="21.2" height="0.8" fill="#000" fill-opacity="0.015"/>
<rect x="559.8" y="134.7" width="21.2" height="0.8" fill="#000" fill-opacity="0.018"/>
<rect x="559.8" y="137.6" width="21.2" height="0.8" fill="#000" fill-opacity="0.018"/>
<rect x="559.8" y="139.2" width="21.2" height="0.8" fill="#000" fill-opacity="0.015"/>
<rect x="559.8" y="141.3" width="21.2" height="0.8" fill="#000" fill-opacity="0.000"/>
<rect x="559.8" y="144.9" width="21.2" height="0.8" fill="#000" fill-opacity="0.006"/>
<rect x="559.8" y="147.7" width="21.2" height="0.8" fill="#000" fill-opacity="0.025"/>
<rect x="559.8" y="150.7" width="21.2" height="0.8" fill="#000" fill-opacity="0.011"/>
<rect x="559.8" y="153.6" width="21.2" height="0.8" fill="#000" fill-opacity="0.019"/>
<rect x="559.8" y="157.1" width="21.2" height="0.8" fill="#000" fill-opacity="0.004"/>
<rect x="559.8" y="160.1" width="21.2" height="0.8" fill="#000" fill-opacity="0.009"/>
<rect x="559.8" y="162.4" width="21.2" height="0.8" fill="#000" fill-opacity="0.027"/>
<rect x="559.8" y="165.3" width="21.2" height="0.8" fill="#000" fill-opacity="0.020"/>
<rect x="559.8" y="168.8" width="21.2" height="0.8" fill="#000" fill-opacity="0.032"/>
<rect x="559.8" y="171.5" width="21.2" height="0.8" fill="#000" fill-opacity="0.021"/>
<rect x="559.8" y="174.4" width="21.2" height="0.8" fill="#000" fill-opacity="0.018"/>
<rect x="559.8" y="177.7" width="21.2" height="0.8" fill="#000" fill-opacity="0.016"/>
<rect x="559.8" y="180.6" width="21.2" height="0.8" fill="#000" fill-opacity="0.017"/>
<rect x="559.8" y="184.6" width="21.2" height="0.8" fill="#000" fill-opacity="0.024"/>
<rect x="559.8" y="190.9" width="21.2" height="2.2" fill="#128a12"/>
<rect x="584.2" y="47.3" width="21.6" height="141.3" fill="url(#lane4)"/>
<rect x="584.2" y="50.3" width="21.6" height="0.8" fill="#000" fill-opacity="0.033"/>
<rect x="584.2" y="52.5" width="21.6" height="0.8" fill="#000" fill-opacity="0.020"/>
<rect x="584.2" y="56.5" width="21.6" height="0.8" fill="#000" fill-opacity="0.029"/>
<rect x="584.2" y="58.4" width="21.6" height="0.8" fill="#000" fill-opacity="0.004"/>
<rect x="584.2" y="61.2" width="21.6" height="0.8" fill="#000" fill-opacity="0.003"/>
<rect x="584.2" y="63.4" width="21.6" height="0.8" fill="#000" fill-opacity="0.003"/>
<rect x="584.2" y="66.6" width="21.6" height="0.8" fill="#000" fill-opacity="0.027"/>
<rect x="584.2" y="70.5" width="21.6" height="0.8" fill="#000" fill-opacity="0.005"/>
<rect x="584.2" y="73.9" width="21.6" height="0.8" fill="#000" fill-opacity="0.023"/>
<rect x="584.2" y="75.8" width="21.6" height="0.8" fill="#000" fill-opacity="0.031"/>
<rect x="584.2" y="79.8" width="21.6" height="0.8" fill="#000" fill-opacity="0.008"/>
<rect x="584.2" y="83.8" width="21.6" height="0.8" fill="#000" fill-opacity="0.014"/>
<rect x="584.2" y="86.6" width="21.6" height="0.8" fill="#000" fill-opacity="0.035"/>
<rect x="584.2" y="90.3" width="21.6" height="0.8" fill="#000" fill-opacity="0.006"/>
<rect x="584.2" y="93.0" width="21.6" height="0.8" fill="#000" fill-opacity="0.018"/>
<rect x="584.2" y="95.4" width="21.6" height="0.8" fill="#000" fill-opacity="0.007"/>
<rect x="584.2" y="97.8" width="21.6" height="0.8" fill="#000" fill-opacity="0.025"/>
<rect x="584.2" y="99.5" width="21.6" height="0.8" fill="#000" fill-opacity="0.019"/>
<rect x="584.2" y="102.2" width="21.6" height="0.8" fill="#000" fill-opacity="0.001"/>
<rect x="584.2" y="104.6" width="21.6" height="0.8" fill="#000" fill-opacity="0.022"/>
<rect x="584.2" y="107.5" width="21.6" height="0.8" fill="#000" fill-opacity="0.002"/>
<rect x="584.2" y="111.6" width="21.6" height="0.8" fill="#000" fill-opacity="0.028"/>
<rect x="584.2" y="115.6" width="21.6" height="0.8" fill="#000" fill-opacity="0.004"/>
<rect x="584.2" y="117.9" width="21.6" height="0.8" fill="#000" fill-opacity="0.001"/>
<rect x="584.2" y="121.4" width="21.6" height="0.8" fill="#000" fill-opacity="0.009"/>
<rect x="584.2" y="123.3" width="21.6" height="0.8" fill="#000" fill-opacity="0.015"/>
<rect x="584.2" y="127.2" width="21.6" height="0.8" fill="#000" fill-opacity="0.029"/>
<rect x="584.2" y="129.5" width="21.6" height="0.8" fill="#000" fill-opacity="0.005"/>
<rect x="584.2" y="133.4" width="21.6" height="0.8" fill="#000" fill-opacity="0.020"/>
<rect x="584.2" y="136.7" width="21.6" height="0.8" fill="#000" fill-opacity="0.003"/>
<rect x="584.2" y="138.4" width="21.6" height="0.8" fill="#000" fill-opacity="0.024"/>
<rect x="584.2" y="141.1" width="21.6" height="0.8" fill="#000" fill-opacity="0.003"/>
<rect x="584.2" y="145.1" width="21.6" height="0.8" fill="#000" fill-opacity="0.022"/>
<rect x="584.2" y="148.7" width="21.6" height="0.8" fill="#000" fill-opacity="0.003"/>
<rect x="584.2" y="152.4" width="21.6" height="0.8" fill="#000" fill-opacity="0.002"/>
<rect x="584.2" y="156.2" width="21.6" height="0.8" fill="#000" fill-opacity="0.016"/>
<rect x="584.2" y="158.6" width="21.6" height="0.8" fill="#000" fill-opacity="0.019"/>
<rect x="584.2" y="162.5" width="21.6" height="0.8" fill="#000" fill-opacity="0.009"/>
<rect x="584.2" y="164.4" width="21.6" height="0.8" fill="#000" fill-opacity="0.018"/>
<rect x="584.2" y="166.6" width="21.6" height="0.8" fill="#000" fill-opacity="0.004"/>
<rect x="584.2" y="168.6" width="21.6" height="0.8" fill="#000" fill-opacity="0.002"/>
<rect x="584.2" y="170.8" width="21.6" height="0.8" fill="#000" fill-opacity="0.011"/>
<rect x="584.2" y="173.1" width="21.6" height="0.8" fill="#000" fill-opacity="0.027"/>
<rect x="584.2" y="175.4" width="21.6" height="0.8" fill="#000" fill-opacity="0.018"/>
<rect x="584.2" y="177.5" width="21.6" height="0.8" fill="#000" fill-opacity="0.012"/>
<rect x="584.2" y="179.1" width="21.6" height="0.8" fill="#000" fill-opacity="0.009"/>
<rect x="584.2" y="180.8" width="21.6" height="0.8" fill="#000" fill-opacity="0.026"/>
<rect x="584.2" y="183.7" width="21.6" height="0.8" fill="#000" fill-opacity="0.007"/>
<rect x="584.2" y="190.9" width="21.6" height="2.2" fill="#128a12"/>
<rect x="609.2" y="47.3" width="21.7" height="141.3" fill="url(#lane5)"/>
<rect x="609.2" y="50.3" width="21.7" height="0.8" fill="#000" fill-opacity="0.033"/>
<rect x="609.2" y="52.2" width="21.7" height="0.8" fill="#000" fill-opacity="0.029"/>
<rect x="609.2" y="54.8" width="21.7" height="0.8" fill="#000" fill-opacity="0.017"/>
<rect x="609.2" y="58.5" width="21.7" height="0.8" fill="#000" fill-opacity="0.014"/>
<rect x="609.2" y="61.4" width="21.7" height="0.8" fill="#000" fill-opacity="0.024"/>
<rect x="609.2" y="65.5" width="21.7" height="0.8" fill="#000" fill-opacity="0.012"/>
<rect x="609.2" y="69.1" width="21.7" height="0.8" fill="#000" fill-opacity="0.025"/>
<rect x="609.2" y="72.3" width="21.7" height="0.8" fill="#000" fill-opacity="0.014"/>
<rect x="609.2" y="74.8" width="21.7" height="0.8" fill="#000" fill-opacity="0.002"/>
<rect x="609.2" y="76.7" width="21.7" height="0.8" fill="#000" fill-opacity="0.002"/>
<rect x="609.2" y="80.2" width="21.7" height="0.8" fill="#000" fill-opacity="0.009"/>
<rect x="609.2" y="82.2" width="21.7" height="0.8" fill="#000" fill-opacity="0.003"/>
<rect x="609.2" y="85.9" width="21.7" height="0.8" fill="#000" fill-opacity="0.030"/>
<rect x="609.2" y="89.2" width="21.7" height="0.8" fill="#000" fill-opacity="0.010"/>
<rect x="609.2" y="91.4" width="21.7" height="0.8" fill="#000" fill-opacity="0.010"/>
<rect x="609.2" y="94.1" width="21.7" height="0.8" fill="#000" fill-opacity="0.006"/>
<rect x="609.2" y="96.8" width="21.7" height="0.8" fill="#000" fill-opacity="0.009"/>
<rect x="609.2" y="100.8" width="21.7" height="0.8" fill="#000" fill-opacity="0.034"/>
<rect x="609.2" y="103.8" width="21.7" height="0.8" fill="#000" fill-opacity="0.009"/>
<rect x="609.2" y="107.8" width="21.7" height="0.8" fill="#000" fill-opacity="0.011"/>
<rect x="609.2" y="110.3" width="21.7" height="0.8" fill="#000" fill-opacity="0.000"/>
<rect x="609.2" y="112.9" width="21.7" height="0.8" fill="#000" fill-opacity="0.017"/>
<rect x="609.2" y="115.7" width="21.7" height="0.8" fill="#000" fill-opacity="0.007"/>
<rect x="609.2" y="118.6" width="21.7" height="0.8" fill="#000" fill-opacity="0.000"/>
<rect x="609.2" y="120.8" width="21.7" height="0.8" fill="#000" fill-opacity="0.003"/>
<rect x="609.2" y="123.4" width="21.7" height="0.8" fill="#000" fill-opacity="0.001"/>
<rect x="609.2" y="125.1" width="21.7" height="0.8" fill="#000" fill-opacity="0.011"/>
<rect x="609.2" y="127.3" width="21.7" height="0.8" fill="#000" fill-opacity="0.020"/>
<rect x="609.2" y="130.2" width="21.7" height="0.8" fill="#000" fill-opacity="0.026"/>
<rect x="609.2" y="133.4" width="21.7" height="0.8" fill="#000" fill-opacity="0.025"/>
<rect x="609.2" y="137.2" width="21.7" height="0.8" fill="#000" fill-opacity="0.014"/>
<rect x="609.2" y="139.7" width="21.7" height="0.8" fill="#000" fill-opacity="0.034"/>
<rect x="609.2" y="141.6" width="21.7" height="0.8" fill="#000" fill-opacity="0.025"/>
<rect x="609.2" y="144.8" width="21.7" height="0.8" fill="#000" fill-opacity="0.002"/>
<rect x="609.2" y="148.5" width="21.7" height="0.8" fill="#000" fill-opacity="0.031"/>
<rect x="609.2" y="151.7" width="21.7" height="0.8" fill="#000" fill-opacity="0.026"/>
<rect x="609.2" y="155.3" width="21.7" height="0.8" fill="#000" fill-opacity="0.005"/>
<rect x="609.2" y="158.2" width="21.7" height="0.8" fill="#000" fill-opacity="0.018"/>
<rect x="609.2" y="161.9" width="21.7" height="0.8" fill="#000" fill-opacity="0.028"/>
<rect x="609.2" y="165.6" width="21.7" height="0.8" fill="#000" fill-opacity="0.020"/>
<rect x="609.2" y="169.4" width="21.7" height="0.8" fill="#000" fill-opacity="0.024"/>
<rect x="609.2" y="172.8" width="21.7" height="0.8" fill="#000" fill-opacity="0.008"/>
<rect x="609.2" y="174.4" width="21.7" height="0.8" fill="#000" fill-opacity="0.005"/>
<rect x="609.2" y="176.9" width="21.7" height="0.8" fill="#000" fill-opacity="0.004"/>
<rect x="609.2" y="180.6" width="21.7" height="0.8" fill="#000" fill-opacity="0.020"/>
<rect x="609.2" y="183.8" width="21.7" height="0.8" fill="#000" fill-opacity="0.022"/>
<rect x="609.2" y="190.9" width="21.7" height="2.2" fill="#128a12"/>
<rect x="633.6" y="47.3" width="21.4" height="141.3" fill="url(#lane6)"/>
<rect x="633.6" y="50.3" width="21.4" height="0.8" fill="#000" fill-opacity="0.017"/>
<rect x="633.6" y="51.9" width="21.4" height="0.8" fill="#000" fill-opacity="0.028"/>
<rect x="633.6" y="55.4" width="21.4" height="0.8" fill="#000" fill-opacity="0.018"/>
<rect x="633.6" y="58.3" width="21.4" height="0.8" fill="#000" fill-opacity="0.023"/>
<rect x="633.6" y="60.1" width="21.4" height="0.8" fill="#000" fill-opacity="0.026"/>
<rect x="633.6" y="62.3" width="21.4" height="0.8" fill="#000" fill-opacity="0.003"/>
<rect x="633.6" y="64.6" width="21.4" height="0.8" fill="#000" fill-opacity="0.026"/>
<rect x="633.6" y="66.7" width="21.4" height="0.8" fill="#000" fill-opacity="0.026"/>
<rect x="633.6" y="70.7" width="21.4" height="0.8" fill="#000" fill-opacity="0.017"/>
<rect x="633.6" y="73.3" width="21.4" height="0.8" fill="#000" fill-opacity="0.017"/>
<rect x="633.6" y="76.6" width="21.4" height="0.8" fill="#000" fill-opacity="0.027"/>
<rect x="633.6" y="79.7" width="21.4" height="0.8" fill="#000" fill-opacity="0.022"/>
<rect x="633.6" y="81.5" width="21.4" height="0.8" fill="#000" fill-opacity="0.005"/>
<rect x="633.6" y="83.8" width="21.4" height="0.8" fill="#000" fill-opacity="0.026"/>
<rect x="633.6" y="86.1" width="21.4" height="0.8" fill="#000" fill-opacity="0.020"/>
<rect x="633.6" y="87.8" width="21.4" height="0.8" fill="#000" fill-opacity="0.002"/>
<rect x="633.6" y="90.0" width="21.4" height="0.8" fill="#000" fill-opacity="0.024"/>
<rect x="633.6" y="93.4" width="21.4" height="0.8" fill="#000" fill-opacity="0.024"/>
<rect x="633.6" y="95.7" width="21.4" height="0.8" fill="#000" fill-opacity="0.018"/>
<rect x="633.6" y="98.4" width="21.4" height="0.8" fill="#000" fill-opacity="0.016"/>
<rect x="633.6" y="100.3" width="21.4" height="0.8" fill="#000" fill-opacity="0.031"/>
<rect x="633.6" y="102.4" width="21.4" height="0.8" fill="#000" fill-opacity="0.034"/>
<rect x="633.6" y="106.4" width="21.4" height="0.8" fill="#000" fill-opacity="0.001"/>
<rect x="633.6" y="109.1" width="21.4" height="0.8" fill="#000" fill-opacity="0.029"/>
<rect x="633.6" y="113.2" width="21.4" height="0.8" fill="#000" fill-opacity="0.016"/>
<rect x="633.6" y="115.4" width="21.4" height="0.8" fill="#000" fill-opacity="0.007"/>
<rect x="633.6" y="119.4" width="21.4" height="0.8" fill="#000" fill-opacity="0.007"/>
<rect x="633.6" y="122.4" width="21.4" height="0.8" fill="#000" fill-opacity="0.005"/>
<rect x="633.6" y="125.4" width="21.4" height="0.8" fill="#000" fill-opacity="0.033"/>
<rect x="633.6" y="127.3" width="21.4" height="0.8" fill="#000" fill-opacity="0.029"/>
<rect x="633.6" y="130.2" width="21.4" height="0.8" fill="#000" fill-opacity="0.031"/>
<rect x="633.6" y="133.5" width="21.4" height="0.8" fill="#000" fill-opacity="0.008"/>
<rect x="633.6" y="137.4" width="21.4" height="0.8" fill="#000" fill-opacity="0.017"/>
<rect x="633.6" y="139.0" width="21.4" height="0.8" fill="#000" fill-opacity="0.000"/>
<rect x="633.6" y="141.8" width="21.4" height="0.8" fill="#000" fill-opacity="0.016"/>
<rect x="633.6" y="144.2" width="21.4" height="0.8" fill="#000" fill-opacity="0.005"/>
<rect x="633.6" y="146.7" width="21.4" height="0.8" fill="#000" fill-opacity="0.011"/>
<rect x="633.6" y="150.4" width="21.4" height="0.8" fill="#000" fill-opacity="0.000"/>
<rect x="633.6" y="153.8" width="21.4" height="0.8" fill="#000" fill-opacity="0.029"/>
<rect x="633.6" y="155.7" width="21.4" height="0.8" fill="#000" fill-opacity="0.032"/>
<rect x="633.6" y="159.1" width="21.4" height="0.8" fill="#000" fill-opacity="0.032"/>
<rect x="633.6" y="161.4" width="21.4" height="0.8" fill="#000" fill-opacity="0.013"/>
<rect x="633.6" y="164.0" width="21.4" height="0.8" fill="#000" fill-opacity="0.035"/>
<rect x="633.6" y="167.1" width="21.4" height="0.8" fill="#000" fill-opacity="0.013"/>
<rect x="633.6" y="169.8" width="21.4" height="0.8" fill="#000" fill-opacity="0.010"/>
<rect x="633.6" y="171.5" width="21.4" height="0.8" fill="#000" fill-opacity="0.004"/>
<rect x="633.6" y="175.2" width="21.4" height="0.8" fill="#000" fill-opacity="0.010"/>
<rect x="633.6" y="179.1" width="21.4" height="0.8" fill="#000" fill-opacity="0.009"/>
<rect x="633.6" y="181.4" width="21.4" height="0.8" fill="#000" fill-opacity="0.018"/>
<rect x="633.6" y="183.5" width="21.4" height="0.8" fill="#000" fill-opacity="0.013"/>
<rect x="633.6" y="190.9" width="21.4" height="2.2" fill="#128a12"/>
<rect x="657.2" y="47.3" width="20.6" height="141.3" fill="url(#lane7)"/>
<rect x="657.2" y="50.3" width="20.6" height="0.8" fill="#000" fill-opacity="0.031"/>
<rect x="657.2" y="53.9" width="20.6" height="0.8" fill="#000" fill-opacity="0.022"/>
<rect x="657.2" y="57.8" width="20.6" height="0.8" fill="#000" fill-opacity="0.033"/>
<rect x="657.2" y="60.8" width="20.6" height="0.8" fill="#000" fill-opacity="0.025"/>
<rect x="657.2" y="62.5" width="20.6" height="0.8" fill="#000" fill-opacity="0.026"/>
<rect x="657.2" y="65.2" width="20.6" height="0.8" fill="#000" fill-opacity="0.026"/>
<rect x="657.2" y="68.4" width="20.6" height="0.8" fill="#000" fill-opacity="0.010"/>
<rect x="657.2" y="70.2" width="20.6" height="0.8" fill="#000" fill-opacity="0.032"/>
<rect x="657.2" y="72.1" width="20.6" height="0.8" fill="#000" fill-opacity="0.017"/>
<rect x="657.2" y="74.5" width="20.6" height="0.8" fill="#000" fill-opacity="0.010"/>
<rect x="657.2" y="78.0" width="20.6" height="0.8" fill="#000" fill-opacity="0.034"/>
<rect x="657.2" y="80.2" width="20.6" height="0.8" fill="#000" fill-opacity="0.023"/>
<rect x="657.2" y="82.6" width="20.6" height="0.8" fill="#000" fill-opacity="0.020"/>
<rect x="657.2" y="85.2" width="20.6" height="0.8" fill="#000" fill-opacity="0.006"/>
<rect x="657.2" y="87.2" width="20.6" height="0.8" fill="#000" fill-opacity="0.007"/>
<rect x="657.2" y="91.1" width="20.6" height="0.8" fill="#000" fill-opacity="0.017"/>
<rect x="657.2" y="93.2" width="20.6" height="0.8" fill="#000" fill-opacity="0.032"/>
<rect x="657.2" y="97.3" width="20.6" height="0.8" fill="#000" fill-opacity="0.016"/>
<rect x="657.2" y="99.2" width="20.6" height="0.8" fill="#000" fill-opacity="0.007"/>
<rect x="657.2" y="101.1" width="20.6" height="0.8" fill="#000" fill-opacity="0.012"/>
<rect x="657.2" y="102.9" width="20.6" height="0.8" fill="#000" fill-opacity="0.008"/>
<rect x="657.2" y="105.1" width="20.6" height="0.8" fill="#000" fill-opacity="0.020"/>
<rect x="657.2" y="109.0" width="20.6" height="0.8" fill="#000" fill-opacity="0.026"/>
<rect x="657.2" y="111.6" width="20.6" height="0.8" fill="#000" fill-opacity="0.014"/>
<rect x="657.2" y="114.5" width="20.6" height="0.8" fill="#000" fill-opacity="0.013"/>
<rect x="657.2" y="117.0" width="20.6" height="0.8" fill="#000" fill-opacity="0.002"/>
<rect x="657.2" y="119.2" width="20.6" height="0.8" fill="#000" fill-opacity="0.034"/>
<rect x="657.2" y="121.2" width="20.6" height="0.8" fill="#000" fill-opacity="0.018"/>
<rect x="657.2" y="124.3" width="20.6" height="0.8" fill="#000" fill-opacity="0.030"/>
<rect x="657.2" y="126.5" width="20.6" height="0.8" fill="#000" fill-opacity="0.009"/>
<rect x="657.2" y="128.7" width="20.6" height="0.8" fill="#000" fill-opacity="0.014"/>
<rect x="657.2" y="131.4" width="20.6" height="0.8" fill="#000" fill-opacity="0.033"/>
<rect x="657.2" y="135.1" width="20.6" height="0.8" fill="#000" fill-opacity="0.031"/>
<rect x="657.2" y="136.8" width="20.6" height="0.8" fill="#000" fill-opacity="0.001"/>
<rect x="657.2" y="140.2" width="20.6" height="0.8" fill="#000" fill-opacity="0.031"/>
<rect x="657.2" y="142.9" width="20.6" height="0.8" fill="#000" fill-opacity="0.021"/>
<rect x="657.2" y="144.5" width="20.6" height="0.8" fill="#000" fill-opacity="0.014"/>
<rect x="657.2" y="148.5" width="20.6" height="0.8" fill="#000" fill-opacity="0.029"/>
<rect x="657.2" y="152.2" width="20.6" height="0.8" fill="#000" fill-opacity="0.034"/>
<rect x="657.2" y="154.4" width="20.6" height="0.8" fill="#000" fill-opacity="0.004"/>
<rect x="657.2" y="156.4" width="20.6" height="0.8" fill="#000" fill-opacity="0.018"/>
<rect x="657.2" y="159.7" width="20.6" height="0.8" fill="#000" fill-opacity="0.033"/>
<rect x="657.2" y="163.1" width="20.6" height="0.8" fill="#000" fill-opacity="0.023"/>
<rect x="657.2" y="166.6" width="20.6" height="0.8" fill="#000" fill-opacity="0.016"/>
<rect x="657.2" y="169.6" width="20.6" height="0.8" fill="#000" fill-opacity="0.001"/>
<rect x="657.2" y="173.2" width="20.6" height="0.8" fill="#000" fill-opacity="0.008"/>
<rect x="657.2" y="177.1" width="20.6" height="0.8" fill="#000" fill-opacity="0.023"/>
<rect x="657.2" y="179.4" width="20.6" height="0.8" fill="#000" fill-opacity="0.004"/>
<rect x="657.2" y="181.6" width="20.6" height="0.8" fill="#000" fill-opacity="0.022"/>
<rect x="657.2" y="185.0" width="20.6" height="0.8" fill="#000" fill-opacity="0.004"/>
<rect x="657.2" y="190.9" width="20.6" height="2.2" fill="#128a12"/>
<rect x="486.1" y="79.2" width="20.9" height="3.5" fill="rgb(215,215,215)" filter="url(#blur1)"/>
<rect x="486.1" y="100.2" width="20.9" height="3.5" fill="rgb(205,205,205)" filter="url(#blur1)"/>
<rect x="486.1" y="126.9" width="20.9" height="2.2" fill="rgb(200,200,200)" filter="url(#blur1)"/>
<rect x="486.1" y="145.8" width="20.9" height="1.0" fill="rgb(150,150,150)"/>
<rect x="486.1" y="161.9" width="20.9" height="1.2" fill="rgb(45,45,45)"/>
<rect x="486.1" y="174.7" width="20.9" height="1.0" fill="rgb(120,120,120)"/>
<text x="483.0" y="84.0" font-size="8.5" text-anchor="end" fill="#222" >(nt)</text>
<text x="483.0" y="105.0" font-size="8.5" text-anchor="end" fill="#222" >4,000</text>
<text x="483.0" y="131.0" font-size="8.5" text-anchor="end" fill="#222" >2,000</text>
<text x="483.0" y="149.3" font-size="8.5" text-anchor="end" fill="#222" >1,000</text>
<text x="483.0" y="165.5" font-size="8.5" text-anchor="end" fill="#222" >500</text>
<text x="483.0" y="178.2" font-size="8.5" text-anchor="end" fill="#222" >200</text>
<text transform="translate(492.6,46.0) rotate(-42)" font-size="9.8" fill="#222">Ladder</text>
<text transform="translate(516.0,46.0) rotate(-42)" font-size="9.8" fill="#222">Control</text>
<text transform="translate(541.0,46.0) rotate(-42)" font-size="9.8" fill="#3f86cc">UMBS-1</text>
<text transform="translate(564.8,46.0) rotate(-42)" font-size="9.8" fill="#3f86cc">UMBS-2</text>
<text transform="translate(589.2,46.0) rotate(-42)" font-size="9.8" fill="#e8923e">EM-1</text>
<text transform="translate(614.2,46.0) rotate(-42)" font-size="9.8" fill="#e8923e">EM-2</text>
<text transform="translate(638.6,46.0) rotate(-42)" font-size="9.8" fill="#6db550">CBS-1</text>
<text transform="translate(662.2,46.0) rotate(-42)" font-size="9.8" fill="#6db550">CBS-2</text>
<text x="614.4" y="15.8" font-size="9" text-anchor="middle" fill="#e8923e" >NEB</text>
<line x1="595" y1="19.6" x2="633.7" y2="19.6" stroke="#f0b070" stroke-width="1"/>
<text x="658.7" y="15.8" font-size="9" text-anchor="middle" fill="#6db550" >Zymo</text>
<line x1="639.5" y1="19.6" x2="678.5" y2="19.6" stroke="#8cc878" stroke-width="1"/>
<text x="454.5" y="202.9" font-size="11.5" fill="#222">d</text>
<line x1="491.0" y1="204.2" x2="491.0" y2="346.3" stroke="#555" stroke-width="1.15"/>
<line x1="490.5" y1="345.9" x2="680" y2="345.9" stroke="#555" stroke-width="1"/>
<line x1="487.8" y1="345.9" x2="491.0" y2="345.9" stroke="#555" stroke-width="0.9"/>
<text x="485.8" y="348.8" font-size="8.2" text-anchor="end" fill="#222" >0</text>
<line x1="487.8" y1="317.6" x2="491.0" y2="317.6" stroke="#555" stroke-width="0.9"/>
<text x="485.8" y="320.5" font-size="8.2" text-anchor="end" fill="#222" >2</text>
<line x1="487.8" y1="289.2" x2="491.0" y2="289.2" stroke="#555" stroke-width="0.9"/>
<text x="485.8" y="292.1" font-size="8.2" text-anchor="end" fill="#222" >4</text>
<line x1="487.8" y1="260.9" x2="491.0" y2="260.9" stroke="#555" stroke-width="0.9"/>
<text x="485.8" y="263.8" font-size="8.2" text-anchor="end" fill="#222" >6</text>
<line x1="487.8" y1="232.5" x2="491.0" y2="232.5" stroke="#555" stroke-width="0.9"/>
<text x="485.8" y="235.4" font-size="8.2" text-anchor="end" fill="#222" >8</text>
<line x1="487.8" y1="204.2" x2="491.0" y2="204.2" stroke="#555" stroke-width="0.9"/>
<text x="485.8" y="207.1" font-size="8.2" text-anchor="end" fill="#222" >10</text>
<line x1="512.9" y1="345.9" x2="512.9" y2="349.5" stroke="#555" stroke-width="0.9"/>
<rect x="495.40" y="279.30" width="8.4" height="66.60" fill="#2f7dc8" stroke="#2a2a2a" stroke-width="0.7"/>
<line x1="499.60" y1="265.84" x2="499.60" y2="292.05" stroke="#111" stroke-width="0.8"/>
<line x1="497.60" y1="265.84" x2="501.60" y2="265.84" stroke="#111" stroke-width="0.8"/>
<line x1="497.60" y1="292.05" x2="501.60" y2="292.05" stroke="#111" stroke-width="0.8"/>
<rect x="499.10" y="256.13" width="1" height="1" fill="#222"/>
<rect x="499.10" y="281.63" width="1" height="1" fill="#222"/>
<rect x="499.10" y="288.72" width="1" height="1" fill="#222"/>
<rect x="508.70" y="298.01" width="8.4" height="47.89" fill="#e88930" stroke="#2a2a2a" stroke-width="0.7"/>
<line x1="512.90" y1="288.51" x2="512.90" y2="307.64" stroke="#111" stroke-width="0.8"/>
<line x1="510.90" y1="288.51" x2="514.90" y2="288.51" stroke="#111" stroke-width="0.8"/>
<line x1="510.90" y1="307.64" x2="514.90" y2="307.64" stroke="#111" stroke-width="0.8"/>
<rect x="512.40" y="280.22" width="1" height="1" fill="#222"/>
<rect x="512.40" y="300.06" width="1" height="1" fill="#222"/>
<rect x="512.40" y="308.56" width="1" height="1" fill="#222"/>
<rect x="522.00" y="335.27" width="8.4" height="10.63" fill="#5cae48" stroke="#2a2a2a" stroke-width="0.7"/>
<line x1="526.20" y1="331.02" x2="526.20" y2="338.81" stroke="#111" stroke-width="0.8"/>
<line x1="524.20" y1="331.02" x2="528.20" y2="331.02" stroke="#111" stroke-width="0.8"/>
<line x1="524.20" y1="338.81" x2="528.20" y2="338.81" stroke="#111" stroke-width="0.8"/>
<rect x="525.70" y="326.98" width="1" height="1" fill="#222"/>
<rect x="525.70" y="334.06" width="1" height="1" fill="#222"/>
<rect x="525.70" y="336.90" width="1" height="1" fill="#222"/>
<line x1="561.3" y1="345.9" x2="561.3" y2="349.5" stroke="#555" stroke-width="0.9"/>
<rect x="543.80" y="262.30" width="8.4" height="83.60" fill="#2f7dc8" stroke="#2a2a2a" stroke-width="0.7"/>
<line x1="548.00" y1="241.04" x2="548.00" y2="283.55" stroke="#111" stroke-width="0.8"/>
<line x1="546.00" y1="241.04" x2="550.00" y2="241.04" stroke="#111" stroke-width="0.8"/>
<line x1="546.00" y1="283.55" x2="550.00" y2="283.55" stroke="#111" stroke-width="0.8"/>
<rect x="547.50" y="236.29" width="1" height="1" fill="#222"/>
<rect x="547.50" y="271.72" width="1" height="1" fill="#222"/>
<rect x="547.50" y="277.38" width="1" height="1" fill="#222"/>
<rect x="557.10" y="300.56" width="8.4" height="45.34" fill="#e88930" stroke="#2a2a2a" stroke-width="0.7"/>
<line x1="561.30" y1="293.47" x2="561.30" y2="307.64" stroke="#111" stroke-width="0.8"/>
<line x1="559.30" y1="293.47" x2="563.30" y2="293.47" stroke="#111" stroke-width="0.8"/>
<line x1="559.30" y1="307.64" x2="563.30" y2="307.64" stroke="#111" stroke-width="0.8"/>
<rect x="560.80" y="281.63" width="1" height="1" fill="#222"/>
<rect x="560.80" y="301.47" width="1" height="1" fill="#222"/>
<rect x="560.80" y="312.81" width="1" height="1" fill="#222"/>
<rect x="570.40" y="337.40" width="8.4" height="8.50" fill="#5cae48" stroke="#2a2a2a" stroke-width="0.7"/>
<line x1="574.60" y1="334.56" x2="574.60" y2="339.52" stroke="#111" stroke-width="0.8"/>
<line x1="572.60" y1="334.56" x2="576.60" y2="334.56" stroke="#111" stroke-width="0.8"/>
<line x1="572.60" y1="339.52" x2="576.60" y2="339.52" stroke="#111" stroke-width="0.8"/>
<rect x="574.10" y="332.65" width="1" height="1" fill="#222"/>
<rect x="574.10" y="336.90" width="1" height="1" fill="#222"/>
<rect x="574.10" y="338.31" width="1" height="1" fill="#222"/>
<line x1="609.5" y1="345.9" x2="609.5" y2="349.5" stroke="#555" stroke-width="0.9"/>
<rect x="592.00" y="275.48" width="8.4" height="70.42" fill="#2f7dc8" stroke="#2a2a2a" stroke-width="0.7"/>
<line x1="596.20" y1="228.57" x2="596.20" y2="322.38" stroke="#111" stroke-width="0.8"/>
<line x1="594.20" y1="228.57" x2="598.20" y2="228.57" stroke="#111" stroke-width="0.8"/>
<line x1="594.20" y1="322.38" x2="598.20" y2="322.38" stroke="#111" stroke-width="0.8"/>
<rect x="595.70" y="210.78" width="1" height="1" fill="#222"/>
<rect x="595.70" y="274.55" width="1" height="1" fill="#222"/>
<rect x="595.70" y="322.73" width="1" height="1" fill="#222"/>
<rect x="605.30" y="313.31" width="8.4" height="32.59" fill="#e88930" stroke="#2a2a2a" stroke-width="0.7"/>
<line x1="609.50" y1="304.81" x2="609.50" y2="317.56" stroke="#111" stroke-width="0.8"/>
<line x1="607.50" y1="304.81" x2="611.50" y2="304.81" stroke="#111" stroke-width="0.8"/>
<line x1="607.50" y1="317.56" x2="611.50" y2="317.56" stroke="#111" stroke-width="0.8"/>
<rect x="609.00" y="300.06" width="1" height="1" fill="#222"/>
<rect x="609.00" y="311.39" width="1" height="1" fill="#222"/>
<rect x="609.00" y="317.06" width="1" height="1" fill="#222"/>
<rect x="618.60" y="329.32" width="8.4" height="16.58" fill="#5cae48" stroke="#2a2a2a" stroke-width="0.7"/>
<line x1="622.80" y1="325.35" x2="622.80" y2="333.15" stroke="#111" stroke-width="0.8"/>
<line x1="620.80" y1="325.35" x2="624.80" y2="325.35" stroke="#111" stroke-width="0.8"/>
<line x1="620.80" y1="333.15" x2="624.80" y2="333.15" stroke="#111" stroke-width="0.8"/>
<rect x="622.30" y="325.56" width="1" height="1" fill="#222"/>
<rect x="622.30" y="329.81" width="1" height="1" fill="#222"/>
<rect x="622.30" y="332.65" width="1" height="1" fill="#222"/>
<line x1="657.8" y1="345.9" x2="657.8" y2="349.5" stroke="#555" stroke-width="0.9"/>
<rect x="640.30" y="301.55" width="8.4" height="44.35" fill="#2f7dc8" stroke="#2a2a2a" stroke-width="0.7"/>
<line x1="644.50" y1="282.13" x2="644.50" y2="321.81" stroke="#111" stroke-width="0.8"/>
<line x1="642.50" y1="282.13" x2="646.50" y2="282.13" stroke="#111" stroke-width="0.8"/>
<line x1="642.50" y1="321.81" x2="646.50" y2="321.81" stroke="#111" stroke-width="0.8"/>
<rect x="644.00" y="274.55" width="1" height="1" fill="#222"/>
<rect x="644.00" y="302.89" width="1" height="1" fill="#222"/>
<rect x="644.00" y="318.48" width="1" height="1" fill="#222"/>
<rect x="653.60" y="310.33" width="8.4" height="35.57" fill="#e88930" stroke="#2a2a2a" stroke-width="0.7"/>
<line x1="657.80" y1="301.97" x2="657.80" y2="317.56" stroke="#111" stroke-width="0.8"/>
<line x1="655.80" y1="301.97" x2="659.80" y2="301.97" stroke="#111" stroke-width="0.8"/>
<line x1="655.80" y1="317.56" x2="659.80" y2="317.56" stroke="#111" stroke-width="0.8"/>
<rect x="657.30" y="300.06" width="1" height="1" fill="#222"/>
<rect x="657.30" y="308.56" width="1" height="1" fill="#222"/>
<rect x="657.30" y="318.48" width="1" height="1" fill="#222"/>
<rect x="666.90" y="337.11" width="8.4" height="8.79" fill="#5cae48" stroke="#2a2a2a" stroke-width="0.7"/>
<line x1="671.10" y1="335.27" x2="671.10" y2="338.81" stroke="#111" stroke-width="0.8"/>
<line x1="669.10" y1="335.27" x2="673.10" y2="335.27" stroke="#111" stroke-width="0.8"/>
<line x1="669.10" y1="338.81" x2="673.10" y2="338.81" stroke="#111" stroke-width="0.8"/>
<rect x="670.60" y="334.06" width="1" height="1" fill="#222"/>
<rect x="670.60" y="336.90" width="1" height="1" fill="#222"/>
<rect x="670.60" y="338.31" width="1" height="1" fill="#222"/>
<path d="M495.6,246.8 L495.6,244.6 L530.7,244.6 L530.7,246.8" fill="none" stroke="#444" stroke-width="0.8"/>
<text x="513.2" y="242.2" font-size="7" text-anchor="middle" fill="#333" font-style="italic">p=0.002</text>
<path d="M495.6,258.5 L495.6,256.3 L517.5,256.3 L517.5,258.5" fill="none" stroke="#444" stroke-width="0.8"/>
<text x="506.6" y="253.9" font-size="7" text-anchor="middle" fill="#333" font-style="italic">n.s.</text>
<path d="M508.4,278.7 L508.4,276.5 L530.7,276.5 L530.7,278.7" fill="none" stroke="#444" stroke-width="0.8"/>
<text x="519.5" y="274.1" font-size="7" text-anchor="middle" fill="#333" font-style="italic">p=0.003</text>
<path d="M543.5,221.7 L543.5,219.5 L578.6,219.5 L578.6,221.7" fill="none" stroke="#444" stroke-width="0.8"/>
<text x="561.0" y="217.1" font-size="7" text-anchor="middle" fill="#333" font-style="italic">p=0.003</text>
<path d="M543.5,234.0 L543.5,231.8 L565.7,231.8 L565.7,234.0" fill="none" stroke="#444" stroke-width="0.8"/>
<text x="554.6" y="229.4" font-size="7" text-anchor="middle" fill="#333" font-style="italic">0.035</text>
<path d="M555.8,284.8 L555.8,282.6 L578.6,282.6 L578.6,284.8" fill="none" stroke="#444" stroke-width="0.8"/>
<text x="567.2" y="280.2" font-size="7" text-anchor="middle" fill="#333" font-style="italic">p=0.001</text>
<path d="M591.5,205.6 L591.5,203.4 L619.5,203.4 L619.5,205.6" fill="none" stroke="#444" stroke-width="0.8"/>
<text x="605.5" y="201.0" font-size="7" text-anchor="middle" fill="#333" font-style="italic">n.s.</text>
<path d="M591.5,217.7 L591.5,215.5 L614.5,215.5 L614.5,217.7" fill="none" stroke="#444" stroke-width="0.8"/>
<text x="603.0" y="213.1" font-size="7" text-anchor="middle" fill="#333" font-style="italic">n.s.</text>
<path d="M605.3,294.5 L605.3,292.3 L627.1,292.3 L627.1,294.5" fill="none" stroke="#444" stroke-width="0.8"/>
<text x="616.2" y="289.9" font-size="7" text-anchor="middle" fill="#333" font-style="italic">p=0.031</text>
<path d="M640.5,257.1 L640.5,254.9 L675.8,254.9 L675.8,257.1" fill="none" stroke="#444" stroke-width="0.8"/>
<text x="658.1" y="252.5" font-size="7" text-anchor="middle" fill="#333" font-style="italic">p=0.032</text>
<path d="M640.5,268.5 L640.5,266.3 L662.3,266.3 L662.3,268.5" fill="none" stroke="#444" stroke-width="0.8"/>
<text x="651.4" y="263.9" font-size="7" text-anchor="middle" fill="#333" font-style="italic">n.s.</text>
<path d="M653.4,289.2 L653.4,287.0 L675.8,287.0 L675.8,289.2" fill="none" stroke="#444" stroke-width="0.8"/>
<text x="664.6" y="284.6" font-size="7" text-anchor="middle" fill="#333" font-style="italic">p=0.004</text>
<rect x="623.4" y="207.6" width="12.4" height="4.8" fill="#2f7dc8" stroke="#2a2a2a" stroke-width="0.6"/>
<text x="639.7" y="212.9" font-size="9.5" text-anchor="start" fill="#222" >UMBS-seq</text>
<rect x="623.4" y="219.3" width="12.4" height="4.8" fill="#e88930" stroke="#2a2a2a" stroke-width="0.6"/>
<text x="639.7" y="224.9" font-size="9.5" text-anchor="start" fill="#222" >EM-seq</text>
<rect x="623.4" y="231.4" width="12.4" height="4.8" fill="#5cae48" stroke="#2a2a2a" stroke-width="0.6"/>
<text x="639.7" y="236.7" font-size="9.5" text-anchor="start" fill="#222" >CBS-seq</text>
<text transform="translate(473.6,276.1) rotate(-90)" font-size="9.7" text-anchor="middle" fill="#222">Library concentration (ng/ul)</text>
<text x="497.1" y="359.3" font-size="9.3" text-anchor="end" fill="#222">Input:</text>
<text x="497.1" y="371.8" font-size="9.3" text-anchor="end" fill="#222">PCR cycles:</text>
<text x="512.6" y="359.3" font-size="9.3" text-anchor="middle" fill="#222">5 ng</text>
<text x="512.6" y="371.8" font-size="9.3" text-anchor="middle" fill="#222">7</text>
<text x="561.3" y="359.3" font-size="9.3" text-anchor="middle" fill="#222">500 pg</text>
<text x="561.3" y="371.8" font-size="9.3" text-anchor="middle" fill="#222">11</text>
<text x="609.5" y="359.3" font-size="9.3" text-anchor="middle" fill="#222">50 pg</text>
<text x="609.5" y="371.8" font-size="9.3" text-anchor="middle" fill="#222">15</text>
<text x="657.8" y="359.3" font-size="9.3" text-anchor="middle" fill="#222">10 pg</text>
<text x="657.8" y="371.8" font-size="9.3" text-anchor="middle" fill="#222">17</text>
<text x="454.8" y="394.7" font-size="11.5" fill="#222">e</text>
<line x1="491.2" y1="396.4" x2="491.2" y2="539.0" stroke="#555" stroke-width="1.15"/>
<line x1="490.7" y1="538.6" x2="680" y2="538.6" stroke="#555" stroke-width="1"/>
<line x1="488.0" y1="538.6" x2="491.2" y2="538.6" stroke="#555" stroke-width="0.9"/>
<text x="486.0" y="541.5" font-size="8.2" text-anchor="end" fill="#222" >0</text>
<line x1="488.0" y1="503.1" x2="491.2" y2="503.1" stroke="#555" stroke-width="0.9"/>
<text x="486.0" y="506.0" font-size="8.2" text-anchor="end" fill="#222" >20</text>
<line x1="488.0" y1="467.5" x2="491.2" y2="467.5" stroke="#555" stroke-width="0.9"/>
<text x="486.0" y="470.4" font-size="8.2" text-anchor="end" fill="#222" >40</text>
<line x1="488.0" y1="432.0" x2="491.2" y2="432.0" stroke="#555" stroke-width="0.9"/>
<text x="486.0" y="434.9" font-size="8.2" text-anchor="end" fill="#222" >60</text>
<line x1="488.0" y1="396.4" x2="491.2" y2="396.4" stroke="#555" stroke-width="0.9"/>
<text x="486.0" y="399.3" font-size="8.2" text-anchor="end" fill="#222" >80</text>
<line x1="512.9" y1="538.6" x2="512.9" y2="542.2" stroke="#555" stroke-width="0.9"/>
<rect x="495.40" y="500.39" width="8.4" height="38.21" fill="#2f7dc8" stroke="#2a2a2a" stroke-width="0.7"/>
<line x1="499.60" y1="498.62" x2="499.60" y2="502.17" stroke="#111" stroke-width="0.8"/>
<line x1="497.60" y1="498.62" x2="501.60" y2="498.62" stroke="#111" stroke-width="0.8"/>
<line x1="497.60" y1="502.17" x2="501.60" y2="502.17" stroke="#111" stroke-width="0.8"/>
<rect x="499.10" y="500.78" width="1" height="1" fill="#222"/>
<rect x="499.10" y="499.01" width="1" height="1" fill="#222"/>
<rect x="499.10" y="499.36" width="1" height="1" fill="#222"/>
<rect x="508.70" y="499.51" width="8.4" height="39.09" fill="#e88930" stroke="#2a2a2a" stroke-width="0.7"/>
<line x1="512.90" y1="497.20" x2="512.90" y2="501.28" stroke="#111" stroke-width="0.8"/>
<line x1="510.90" y1="497.20" x2="514.90" y2="497.20" stroke="#111" stroke-width="0.8"/>
<line x1="510.90" y1="501.28" x2="514.90" y2="501.28" stroke="#111" stroke-width="0.8"/>
<rect x="512.40" y="499.89" width="1" height="1" fill="#222"/>
<rect x="512.40" y="497.23" width="1" height="1" fill="#222"/>
<rect x="512.40" y="499.01" width="1" height="1" fill="#222"/>
<rect x="522.00" y="490.27" width="8.4" height="48.33" fill="#5cae48" stroke="#2a2a2a" stroke-width="0.7"/>
<line x1="526.20" y1="487.07" x2="526.20" y2="493.29" stroke="#111" stroke-width="0.8"/>
<line x1="524.20" y1="487.07" x2="528.20" y2="487.07" stroke="#111" stroke-width="0.8"/>
<line x1="524.20" y1="493.29" x2="528.20" y2="493.29" stroke="#111" stroke-width="0.8"/>
<rect x="525.70" y="491.90" width="1" height="1" fill="#222"/>
<rect x="525.70" y="487.46" width="1" height="1" fill="#222"/>
<rect x="525.70" y="490.12" width="1" height="1" fill="#222"/>
<line x1="561.1" y1="538.6" x2="561.1" y2="542.2" stroke="#555" stroke-width="0.9"/>
<rect x="543.60" y="500.39" width="8.4" height="38.21" fill="#2f7dc8" stroke="#2a2a2a" stroke-width="0.7"/>
<line x1="547.80" y1="498.08" x2="547.80" y2="502.17" stroke="#111" stroke-width="0.8"/>
<line x1="545.80" y1="498.08" x2="549.80" y2="498.08" stroke="#111" stroke-width="0.8"/>
<line x1="545.80" y1="502.17" x2="549.80" y2="502.17" stroke="#111" stroke-width="0.8"/>
<rect x="547.30" y="500.78" width="1" height="1" fill="#222"/>
<rect x="547.30" y="499.01" width="1" height="1" fill="#222"/>
<rect x="547.30" y="500.25" width="1" height="1" fill="#222"/>
<rect x="556.90" y="498.62" width="8.4" height="39.98" fill="#e88930" stroke="#2a2a2a" stroke-width="0.7"/>
<line x1="561.10" y1="495.06" x2="561.10" y2="502.17" stroke="#111" stroke-width="0.8"/>
<line x1="559.10" y1="495.06" x2="563.10" y2="495.06" stroke="#111" stroke-width="0.8"/>
<line x1="559.10" y1="502.17" x2="563.10" y2="502.17" stroke="#111" stroke-width="0.8"/>
<rect x="560.60" y="500.78" width="1" height="1" fill="#222"/>
<rect x="560.60" y="495.45" width="1" height="1" fill="#222"/>
<rect x="560.60" y="498.12" width="1" height="1" fill="#222"/>
<rect x="570.20" y="476.76" width="8.4" height="61.84" fill="#5cae48" stroke="#2a2a2a" stroke-width="0.7"/>
<line x1="574.40" y1="471.07" x2="574.40" y2="481.74" stroke="#111" stroke-width="0.8"/>
<line x1="572.40" y1="471.07" x2="576.40" y2="471.07" stroke="#111" stroke-width="0.8"/>
<line x1="572.40" y1="481.74" x2="576.40" y2="481.74" stroke="#111" stroke-width="0.8"/>
<rect x="573.90" y="479.46" width="1" height="1" fill="#222"/>
<rect x="573.90" y="472.35" width="1" height="1" fill="#222"/>
<rect x="573.90" y="475.91" width="1" height="1" fill="#222"/>
<line x1="609.4" y1="538.6" x2="609.4" y2="542.2" stroke="#555" stroke-width="0.9"/>
<rect x="591.90" y="494.71" width="8.4" height="43.89" fill="#2f7dc8" stroke="#2a2a2a" stroke-width="0.7"/>
<line x1="596.10" y1="489.73" x2="596.10" y2="500.39" stroke="#111" stroke-width="0.8"/>
<line x1="594.10" y1="489.73" x2="598.10" y2="489.73" stroke="#111" stroke-width="0.8"/>
<line x1="594.10" y1="500.39" x2="598.10" y2="500.39" stroke="#111" stroke-width="0.8"/>
<rect x="595.60" y="497.23" width="1" height="1" fill="#222"/>
<rect x="595.60" y="490.12" width="1" height="1" fill="#222"/>
<rect x="595.60" y="495.45" width="1" height="1" fill="#222"/>
<rect x="605.20" y="486.36" width="8.4" height="52.24" fill="#e88930" stroke="#2a2a2a" stroke-width="0.7"/>
<line x1="609.40" y1="484.93" x2="609.40" y2="487.42" stroke="#111" stroke-width="0.8"/>
<line x1="607.40" y1="484.93" x2="611.40" y2="484.93" stroke="#111" stroke-width="0.8"/>
<line x1="607.40" y1="487.42" x2="611.40" y2="487.42" stroke="#111" stroke-width="0.8"/>
<rect x="608.90" y="486.57" width="1" height="1" fill="#222"/>
<rect x="608.90" y="484.79" width="1" height="1" fill="#222"/>
<rect x="608.90" y="485.68" width="1" height="1" fill="#222"/>
<rect x="618.50" y="471.43" width="8.4" height="67.17" fill="#5cae48" stroke="#2a2a2a" stroke-width="0.7"/>
<line x1="622.70" y1="463.97" x2="622.70" y2="477.29" stroke="#111" stroke-width="0.8"/>
<line x1="620.70" y1="463.97" x2="624.70" y2="463.97" stroke="#111" stroke-width="0.8"/>
<line x1="620.70" y1="477.29" x2="624.70" y2="477.29" stroke="#111" stroke-width="0.8"/>
<rect x="622.20" y="475.91" width="1" height="1" fill="#222"/>
<rect x="622.20" y="465.24" width="1" height="1" fill="#222"/>
<rect x="622.20" y="470.57" width="1" height="1" fill="#222"/>
<line x1="657.9" y1="538.6" x2="657.9" y2="542.2" stroke="#555" stroke-width="0.9"/>
<rect x="640.40" y="482.45" width="8.4" height="56.15" fill="#2f7dc8" stroke="#2a2a2a" stroke-width="0.7"/>
<line x1="644.60" y1="477.29" x2="644.60" y2="487.96" stroke="#111" stroke-width="0.8"/>
<line x1="642.60" y1="477.29" x2="646.60" y2="477.29" stroke="#111" stroke-width="0.8"/>
<line x1="642.60" y1="487.96" x2="646.60" y2="487.96" stroke="#111" stroke-width="0.8"/>
<rect x="644.10" y="486.57" width="1" height="1" fill="#222"/>
<rect x="644.10" y="479.46" width="1" height="1" fill="#222"/>
<rect x="644.10" y="484.79" width="1" height="1" fill="#222"/>
<rect x="653.70" y="461.48" width="8.4" height="77.12" fill="#e88930" stroke="#2a2a2a" stroke-width="0.7"/>
<line x1="657.90" y1="456.86" x2="657.90" y2="464.85" stroke="#111" stroke-width="0.8"/>
<line x1="655.90" y1="456.86" x2="659.90" y2="456.86" stroke="#111" stroke-width="0.8"/>
<line x1="655.90" y1="464.85" x2="659.90" y2="464.85" stroke="#111" stroke-width="0.8"/>
<rect x="657.40" y="463.47" width="1" height="1" fill="#222"/>
<rect x="657.40" y="458.14" width="1" height="1" fill="#222"/>
<rect x="657.40" y="461.69" width="1" height="1" fill="#222"/>
<rect x="667.00" y="414.21" width="8.4" height="124.39" fill="#5cae48" stroke="#2a2a2a" stroke-width="0.7"/>
<line x1="671.20" y1="400.70" x2="671.20" y2="427.36" stroke="#111" stroke-width="0.8"/>
<line x1="669.20" y1="400.70" x2="673.20" y2="400.70" stroke="#111" stroke-width="0.8"/>
<line x1="669.20" y1="427.36" x2="673.20" y2="427.36" stroke="#111" stroke-width="0.8"/>
<rect x="670.70" y="426.15" width="1" height="1" fill="#222"/>
<rect x="670.70" y="403.05" width="1" height="1" fill="#222"/>
<rect x="670.70" y="413.71" width="1" height="1" fill="#222"/>
<path d="M495.6,466.7 L495.6,464.5 L530.5,464.5 L530.5,466.7" fill="none" stroke="#444" stroke-width="0.8"/>
<text x="513.0" y="462.1" font-size="7" text-anchor="middle" fill="#333" font-style="italic">p=0.005</text>
<path d="M508.4,479.0 L508.4,476.8 L530.5,476.8 L530.5,479.0" fill="none" stroke="#444" stroke-width="0.8"/>
<text x="519.5" y="474.4" font-size="7" text-anchor="middle" fill="#333" font-style="italic">p=0.007</text>
<path d="M495.6,488.6 L495.6,486.4 L517.5,486.4 L517.5,488.6" fill="none" stroke="#444" stroke-width="0.8"/>
<text x="506.6" y="484.0" font-size="7" text-anchor="middle" fill="#333" font-style="italic">n.s.</text>
<path d="M543.5,450.1 L543.5,447.9 L578.7,447.9 L578.7,450.1" fill="none" stroke="#444" stroke-width="0.8"/>
<text x="561.1" y="445.5" font-size="7" text-anchor="middle" fill="#333" font-style="italic">p=0.002</text>
<path d="M556.3,462.9 L556.3,460.7 L578.7,460.7 L578.7,462.9" fill="none" stroke="#444" stroke-width="0.8"/>
<text x="567.5" y="458.3" font-size="7" text-anchor="middle" fill="#333" font-style="italic">p=0.003</text>
<path d="M543.5,489.2 L543.5,487.0 L565.4,487.0 L565.4,489.2" fill="none" stroke="#444" stroke-width="0.8"/>
<text x="554.5" y="484.6" font-size="7" text-anchor="middle" fill="#333" font-style="italic">n.s.</text>
<path d="M591.3,445.8 L591.3,443.6 L626.7,443.6 L626.7,445.8" fill="none" stroke="#444" stroke-width="0.8"/>
<text x="609.0" y="441.2" font-size="7" text-anchor="middle" fill="#333" font-style="italic">p=0.006</text>
<path d="M604.4,458.0 L604.4,455.8 L626.7,455.8 L626.7,458.0" fill="none" stroke="#444" stroke-width="0.8"/>
<text x="615.5" y="453.4" font-size="7" text-anchor="middle" fill="#333" font-style="italic">p=0.012</text>
<path d="M592.5,478.1 L592.5,475.9 L614.0,475.9 L614.0,478.1" fill="none" stroke="#444" stroke-width="0.8"/>
<text x="603.2" y="473.5" font-size="7" text-anchor="middle" fill="#333" font-style="italic">p=0.034</text>
<path d="M640.3,384.5 L640.3,382.3 L675.7,382.3 L675.7,384.5" fill="none" stroke="#444" stroke-width="0.8"/>
<text x="658.0" y="379.9" font-size="7" text-anchor="middle" fill="#333" font-style="italic">p=0.001</text>
<path d="M653.1,394.6 L653.1,392.4 L675.7,392.4 L675.7,394.6" fill="none" stroke="#444" stroke-width="0.8"/>
<text x="664.4" y="390.0" font-size="7" text-anchor="middle" fill="#333" font-style="italic">p=0.004</text>
<path d="M640.3,450.7 L640.3,448.5 L662.6,448.5 L662.6,450.7" fill="none" stroke="#444" stroke-width="0.8"/>
<text x="651.5" y="446.1" font-size="7" text-anchor="middle" fill="#333" font-style="italic">p=0.005</text>
<rect x="501.1" y="399.8" width="12.9" height="4.8" fill="#2f7dc8" stroke="#2a2a2a" stroke-width="0.6"/>
<text x="518.1" y="405.9" font-size="9.5" text-anchor="start" fill="#222" >UMBS-seq</text>
<rect x="501.1" y="414.2" width="12.9" height="4.8" fill="#e88930" stroke="#2a2a2a" stroke-width="0.6"/>
<text x="518.1" y="419.4" font-size="9.5" text-anchor="start" fill="#222" >EM-seq</text>
<rect x="501.1" y="427.7" width="12.9" height="4.8" fill="#5cae48" stroke="#2a2a2a" stroke-width="0.6"/>
<text x="518.1" y="433.4" font-size="9.5" text-anchor="start" fill="#222" >CBS-seq</text>
<text transform="translate(470.0,467.8) rotate(-90)" font-size="9.7" text-anchor="middle" fill="#222">Duplication rate (%)</text>
<text x="512.9" y="553.4" font-size="9.3" text-anchor="middle" fill="#222">5 ng</text>
<text x="561.1" y="553.4" font-size="9.3" text-anchor="middle" fill="#222">500 pg</text>
<text x="609.4" y="553.4" font-size="9.3" text-anchor="middle" fill="#222">50 pg</text>
<text x="657.9" y="553.4" font-size="9.3" text-anchor="middle" fill="#222">10 pg</text>
<text x="585.5" y="564.2" font-size="9.5" text-anchor="middle" fill="#222">DNA Input</text>
<text x="454.9" y="572.4" font-size="11.5" text-anchor="start" fill="#222" >f</text>
<line x1="491.9" y1="571.5" x2="491.9" y2="713.4" stroke="#555" stroke-width="1"/>
<line x1="491.9" y1="713.4" x2="681.4" y2="713.4" stroke="#555" stroke-width="1"/>
<line x1="488.9" y1="707.1" x2="491.9" y2="707.1" stroke="#555" stroke-width="0.9"/>
<text x="487.6" y="710.1" font-size="8.3" text-anchor="end" fill="#222" >0</text>
<line x1="488.9" y1="664.2" x2="491.9" y2="664.2" stroke="#555" stroke-width="0.9"/>
<text x="487.6" y="667.2" font-size="8.3" text-anchor="end" fill="#222" >2</text>
<line x1="488.9" y1="621.4" x2="491.9" y2="621.4" stroke="#555" stroke-width="0.9"/>
<text x="487.6" y="624.4" font-size="8.3" text-anchor="end" fill="#222" >4</text>
<line x1="488.9" y1="578.5" x2="491.9" y2="578.5" stroke="#555" stroke-width="0.9"/>
<text x="487.6" y="581.5" font-size="8.3" text-anchor="end" fill="#222" >6</text>
<text x="488.7" y="572.4" font-size="5.6" text-anchor="end" fill="#222" >10^-3</text>
<line x1="500.6" y1="713.4" x2="500.6" y2="716.8" stroke="#555" stroke-width="0.9"/>
<text x="500.6" y="726.9" font-size="8.3" text-anchor="middle" fill="#222" >0</text>
<line x1="558.5" y1="713.4" x2="558.5" y2="716.8" stroke="#555" stroke-width="0.9"/>
<text x="558.5" y="726.9" font-size="8.3" text-anchor="middle" fill="#222" >200</text>
<line x1="616.3" y1="713.4" x2="616.3" y2="716.8" stroke="#555" stroke-width="0.9"/>
<text x="616.3" y="726.9" font-size="8.3" text-anchor="middle" fill="#222" >400</text>
<line x1="674.2" y1="713.4" x2="674.2" y2="716.8" stroke="#555" stroke-width="0.9"/>
<text x="674.2" y="726.9" font-size="8.3" text-anchor="middle" fill="#222" >600</text>
<text x="586.0" y="735.9" font-size="9.5" text-anchor="middle" fill="#222" >DNA Insert (bp)</text>
<text transform="translate(476.6,642.8) rotate(-90)" font-size="9.5" text-anchor="middle" fill="#222">Density</text>
<path d="M500.60,707.10 C503.00,707.03 510.93,706.89 515.00,706.67 C519.07,706.46 522.17,706.28 525.00,705.81 C527.83,705.35 530.17,704.92 532.00,703.89 C533.83,702.85 534.67,701.56 536.00,699.60 C537.33,697.64 538.75,695.67 540.00,692.10 C541.25,688.53 542.35,683.17 543.50,678.17 C544.65,673.17 545.68,669.78 546.90,662.10 C548.12,654.42 549.70,639.42 550.80,632.10 C551.90,624.77 552.60,622.09 553.50,618.17 C554.40,614.24 555.12,611.27 556.20,608.52 C557.28,605.77 558.33,603.41 560.00,601.66 C561.67,599.91 564.53,598.38 566.20,598.02 C567.87,597.66 568.53,598.13 570.00,599.52 C571.47,600.91 573.50,603.81 575.00,606.38 C576.50,608.95 577.33,611.74 579.00,614.95 C580.67,618.17 582.83,622.17 585.00,625.67 C587.17,629.17 589.50,632.10 592.00,635.95 C594.50,639.81 597.33,644.74 600.00,648.81 C602.67,652.88 605.33,656.81 608.00,660.38 C610.67,663.95 613.17,667.17 616.00,670.24 C618.83,673.31 622.00,676.17 625.00,678.81 C628.00,681.46 631.25,684.17 634.00,686.10 C636.75,688.03 639.92,689.03 641.50,690.38 C643.08,691.74 642.83,692.53 643.50,694.24 C644.17,695.96 644.92,698.56 645.50,700.67 C646.08,702.78 642.42,705.81 647.00,706.89 C651.58,707.96 668.67,707.06 673.00,707.10 L673.0,707.1 L500.6,707.1 Z" fill="#e88930" fill-opacity="1" stroke="#666" stroke-width="0.75"/>
<path d="M500.60,707.10 C503.00,707.03 510.93,706.89 515.00,706.67 C519.07,706.46 522.17,706.28 525.00,705.81 C527.83,705.35 530.17,704.92 532.00,703.89 C533.83,702.85 534.67,701.56 536.00,699.60 C537.33,697.64 538.75,695.67 540.00,692.10 C541.25,688.53 542.35,683.17 543.50,678.17 C544.65,673.17 545.68,669.78 546.90,662.10 C548.12,654.42 549.70,639.42 550.80,632.10 C551.90,624.77 552.60,622.09 553.50,618.17 C554.40,614.24 555.12,611.27 556.20,608.52 C557.28,605.77 558.33,603.41 560.00,601.66 C561.67,599.91 564.53,598.38 566.20,598.02 C567.87,597.66 568.53,598.13 570.00,599.52 C571.47,600.91 573.50,603.81 575.00,606.38 C576.50,608.95 577.33,611.74 579.00,614.95 C580.67,618.17 582.83,621.81 585.00,625.67 C587.17,629.52 589.50,633.88 592.00,638.10 C594.50,642.31 597.33,646.88 600.00,650.95 C602.67,655.03 605.33,658.95 608.00,662.53 C610.67,666.10 613.17,669.31 616.00,672.38 C618.83,675.46 622.00,678.31 625.00,680.96 C628.00,683.60 631.25,686.31 634.00,688.24 C636.75,690.17 639.92,691.17 641.50,692.53 C643.08,693.88 642.83,694.67 643.50,696.38 C644.17,698.10 644.92,701.06 645.50,702.81 C646.08,704.56 642.42,706.17 647.00,706.89 C651.58,707.60 668.67,707.06 673.00,707.10 L673.0,707.1 L500.6,707.1 Z" fill="#8e9ca6" fill-opacity="1" stroke="#557f85" stroke-width="0.75"/>
<path d="M500.60,707.10 C502.17,707.03 506.77,706.96 510.00,706.67 C513.23,706.39 517.33,706.03 520.00,705.39 C522.67,704.74 524.42,703.96 526.00,702.81 C527.58,701.67 528.45,700.14 529.50,698.53 C530.55,696.92 531.50,694.53 532.30,693.17 C533.10,691.81 533.60,691.99 534.30,690.38 C535.00,688.78 535.77,686.28 536.50,683.53 C537.23,680.78 537.98,677.42 538.70,673.88 C539.42,670.35 540.00,666.78 540.80,662.31 C541.60,657.85 542.60,652.24 543.50,647.10 C544.40,641.95 545.28,636.81 546.20,631.45 C547.12,626.09 548.12,620.06 549.00,614.95 C549.88,609.84 550.50,605.45 551.50,600.81 C552.50,596.16 553.92,590.63 555.00,587.09 C556.08,583.56 557.03,581.16 558.00,579.59 C558.97,578.02 559.97,577.66 560.80,577.66 C561.63,577.66 562.13,578.38 563.00,579.59 C563.87,580.81 564.83,582.27 566.00,584.95 C567.17,587.63 568.50,591.74 570.00,595.66 C571.50,599.59 573.50,604.95 575.00,608.52 C576.50,612.09 577.33,612.99 579.00,617.09 C580.67,621.20 582.83,627.45 585.00,633.17 C587.17,638.88 589.50,645.67 592.00,651.38 C594.50,657.10 597.33,662.63 600.00,667.45 C602.67,672.28 605.33,676.56 608.00,680.31 C610.67,684.06 613.17,687.21 616.00,689.96 C618.83,692.71 621.83,694.74 625.00,696.81 C628.17,698.89 632.00,700.85 635.00,702.39 C638.00,703.92 641.00,705.24 643.00,706.03 C645.00,706.81 642.00,706.92 647.00,707.10 C652.00,707.28 668.67,707.10 673.00,707.10 L673.0,707.1 L500.6,707.1 Z" fill="#51a539" fill-opacity="0.5" stroke="#666" stroke-width="0.75"/>
<line x1="571.3" y1="571" x2="571.3" y2="712.9" stroke="#5cb046" stroke-width="1.3"/>
<line x1="580.6" y1="571" x2="580.6" y2="712.9" stroke="#2f7dc8" stroke-width="1.3"/>
<line x1="582.1" y1="571" x2="582.1" y2="712.9" stroke="#e88930" stroke-width="1.3"/>
<rect x="608.2" y="579.5" width="13.3" height="3.8" fill="#2f7dc8" stroke="#333" stroke-width="0.6"/>
<text x="625.7" y="584.3" font-size="8.8" text-anchor="start" fill="#222" >UMBS-seq</text>
<rect x="608.2" y="591.8" width="13.3" height="3.8" fill="#e88930" stroke="#333" stroke-width="0.6"/>
<text x="625.7" y="596.4" font-size="8.8" text-anchor="start" fill="#222" >EM-seq</text>
<rect x="608.2" y="603.8" width="13.3" height="3.8" fill="#5cae48" stroke="#333" stroke-width="0.6"/>
<text x="625.7" y="609.1" font-size="8.8" text-anchor="start" fill="#222" >CBS-seq</text>
<text x="3" y="732.5" font-size="11.5" fill="#222">g</text>
<line x1="42.1" y1="739.9" x2="42.1" y2="881.9" stroke="#555" stroke-width="1.15"/>
<line x1="41.6" y1="881.5" x2="232" y2="881.5" stroke="#555" stroke-width="1"/>
<line x1="38.9" y1="881.5" x2="42.1" y2="881.5" stroke="#555" stroke-width="0.9"/>
<text x="36.3" y="884.4" font-size="7.8" text-anchor="end" fill="#222" >0.0</text>
<line x1="38.9" y1="834.3" x2="42.1" y2="834.3" stroke="#555" stroke-width="0.9"/>
<text x="36.3" y="837.2" font-size="7.8" text-anchor="end" fill="#222" >0.5</text>
<line x1="38.9" y1="787.1" x2="42.1" y2="787.1" stroke="#555" stroke-width="0.9"/>
<text x="36.3" y="790.0" font-size="7.8" text-anchor="end" fill="#222" >1.0</text>
<line x1="38.9" y1="739.9" x2="42.1" y2="739.9" stroke="#555" stroke-width="0.9"/>
<text x="36.3" y="742.8" font-size="7.8" text-anchor="end" fill="#222" >1.5</text>
<line x1="64.6" y1="881.5" x2="64.6" y2="885.1" stroke="#555" stroke-width="0.9"/>
<rect x="47.30" y="872.06" width="8.4" height="9.44" fill="#2f7dc8" stroke="#2a2a2a" stroke-width="0.7"/>
<line x1="51.50" y1="871.68" x2="51.50" y2="872.06" stroke="#111" stroke-width="0.8"/>
<line x1="49.50" y1="871.68" x2="53.50" y2="871.68" stroke="#111" stroke-width="0.8"/>
<line x1="49.50" y1="872.06" x2="53.50" y2="872.06" stroke="#111" stroke-width="0.8"/>
<rect x="60.40" y="843.74" width="8.4" height="37.76" fill="#e88930" stroke="#2a2a2a" stroke-width="0.7"/>
<line x1="64.60" y1="830.52" x2="64.60" y2="856.96" stroke="#111" stroke-width="0.8"/>
<line x1="62.60" y1="830.52" x2="66.60" y2="830.52" stroke="#111" stroke-width="0.8"/>
<line x1="62.60" y1="856.96" x2="66.60" y2="856.96" stroke="#111" stroke-width="0.8"/>
<rect x="64.10" y="822.47" width="1" height="1" fill="#222"/>
<rect x="64.10" y="849.85" width="1" height="1" fill="#222"/>
<rect x="64.10" y="856.46" width="1" height="1" fill="#222"/>
<rect x="73.50" y="843.74" width="8.4" height="37.76" fill="#5cae48" stroke="#2a2a2a" stroke-width="0.7"/>
<line x1="77.70" y1="843.36" x2="77.70" y2="843.74" stroke="#111" stroke-width="0.8"/>
<line x1="75.70" y1="843.36" x2="79.70" y2="843.36" stroke="#111" stroke-width="0.8"/>
<line x1="75.70" y1="843.74" x2="79.70" y2="843.74" stroke="#111" stroke-width="0.8"/>
<line x1="112.9" y1="881.5" x2="112.9" y2="885.1" stroke="#555" stroke-width="0.9"/>
<rect x="95.60" y="872.06" width="8.4" height="9.44" fill="#2f7dc8" stroke="#2a2a2a" stroke-width="0.7"/>
<line x1="99.80" y1="871.68" x2="99.80" y2="872.06" stroke="#111" stroke-width="0.8"/>
<line x1="97.80" y1="871.68" x2="101.80" y2="871.68" stroke="#111" stroke-width="0.8"/>
<line x1="97.80" y1="872.06" x2="101.80" y2="872.06" stroke="#111" stroke-width="0.8"/>
<rect x="108.70" y="835.24" width="8.4" height="46.26" fill="#e88930" stroke="#2a2a2a" stroke-width="0.7"/>
<line x1="112.90" y1="826.75" x2="112.90" y2="841.85" stroke="#111" stroke-width="0.8"/>
<line x1="110.90" y1="826.75" x2="114.90" y2="826.75" stroke="#111" stroke-width="0.8"/>
<line x1="110.90" y1="841.85" x2="114.90" y2="841.85" stroke="#111" stroke-width="0.8"/>
<rect x="112.40" y="821.53" width="1" height="1" fill="#222"/>
<rect x="112.40" y="833.80" width="1" height="1" fill="#222"/>
<rect x="112.40" y="846.07" width="1" height="1" fill="#222"/>
<rect x="121.80" y="843.74" width="8.4" height="37.76" fill="#5cae48" stroke="#2a2a2a" stroke-width="0.7"/>
<line x1="126.00" y1="843.36" x2="126.00" y2="843.74" stroke="#111" stroke-width="0.8"/>
<line x1="124.00" y1="843.36" x2="128.00" y2="843.36" stroke="#111" stroke-width="0.8"/>
<line x1="124.00" y1="843.74" x2="128.00" y2="843.74" stroke="#111" stroke-width="0.8"/>
<line x1="161.5" y1="881.5" x2="161.5" y2="885.1" stroke="#555" stroke-width="0.9"/>
<rect x="144.20" y="872.06" width="8.4" height="9.44" fill="#2f7dc8" stroke="#2a2a2a" stroke-width="0.7"/>
<line x1="148.40" y1="871.68" x2="148.40" y2="872.06" stroke="#111" stroke-width="0.8"/>
<line x1="146.40" y1="871.68" x2="150.40" y2="871.68" stroke="#111" stroke-width="0.8"/>
<line x1="146.40" y1="872.06" x2="150.40" y2="872.06" stroke="#111" stroke-width="0.8"/>
<rect x="157.30" y="794.27" width="8.4" height="87.23" fill="#e88930" stroke="#2a2a2a" stroke-width="0.7"/>
<line x1="161.50" y1="773.88" x2="161.50" y2="813.06" stroke="#111" stroke-width="0.8"/>
<line x1="159.50" y1="773.88" x2="163.50" y2="773.88" stroke="#111" stroke-width="0.8"/>
<line x1="159.50" y1="813.06" x2="163.50" y2="813.06" stroke="#111" stroke-width="0.8"/>
<rect x="161.00" y="772.44" width="1" height="1" fill="#222"/>
<rect x="161.00" y="793.21" width="1" height="1" fill="#222"/>
<rect x="161.00" y="813.03" width="1" height="1" fill="#222"/>
<rect x="170.40" y="843.74" width="8.4" height="37.76" fill="#5cae48" stroke="#2a2a2a" stroke-width="0.7"/>
<line x1="174.60" y1="843.36" x2="174.60" y2="843.74" stroke="#111" stroke-width="0.8"/>
<line x1="172.60" y1="843.36" x2="176.60" y2="843.36" stroke="#111" stroke-width="0.8"/>
<line x1="172.60" y1="843.74" x2="176.60" y2="843.74" stroke="#111" stroke-width="0.8"/>
<line x1="209.8" y1="881.5" x2="209.8" y2="885.1" stroke="#555" stroke-width="0.9"/>
<rect x="192.50" y="872.06" width="8.4" height="9.44" fill="#2f7dc8" stroke="#2a2a2a" stroke-width="0.7"/>
<line x1="196.70" y1="871.68" x2="196.70" y2="872.06" stroke="#111" stroke-width="0.8"/>
<line x1="194.70" y1="871.68" x2="198.70" y2="871.68" stroke="#111" stroke-width="0.8"/>
<line x1="194.70" y1="872.06" x2="198.70" y2="872.06" stroke="#111" stroke-width="0.8"/>
<rect x="205.60" y="775.77" width="8.4" height="105.73" fill="#e88930" stroke="#2a2a2a" stroke-width="0.7"/>
<line x1="209.80" y1="765.39" x2="209.80" y2="784.74" stroke="#111" stroke-width="0.8"/>
<line x1="207.80" y1="765.39" x2="211.80" y2="765.39" stroke="#111" stroke-width="0.8"/>
<line x1="207.80" y1="784.74" x2="211.80" y2="784.74" stroke="#111" stroke-width="0.8"/>
<rect x="209.30" y="755.45" width="1" height="1" fill="#222"/>
<rect x="209.30" y="779.05" width="1" height="1" fill="#222"/>
<rect x="209.30" y="791.32" width="1" height="1" fill="#222"/>
<rect x="218.70" y="843.74" width="8.4" height="37.76" fill="#5cae48" stroke="#2a2a2a" stroke-width="0.7"/>
<line x1="222.90" y1="843.36" x2="222.90" y2="843.74" stroke="#111" stroke-width="0.8"/>
<line x1="220.90" y1="843.36" x2="224.90" y2="843.36" stroke="#111" stroke-width="0.8"/>
<line x1="220.90" y1="843.74" x2="224.90" y2="843.74" stroke="#111" stroke-width="0.8"/>
<path d="M46.4,798.8 L46.4,796.6 L82.3,796.6 L82.3,798.8" fill="none" stroke="#444" stroke-width="0.8"/>
<text x="64.3" y="794.2" font-size="7" text-anchor="middle" fill="#333" font-style="italic">p=0</text>
<path d="M60.4,809.3 L60.4,807.1 L82.3,807.1 L82.3,809.3" fill="none" stroke="#444" stroke-width="0.8"/>
<text x="71.3" y="804.7" font-size="7" text-anchor="middle" fill="#333" font-style="italic">n.s.</text>
<path d="M47.3,821.2 L47.3,819.0 L69.2,819.0 L69.2,821.2" fill="none" stroke="#444" stroke-width="0.8"/>
<text x="58.2" y="816.6" font-size="7" text-anchor="middle" fill="#333" font-style="italic">p=0.035</text>
<path d="M95.5,793.7 L95.5,791.5 L130.7,791.5 L130.7,793.7" fill="none" stroke="#444" stroke-width="0.8"/>
<text x="113.1" y="789.1" font-size="7" text-anchor="middle" fill="#333" font-style="italic">p=0</text>
<path d="M108.6,803.7 L108.6,801.5 L130.7,801.5 L130.7,803.7" fill="none" stroke="#444" stroke-width="0.8"/>
<text x="119.6" y="799.1" font-size="7" text-anchor="middle" fill="#333" font-style="italic">n.s.</text>
<path d="M95.5,815.9 L95.5,813.7 L117.2,813.7 L117.2,815.9" fill="none" stroke="#444" stroke-width="0.8"/>
<text x="106.3" y="811.3" font-size="7" text-anchor="middle" fill="#333" font-style="italic">p=0.001</text>
<path d="M143.7,743.7 L143.7,741.5 L178.7,741.5 L178.7,743.7" fill="none" stroke="#444" stroke-width="0.8"/>
<text x="161.2" y="739.1" font-size="7" text-anchor="middle" fill="#333" font-style="italic">p=0</text>
<path d="M156.8,754.3 L156.8,752.1 L178.7,752.1 L178.7,754.3" fill="none" stroke="#444" stroke-width="0.8"/>
<text x="167.8" y="749.7" font-size="7" text-anchor="middle" fill="#333" font-style="italic">p=0.03</text>
<path d="M144.2,766.0 L144.2,763.8 L165.9,763.8 L165.9,766.0" fill="none" stroke="#444" stroke-width="0.8"/>
<text x="155.1" y="761.4" font-size="7" text-anchor="middle" fill="#333" font-style="italic">p=0.003</text>
<path d="M191.5,734.1 L191.5,731.9 L227.2,731.9 L227.2,734.1" fill="none" stroke="#444" stroke-width="0.8"/>
<text x="209.3" y="729.5" font-size="7" text-anchor="middle" fill="#333" font-style="italic">p=0</text>
<path d="M205.5,745.5 L205.5,743.3 L227.2,743.3 L227.2,745.5" fill="none" stroke="#444" stroke-width="0.8"/>
<text x="216.3" y="740.9" font-size="7" text-anchor="middle" fill="#333" font-style="italic">p=0.002</text>
<path d="M192.4,756.0 L192.4,753.8 L214.1,753.8 L214.1,756.0" fill="none" stroke="#444" stroke-width="0.8"/>
<text x="203.2" y="751.4" font-size="7" text-anchor="middle" fill="#333" font-style="italic">p&lt;0.0001</text>
<rect x="51.3" y="743.3" width="13.2" height="4.8" fill="#2f7dc8" stroke="#2a2a2a" stroke-width="0.6"/>
<text x="68.3" y="748.9" font-size="9.5" text-anchor="start" fill="#222" >UMBS-seq</text>
<rect x="51.3" y="756.4" width="13.2" height="4.8" fill="#e88930" stroke="#2a2a2a" stroke-width="0.6"/>
<text x="68.3" y="762.6" font-size="9.5" text-anchor="start" fill="#222" >EM-seq</text>
<rect x="51.3" y="770.3" width="13.2" height="4.8" fill="#5cae48" stroke="#2a2a2a" stroke-width="0.6"/>
<text x="68.3" y="776.4" font-size="9.5" text-anchor="start" fill="#222" >CBS-seq</text>
<text transform="translate(21.0,810.0) rotate(-90)" font-size="9.5" text-anchor="middle" fill="#222">Unconverted C (%)</text>
<text x="64.6" y="896.4" font-size="9.3" text-anchor="middle" fill="#222">5 ng</text>
<text x="112.9" y="896.4" font-size="9.3" text-anchor="middle" fill="#222">500 pg</text>
<text x="161.5" y="896.4" font-size="9.3" text-anchor="middle" fill="#222">50 pg</text>
<text x="209.8" y="896.4" font-size="9.3" text-anchor="middle" fill="#222">10 pg</text>
<text x="137.3" y="907.7" font-size="9.5" text-anchor="middle" fill="#222">DNA Input</text>
<text x="244.2" y="734.0" font-size="11.5" text-anchor="start" fill="#222" >h</text>
<line x1="276.4" y1="786.0" x2="680.5" y2="786.0" stroke="#222" stroke-width="0.9"/>
<path d="M276.4,786.5 L276.4,784.7 L277.2,784.4 L278.0,784.6 L278.8,784.8 L279.6,784.5 L280.4,784.9 L281.2,784.7 L282.0,784.7 L282.8,784.1 L283.6,784.5 L284.4,785.0 L285.2,784.8 L286.0,784.9 L286.8,784.8 L287.6,784.6 L288.4,784.6 L289.2,784.6 L290.0,784.8 L290.8,784.1 L291.6,784.4 L292.4,784.9 L293.2,784.9 L294.0,784.5 L294.8,784.5 L295.6,784.2 L296.4,784.9 L297.2,784.4 L298.0,784.4 L298.8,784.7 L299.6,784.6 L300.4,784.9 L301.2,784.2 L302.0,784.9 L302.8,785.0 L303.6,784.6 L304.4,784.7 L305.2,784.7 L306.0,784.7 L306.8,784.8 L307.6,784.9 L308.4,784.2 L309.2,784.6 L310.0,784.8 L310.8,784.4 L311.6,784.6 L312.4,784.9 L313.2,784.6 L314.0,784.9 L314.8,784.8 L315.6,784.7 L316.4,784.7 L317.2,784.3 L318.0,784.5 L318.8,784.9 L319.6,784.3 L320.4,784.9 L321.2,784.4 L322.0,784.6 L322.8,784.4 L323.6,784.9 L324.4,784.6 L325.2,784.7 L326.0,784.6 L326.8,784.7 L327.6,784.7 L328.4,784.9 L329.2,784.5 L330.0,784.7 L330.8,784.5 L331.6,784.9 L332.4,784.9 L333.2,784.8 L334.0,784.8 L334.8,784.6 L335.6,784.3 L336.4,784.5 L337.2,785.0 L338.0,784.6 L338.8,784.4 L339.6,784.7 L340.4,784.6 L341.2,784.5 L342.0,784.8 L342.8,784.4 L343.6,784.4 L344.4,784.3 L345.2,784.7 L346.0,784.2 L346.8,784.6 L347.6,784.4 L348.4,784.7 L349.2,784.6 L350.0,784.7 L350.8,784.2 L351.6,784.6 L352.4,784.5 L353.2,784.6 L354.0,784.7 L354.8,784.8 L355.6,784.8 L356.4,784.6 L357.2,784.4 L358.0,785.0 L358.8,784.7 L359.6,784.9 L360.4,784.3 L361.2,784.5 L362.0,784.7 L362.8,784.8 L363.6,784.3 L364.4,784.5 L365.2,784.7 L366.0,784.8 L366.8,784.3 L367.6,784.4 L368.4,784.9 L369.2,784.8 L370.0,784.8 L370.8,784.6 L371.6,784.6 L372.4,784.3 L373.2,785.0 L374.0,784.6 L374.8,784.5 L375.6,784.6 L376.4,784.9 L377.2,784.9 L378.0,784.6 L378.8,785.0 L379.6,784.6 L380.4,784.5 L381.2,784.3 L382.0,784.7 L382.8,784.8 L383.6,784.8 L384.4,784.7 L385.2,784.8 L386.0,784.5 L386.8,784.5 L387.6,784.6 L388.4,784.6 L389.2,784.3 L390.0,784.8 L390.8,784.4 L391.6,784.7 L392.4,784.3 L393.2,784.4 L394.0,784.7 L394.8,784.4 L395.6,784.5 L396.4,784.6 L397.2,784.1 L398.0,784.5 L398.8,784.6 L399.6,784.5 L400.4,784.8 L401.2,784.5 L402.0,784.9 L402.8,784.6 L403.6,784.6 L404.4,784.6 L405.2,784.9 L406.0,784.6 L406.8,784.4 L407.6,784.4 L408.4,784.5 L409.2,784.8 L410.0,784.7 L410.8,784.6 L411.6,784.4 L412.4,784.8 L413.2,784.3 L414.0,784.6 L414.8,784.3 L415.6,784.8 L416.4,784.7 L417.2,784.8 L418.0,784.3 L418.8,784.6 L419.6,784.6 L420.4,784.7 L421.2,784.7 L422.0,784.2 L422.8,784.8 L423.6,784.8 L424.4,784.3 L425.2,784.8 L426.0,784.7 L426.8,784.5 L427.6,784.7 L428.4,784.9 L429.2,784.6 L430.0,784.7 L430.8,784.7 L431.6,784.8 L432.4,784.9 L433.2,784.7 L434.0,784.8 L434.8,784.8 L435.6,784.7 L436.4,784.6 L437.2,784.4 L438.0,784.5 L438.8,784.4 L439.6,784.5 L440.4,784.6 L441.2,784.6 L442.0,784.6 L442.8,784.7 L443.6,784.9 L444.4,784.5 L445.2,784.6 L446.0,784.6 L446.8,784.9 L447.6,784.4 L448.4,784.5 L449.2,784.6 L450.0,784.6 L450.8,785.0 L451.6,785.0 L452.4,784.6 L453.2,784.8 L454.0,784.9 L454.8,784.3 L455.6,784.5 L456.4,784.6 L457.2,784.6 L458.0,784.8 L458.8,784.7 L459.6,784.8 L460.4,784.4 L461.2,784.8 L462.0,784.6 L462.8,784.9 L463.6,784.9 L464.4,784.3 L465.2,784.4 L466.0,784.6 L466.8,784.6 L467.6,784.2 L468.4,784.6 L469.2,784.4 L470.0,784.5 L470.8,784.2 L471.6,784.5 L472.4,784.5 L473.2,784.7 L474.0,784.8 L474.8,784.9 L475.6,784.5 L476.4,784.6 L477.2,784.6 L478.0,784.6 L478.8,784.7 L479.6,784.2 L480.4,784.4 L481.2,784.5 L482.0,784.5 L482.8,784.8 L483.6,784.9 L484.4,784.9 L485.2,784.6 L486.0,784.6 L486.8,784.3 L487.6,784.2 L488.4,784.6 L489.2,784.5 L490.0,784.6 L490.8,784.8 L491.6,784.8 L492.4,784.8 L493.2,784.4 L494.0,784.6 L494.8,784.8 L495.6,784.6 L496.4,784.7 L497.2,785.0 L498.0,785.0 L498.8,784.7 L499.6,784.6 L500.4,784.7 L501.2,784.1 L502.0,784.6 L502.8,784.7 L503.6,784.4 L504.4,784.5 L505.2,784.6 L506.0,784.2 L506.8,784.8 L507.6,784.6 L508.4,785.0 L509.2,784.8 L510.0,784.6 L510.8,784.8 L511.6,784.7 L512.4,784.5 L513.2,784.1 L514.0,784.6 L514.8,784.6 L515.6,784.4 L516.4,784.8 L517.2,784.5 L518.0,784.6 L518.8,784.6 L519.6,784.6 L520.4,784.2 L521.2,785.0 L522.0,784.8 L522.8,784.8 L523.6,784.8 L524.4,784.7 L525.2,784.6 L526.0,784.7 L526.8,784.8 L527.6,784.4 L528.4,784.9 L529.2,784.4 L530.0,784.6 L530.8,784.8 L531.6,784.5 L532.4,784.4 L533.2,784.7 L534.0,784.4 L534.8,784.8 L535.6,784.6 L536.4,785.0 L537.2,784.6 L538.0,784.6 L538.8,784.7 L539.6,784.7 L540.4,784.9 L541.2,784.5 L542.0,784.9 L542.8,784.6 L543.6,784.9 L544.4,784.5 L545.2,784.2 L546.0,784.4 L546.8,784.6 L547.6,784.8 L548.4,784.2 L549.2,784.8 L550.0,784.8 L550.8,784.8 L551.6,784.8 L552.4,784.5 L553.2,784.4 L554.0,784.7 L554.8,784.5 L555.6,784.8 L556.4,784.6 L557.2,784.3 L558.0,784.7 L558.8,784.5 L559.6,785.0 L560.4,784.4 L561.2,784.7 L562.0,784.7 L562.8,784.7 L563.6,784.7 L564.4,784.6 L565.2,784.8 L566.0,784.3 L566.8,784.7 L567.6,784.5 L568.4,784.4 L569.2,784.4 L570.0,784.3 L570.8,784.3 L571.6,784.3 L572.4,784.6 L573.2,784.5 L574.0,784.9 L574.8,784.3 L575.6,784.9 L576.4,784.8 L577.2,784.6 L578.0,784.9 L578.8,784.7 L579.6,784.6 L580.4,784.8 L581.2,784.5 L582.0,785.0 L582.8,784.9 L583.6,784.7 L584.4,784.7 L585.2,784.9 L586.0,784.7 L586.8,784.7 L587.6,784.5 L588.4,784.6 L589.2,784.4 L590.0,784.5 L590.8,784.8 L591.6,784.6 L592.4,784.5 L593.2,784.7 L594.0,784.6 L594.8,784.7 L595.6,784.8 L596.4,784.6 L597.2,784.5 L598.0,784.9 L598.8,784.8 L599.6,784.4 L600.4,784.4 L601.2,784.8 L602.0,784.7 L602.8,784.7 L603.6,784.3 L604.4,784.9 L605.2,784.7 L606.0,784.7 L606.8,784.3 L607.6,784.5 L608.4,784.5 L609.2,784.5 L610.0,784.6 L610.8,784.6 L611.6,784.7 L612.4,784.8 L613.2,784.9 L614.0,784.6 L614.8,784.7 L615.6,784.8 L616.4,784.5 L617.2,784.4 L618.0,784.8 L618.8,784.7 L619.6,784.7 L620.4,784.6 L621.2,784.6 L622.0,784.7 L622.8,784.7 L623.6,784.8 L624.4,784.7 L625.2,784.9 L626.0,784.6 L626.8,784.3 L627.6,784.6 L628.4,784.6 L629.2,785.0 L630.0,784.5 L630.8,784.8 L631.6,784.4 L632.4,784.9 L633.2,784.9 L634.0,784.9 L634.8,784.4 L635.6,784.6 L636.4,784.4 L637.2,784.8 L638.0,784.9 L638.8,784.6 L639.6,784.2 L640.4,784.5 L641.2,784.9 L642.0,784.7 L642.8,784.8 L643.6,784.6 L644.4,784.4 L645.2,784.7 L646.0,784.4 L646.8,784.7 L647.6,784.7 L648.4,784.3 L649.2,784.4 L650.0,784.6 L650.8,784.7 L651.6,784.9 L652.4,784.6 L653.2,784.6 L654.0,784.7 L654.8,784.6 L655.6,784.6 L656.4,784.6 L657.2,784.7 L658.0,784.2 L658.8,784.4 L659.6,784.7 L660.4,784.6 L661.2,784.7 L662.0,784.6 L662.8,784.8 L663.6,784.9 L664.4,784.1 L665.2,784.7 L666.0,784.5 L666.8,784.7 L667.6,784.7 L668.4,784.8 L669.2,784.8 L670.0,784.8 L670.8,784.8 L671.6,784.7 L672.4,784.8 L673.2,784.7 L674.0,784.3 L674.8,784.7 L675.6,784.5 L676.4,784.4 L677.2,784.5 L678.0,784.3 L678.8,784.7 L679.6,784.5 L680.5,786.5 Z" fill="#3580cc"/>
<path d="M281.7,779.9h1v1h-1zM285.8,777.1h1v1h-1zM288.5,783.4h1v1h-1zM297.8,777.1h1v1h-1zM307.2,779.4h1v1h-1zM317.2,781.6h1v1h-1zM323.6,783.3h1v1h-1zM324.6,780.5h1v1h-1zM329.6,780.9h1v1h-1zM329.9,778.7h1v1h-1zM335.3,782.0h1v1h-1zM337.9,780.9h1v1h-1zM339.8,783.3h1v1h-1zM357.1,776.7h1v1h-1zM365.0,777.4h1v1h-1zM368.9,777.9h1v1h-1zM370.7,778.3h1v1h-1zM376.7,777.1h1v1h-1zM377.4,777.9h1v1h-1zM378.3,779.8h1v1h-1zM399.9,783.8h1v1h-1zM401.9,781.6h1v1h-1zM404.7,783.4h1v1h-1zM420.8,777.8h1v1h-1zM424.5,781.2h1v1h-1zM430.8,783.5h1v1h-1zM431.0,777.2h1v1h-1zM433.6,780.1h1v1h-1zM453.0,776.6h1v1h-1zM457.6,782.3h1v1h-1zM460.1,777.0h1v1h-1zM476.4,782.4h1v1h-1zM489.4,781.2h1v1h-1zM493.9,782.5h1v1h-1zM509.1,776.4h1v1h-1zM510.7,779.1h1v1h-1zM512.2,777.3h1v1h-1zM512.6,783.0h1v1h-1zM521.8,781.5h1v1h-1zM538.3,777.4h1v1h-1zM547.2,782.8h1v1h-1zM555.8,776.9h1v1h-1zM560.0,783.2h1v1h-1zM561.8,781.5h1v1h-1zM570.6,782.4h1v1h-1zM572.1,782.1h1v1h-1zM579.9,778.0h1v1h-1zM583.2,778.9h1v1h-1zM598.6,779.4h1v1h-1zM600.5,781.6h1v1h-1zM619.2,778.9h1v1h-1zM621.5,779.1h1v1h-1zM622.2,776.5h1v1h-1zM626.3,779.9h1v1h-1zM631.7,783.5h1v1h-1zM638.3,781.7h1v1h-1zM640.4,777.9h1v1h-1zM641.0,781.7h1v1h-1zM651.1,782.0h1v1h-1zM653.4,779.8h1v1h-1zM654.9,777.2h1v1h-1z" fill="#3580cc" fill-opacity="0.85"/>
<line x1="276.4" y1="742.1" x2="276.4" y2="786.0" stroke="#222" stroke-width="0.9"/>
<line x1="273.4" y1="786.0" x2="276.4" y2="786.0" stroke="#222" stroke-width="0.8"/>
<text x="272.4" y="789.0" font-size="8.8" text-anchor="end" fill="#222" >0</text>
<line x1="273.4" y1="764.2" x2="276.4" y2="764.2" stroke="#222" stroke-width="0.8"/>
<text x="272.4" y="767.2" font-size="8.8" text-anchor="end" fill="#222" >5</text>
<line x1="273.4" y1="742.4" x2="276.4" y2="742.4" stroke="#222" stroke-width="0.8"/>
<text x="272.4" y="745.4" font-size="8.8" text-anchor="end" fill="#222" >10</text>
<line x1="289.4" y1="786.0" x2="289.4" y2="787.6" stroke="#222" stroke-width="0.6"/>
<line x1="302.4" y1="786.0" x2="302.4" y2="787.6" stroke="#222" stroke-width="0.6"/>
<line x1="315.4" y1="786.0" x2="315.4" y2="787.6" stroke="#222" stroke-width="0.6"/>
<line x1="328.4" y1="786.0" x2="328.4" y2="787.6" stroke="#222" stroke-width="0.6"/>
<line x1="341.4" y1="786.0" x2="341.4" y2="787.6" stroke="#222" stroke-width="0.6"/>
<line x1="354.4" y1="786.0" x2="354.4" y2="787.6" stroke="#222" stroke-width="0.6"/>
<line x1="367.4" y1="786.0" x2="367.4" y2="787.6" stroke="#222" stroke-width="0.6"/>
<line x1="380.4" y1="786.0" x2="380.4" y2="787.6" stroke="#222" stroke-width="0.6"/>
<line x1="393.4" y1="786.0" x2="393.4" y2="787.6" stroke="#222" stroke-width="0.6"/>
<line x1="406.4" y1="786.0" x2="406.4" y2="788.6" stroke="#222" stroke-width="0.9"/>
<line x1="419.4" y1="786.0" x2="419.4" y2="787.6" stroke="#222" stroke-width="0.6"/>
<line x1="432.4" y1="786.0" x2="432.4" y2="787.6" stroke="#222" stroke-width="0.6"/>
<line x1="445.4" y1="786.0" x2="445.4" y2="787.6" stroke="#222" stroke-width="0.6"/>
<line x1="458.4" y1="786.0" x2="458.4" y2="787.6" stroke="#222" stroke-width="0.6"/>
<line x1="471.4" y1="786.0" x2="471.4" y2="787.6" stroke="#222" stroke-width="0.6"/>
<line x1="484.4" y1="786.0" x2="484.4" y2="787.6" stroke="#222" stroke-width="0.6"/>
<line x1="497.4" y1="786.0" x2="497.4" y2="787.6" stroke="#222" stroke-width="0.6"/>
<line x1="510.4" y1="786.0" x2="510.4" y2="787.6" stroke="#222" stroke-width="0.6"/>
<line x1="523.4" y1="786.0" x2="523.4" y2="787.6" stroke="#222" stroke-width="0.6"/>
<line x1="536.4" y1="786.0" x2="536.4" y2="788.6" stroke="#222" stroke-width="0.9"/>
<line x1="549.4" y1="786.0" x2="549.4" y2="787.6" stroke="#222" stroke-width="0.6"/>
<line x1="562.4" y1="786.0" x2="562.4" y2="787.6" stroke="#222" stroke-width="0.6"/>
<line x1="575.4" y1="786.0" x2="575.4" y2="787.6" stroke="#222" stroke-width="0.6"/>
<line x1="588.4" y1="786.0" x2="588.4" y2="787.6" stroke="#222" stroke-width="0.6"/>
<line x1="601.4" y1="786.0" x2="601.4" y2="787.6" stroke="#222" stroke-width="0.6"/>
<line x1="614.4" y1="786.0" x2="614.4" y2="787.6" stroke="#222" stroke-width="0.6"/>
<line x1="627.4" y1="786.0" x2="627.4" y2="787.6" stroke="#222" stroke-width="0.6"/>
<line x1="640.4" y1="786.0" x2="640.4" y2="787.6" stroke="#222" stroke-width="0.6"/>
<line x1="653.4" y1="786.0" x2="653.4" y2="787.6" stroke="#222" stroke-width="0.6"/>
<line x1="666.4" y1="786.0" x2="666.4" y2="788.6" stroke="#222" stroke-width="0.9"/>
<line x1="679.4" y1="786.0" x2="679.4" y2="787.6" stroke="#222" stroke-width="0.6"/>
<line x1="276.4" y1="836.4" x2="680.5" y2="836.4" stroke="#222" stroke-width="0.9"/>
<path d="M276.4,836.9 L276.4,834.8 L277.2,833.6 L278.0,832.7 L278.8,834.7 L279.6,834.0 L280.4,833.4 L281.2,834.2 L282.0,832.9 L282.8,833.6 L283.6,834.4 L284.4,834.6 L285.2,834.7 L286.0,833.0 L286.8,833.6 L287.6,834.6 L288.4,834.0 L289.2,834.7 L290.0,833.5 L290.8,833.4 L291.6,835.3 L292.4,834.3 L293.2,834.6 L294.0,833.8 L294.8,832.7 L295.6,833.7 L296.4,835.1 L297.2,835.1 L298.0,834.4 L298.8,834.4 L299.6,834.5 L300.4,833.6 L301.2,835.1 L302.0,833.3 L302.8,833.8 L303.6,834.6 L304.4,834.1 L305.2,834.8 L306.0,832.8 L306.8,834.8 L307.6,834.0 L308.4,834.2 L309.2,834.9 L310.0,834.7 L310.8,835.3 L311.6,832.1 L312.4,833.8 L313.2,834.6 L314.0,834.7 L314.8,832.9 L315.6,833.9 L316.4,834.5 L317.2,834.2 L318.0,835.0 L318.8,833.2 L319.6,833.5 L320.4,834.4 L321.2,833.2 L322.0,833.7 L322.8,834.9 L323.6,834.5 L324.4,835.0 L325.2,834.5 L326.0,833.7 L326.8,833.3 L327.6,834.8 L328.4,834.6 L329.2,834.8 L330.0,835.2 L330.8,834.8 L331.6,832.5 L332.4,834.8 L333.2,834.2 L334.0,834.2 L334.8,833.1 L335.6,835.0 L336.4,834.9 L337.2,833.1 L338.0,833.4 L338.8,834.9 L339.6,835.2 L340.4,834.6 L341.2,835.0 L342.0,834.3 L342.8,834.5 L343.6,834.4 L344.4,834.2 L345.2,835.0 L346.0,833.7 L346.8,834.0 L347.6,834.9 L348.4,834.9 L349.2,835.4 L350.0,833.8 L350.8,832.7 L351.6,834.4 L352.4,833.1 L353.2,833.5 L354.0,832.2 L354.8,834.5 L355.6,834.9 L356.4,835.0 L357.2,834.7 L358.0,834.5 L358.8,834.9 L359.6,834.7 L360.4,834.1 L361.2,835.0 L362.0,834.8 L362.8,833.7 L363.6,833.8 L364.4,834.9 L365.2,835.0 L366.0,834.9 L366.8,834.1 L367.6,834.5 L368.4,835.2 L369.2,834.0 L370.0,834.3 L370.8,834.1 L371.6,834.1 L372.4,832.8 L373.2,833.5 L374.0,833.2 L374.8,834.0 L375.6,834.7 L376.4,832.7 L377.2,834.0 L378.0,835.2 L378.8,834.4 L379.6,833.9 L380.4,835.1 L381.2,834.5 L382.0,835.3 L382.8,834.2 L383.6,834.7 L384.4,833.7 L385.2,833.8 L386.0,832.6 L386.8,834.7 L387.6,833.1 L388.4,833.3 L389.2,833.1 L390.0,833.6 L390.8,833.9 L391.6,834.2 L392.4,834.3 L393.2,834.4 L394.0,834.9 L394.8,834.7 L395.6,835.3 L396.4,835.3 L397.2,834.1 L398.0,834.0 L398.8,834.7 L399.6,832.6 L400.4,835.1 L401.2,833.8 L402.0,834.2 L402.8,834.4 L403.6,834.7 L404.4,833.0 L405.2,833.1 L406.0,834.1 L406.8,833.5 L407.6,833.7 L408.4,834.3 L409.2,835.1 L410.0,834.7 L410.8,832.1 L411.6,834.5 L412.4,834.2 L413.2,833.9 L414.0,833.0 L414.8,834.0 L415.6,835.1 L416.4,832.9 L417.2,835.0 L418.0,834.7 L418.8,834.4 L419.6,834.2 L420.4,833.4 L421.2,834.3 L422.0,832.8 L422.8,834.2 L423.6,833.7 L424.4,835.1 L425.2,834.3 L426.0,834.7 L426.8,835.0 L427.6,834.7 L428.4,834.6 L429.2,834.9 L430.0,834.4 L430.8,835.2 L431.6,834.3 L432.4,835.1 L433.2,834.7 L434.0,832.8 L434.8,833.0 L435.6,834.0 L436.4,835.0 L437.2,833.9 L438.0,834.1 L438.8,832.2 L439.6,832.5 L440.4,832.9 L441.2,835.3 L442.0,835.2 L442.8,835.0 L443.6,833.7 L444.4,834.8 L445.2,834.1 L446.0,834.8 L446.8,832.9 L447.6,833.6 L448.4,832.9 L449.2,832.8 L450.0,834.2 L450.8,834.2 L451.6,834.2 L452.4,834.7 L453.2,834.8 L454.0,834.3 L454.8,833.4 L455.6,834.0 L456.4,834.1 L457.2,835.0 L458.0,834.2 L458.8,834.4 L459.6,833.9 L460.4,835.2 L461.2,834.9 L462.0,834.9 L462.8,834.3 L463.6,834.5 L464.4,833.0 L465.2,833.2 L466.0,833.9 L466.8,832.5 L467.6,832.9 L468.4,834.2 L469.2,835.0 L470.0,833.2 L470.8,834.9 L471.6,833.9 L472.4,834.6 L473.2,834.3 L474.0,834.6 L474.8,832.5 L475.6,833.8 L476.4,834.5 L477.2,832.9 L478.0,834.1 L478.8,834.5 L479.6,834.6 L480.4,834.0 L481.2,834.6 L482.0,834.2 L482.8,833.4 L483.6,834.8 L484.4,832.1 L485.2,834.3 L486.0,832.6 L486.8,833.4 L487.6,832.5 L488.4,834.3 L489.2,833.3 L490.0,832.8 L490.8,833.6 L491.6,834.3 L492.4,833.9 L493.2,833.3 L494.0,833.7 L494.8,835.0 L495.6,834.3 L496.4,833.7 L497.2,834.5 L498.0,832.8 L498.8,833.3 L499.6,832.5 L500.4,834.9 L501.2,835.3 L502.0,834.1 L502.8,833.6 L503.6,834.9 L504.4,832.9 L505.2,833.4 L506.0,832.8 L506.8,833.4 L507.6,833.9 L508.4,833.8 L509.2,835.0 L510.0,834.4 L510.8,834.5 L511.6,834.0 L512.4,834.5 L513.2,834.7 L514.0,834.2 L514.8,834.1 L515.6,834.1 L516.4,833.4 L517.2,834.7 L518.0,834.8 L518.8,833.9 L519.6,833.3 L520.4,834.3 L521.2,832.9 L522.0,833.9 L522.8,834.3 L523.6,833.2 L524.4,832.8 L525.2,833.8 L526.0,834.1 L526.8,834.0 L527.6,834.9 L528.4,834.7 L529.2,832.9 L530.0,833.4 L530.8,834.8 L531.6,834.3 L532.4,834.7 L533.2,834.1 L534.0,833.0 L534.8,834.6 L535.6,833.4 L536.4,834.6 L537.2,833.3 L538.0,834.0 L538.8,833.2 L539.6,833.9 L540.4,834.5 L541.2,834.4 L542.0,833.4 L542.8,831.9 L543.6,834.0 L544.4,833.5 L545.2,832.9 L546.0,834.4 L546.8,834.1 L547.6,832.8 L548.4,834.9 L549.2,834.1 L550.0,835.2 L550.8,833.6 L551.6,833.8 L552.4,832.9 L553.2,833.8 L554.0,834.9 L554.8,832.5 L555.6,833.4 L556.4,834.5 L557.2,834.6 L558.0,833.5 L558.8,834.6 L559.6,834.5 L560.4,834.8 L561.2,834.3 L562.0,834.8 L562.8,835.1 L563.6,834.2 L564.4,833.9 L565.2,834.4 L566.0,834.2 L566.8,834.3 L567.6,833.5 L568.4,832.7 L569.2,835.2 L570.0,832.9 L570.8,834.0 L571.6,834.7 L572.4,835.0 L573.2,832.4 L574.0,833.6 L574.8,834.9 L575.6,835.1 L576.4,833.0 L577.2,834.0 L578.0,832.4 L578.8,834.0 L579.6,833.0 L580.4,834.3 L581.2,834.8 L582.0,834.4 L582.8,834.6 L583.6,834.9 L584.4,833.6 L585.2,834.1 L586.0,834.7 L586.8,834.9 L587.6,834.6 L588.4,834.4 L589.2,834.8 L590.0,833.8 L590.8,834.7 L591.6,832.7 L592.4,834.1 L593.2,834.5 L594.0,834.2 L594.8,834.2 L595.6,834.0 L596.4,835.1 L597.2,834.3 L598.0,833.9 L598.8,834.7 L599.6,834.2 L600.4,832.1 L601.2,834.8 L602.0,832.8 L602.8,834.3 L603.6,833.9 L604.4,833.8 L605.2,832.6 L606.0,834.3 L606.8,833.3 L607.6,834.5 L608.4,834.2 L609.2,832.0 L610.0,834.4 L610.8,834.0 L611.6,834.5 L612.4,834.8 L613.2,834.3 L614.0,835.2 L614.8,832.9 L615.6,834.5 L616.4,835.0 L617.2,832.5 L618.0,833.1 L618.8,834.3 L619.6,833.6 L620.4,833.0 L621.2,834.9 L622.0,834.2 L622.8,832.7 L623.6,833.8 L624.4,833.8 L625.2,833.9 L626.0,834.3 L626.8,834.9 L627.6,834.4 L628.4,834.3 L629.2,833.6 L630.0,834.4 L630.8,833.7 L631.6,834.3 L632.4,835.0 L633.2,833.4 L634.0,835.2 L634.8,833.3 L635.6,833.6 L636.4,833.8 L637.2,832.0 L638.0,834.3 L638.8,834.4 L639.6,835.0 L640.4,833.6 L641.2,833.5 L642.0,834.3 L642.8,834.2 L643.6,833.0 L644.4,834.4 L645.2,835.0 L646.0,834.0 L646.8,834.4 L647.6,833.5 L648.4,832.5 L649.2,833.9 L650.0,833.8 L650.8,832.8 L651.6,834.9 L652.4,834.8 L653.2,834.9 L654.0,835.1 L654.8,834.5 L655.6,834.9 L656.4,833.7 L657.2,834.3 L658.0,832.9 L658.8,833.8 L659.6,833.9 L660.4,832.4 L661.2,835.2 L662.0,832.9 L662.8,833.6 L663.6,834.5 L664.4,833.0 L665.2,834.1 L666.0,834.8 L666.8,833.1 L667.6,832.5 L668.4,834.3 L669.2,834.7 L670.0,834.2 L670.8,834.1 L671.6,834.6 L672.4,835.4 L673.2,833.4 L674.0,833.2 L674.8,833.3 L675.6,834.8 L676.4,834.7 L677.2,834.5 L678.0,834.5 L678.8,834.4 L679.6,834.8 L680.5,836.9 Z" fill="#e88930"/>
<path d="M276.6,824.1h1v1h-1zM276.7,831.7h1v1h-1zM277.0,826.0h1v1h-1zM277.8,826.4h1v1h-1zM278.6,832.5h1v1h-1zM278.8,829.8h1v1h-1zM279.1,826.2h1v1h-1zM279.3,822.2h1v1h-1zM279.8,824.7h1v1h-1zM280.3,829.8h1v1h-1zM280.5,829.2h1v1h-1zM280.5,832.4h1v1h-1zM281.5,828.3h1v1h-1zM281.7,801.6h1v1h-1zM281.7,830.5h1v1h-1zM281.9,829.9h1v1h-1zM281.9,827.5h1v1h-1zM282.0,831.9h1v1h-1zM282.4,831.6h1v1h-1zM282.7,831.8h1v1h-1zM282.8,827.6h1v1h-1zM282.8,831.7h1v1h-1zM283.2,829.9h1v1h-1zM283.4,832.4h1v1h-1zM283.5,832.0h1v1h-1zM284.7,831.5h1v1h-1zM285.4,821.6h1v1h-1zM285.4,828.9h1v1h-1zM285.5,828.9h1v1h-1zM285.6,830.4h1v1h-1zM285.8,810.1h1v1h-1zM285.9,832.4h1v1h-1zM286.0,832.0h1v1h-1zM286.9,826.2h1v1h-1zM287.6,832.2h1v1h-1zM288.4,832.0h1v1h-1zM288.7,827.5h1v1h-1zM289.5,831.1h1v1h-1zM289.5,831.8h1v1h-1zM289.6,832.1h1v1h-1zM289.6,831.7h1v1h-1zM289.6,830.8h1v1h-1zM289.8,829.2h1v1h-1zM290.6,832.3h1v1h-1zM290.7,831.7h1v1h-1zM291.4,830.9h1v1h-1zM291.5,830.6h1v1h-1zM291.9,824.1h1v1h-1zM292.2,828.1h1v1h-1zM292.2,825.8h1v1h-1zM292.2,829.2h1v1h-1zM292.2,832.1h1v1h-1zM292.6,818.8h1v1h-1zM293.0,830.9h1v1h-1zM293.2,816.2h1v1h-1zM293.2,831.8h1v1h-1zM293.4,831.0h1v1h-1zM293.5,831.5h1v1h-1zM293.7,831.3h1v1h-1zM293.9,831.6h1v1h-1zM293.9,826.1h1v1h-1zM294.5,832.1h1v1h-1zM295.7,831.7h1v1h-1zM296.0,831.9h1v1h-1zM296.1,825.6h1v1h-1zM296.1,829.8h1v1h-1zM296.3,830.9h1v1h-1zM296.5,810.2h1v1h-1zM296.6,830.5h1v1h-1zM296.8,832.3h1v1h-1zM296.9,830.1h1v1h-1zM297.0,831.2h1v1h-1zM297.5,831.9h1v1h-1zM297.9,831.9h1v1h-1zM298.1,831.2h1v1h-1zM298.9,831.0h1v1h-1zM299.0,828.2h1v1h-1zM299.1,832.0h1v1h-1zM299.6,828.7h1v1h-1zM300.3,829.8h1v1h-1zM300.6,828.6h1v1h-1zM300.7,828.6h1v1h-1zM300.7,809.7h1v1h-1zM300.9,828.9h1v1h-1zM301.5,826.2h1v1h-1zM301.5,830.0h1v1h-1zM302.6,827.7h1v1h-1zM302.7,829.8h1v1h-1zM303.8,830.3h1v1h-1zM304.2,832.4h1v1h-1zM304.6,828.9h1v1h-1zM304.8,825.8h1v1h-1zM305.0,831.4h1v1h-1zM305.0,832.1h1v1h-1zM305.1,830.1h1v1h-1zM305.4,830.8h1v1h-1zM305.5,832.1h1v1h-1zM305.8,825.8h1v1h-1zM306.5,826.8h1v1h-1zM307.4,830.3h1v1h-1zM307.8,831.6h1v1h-1zM308.0,798.8h1v1h-1zM308.2,831.0h1v1h-1zM308.2,832.0h1v1h-1zM308.3,831.6h1v1h-1zM308.3,831.5h1v1h-1zM309.1,830.1h1v1h-1zM309.3,831.9h1v1h-1zM310.2,832.2h1v1h-1zM310.5,829.2h1v1h-1zM310.8,826.0h1v1h-1zM310.8,830.7h1v1h-1zM311.0,832.1h1v1h-1zM311.1,832.2h1v1h-1zM311.1,829.6h1v1h-1zM311.3,829.1h1v1h-1zM311.6,831.1h1v1h-1zM311.6,831.0h1v1h-1zM312.2,832.4h1v1h-1zM312.3,829.8h1v1h-1zM312.3,831.2h1v1h-1zM312.7,831.3h1v1h-1zM313.0,803.5h1v1h-1zM313.1,832.4h1v1h-1zM313.1,832.4h1v1h-1zM313.2,832.3h1v1h-1zM313.8,831.0h1v1h-1zM313.9,822.9h1v1h-1zM314.0,832.0h1v1h-1zM314.2,831.3h1v1h-1zM314.8,831.8h1v1h-1zM315.1,831.1h1v1h-1zM315.2,831.1h1v1h-1zM315.5,831.3h1v1h-1zM315.9,831.1h1v1h-1zM316.5,831.1h1v1h-1zM317.1,823.7h1v1h-1zM317.3,829.9h1v1h-1zM317.4,829.5h1v1h-1zM317.6,829.9h1v1h-1zM317.9,831.9h1v1h-1zM318.1,823.3h1v1h-1zM318.5,832.5h1v1h-1zM318.9,831.8h1v1h-1zM318.9,831.4h1v1h-1zM319.0,826.8h1v1h-1zM319.2,828.5h1v1h-1zM319.4,830.4h1v1h-1zM319.8,829.3h1v1h-1zM319.9,829.7h1v1h-1zM320.1,822.3h1v1h-1zM320.5,831.6h1v1h-1zM321.3,831.8h1v1h-1zM321.5,830.9h1v1h-1zM321.8,827.3h1v1h-1zM321.9,828.7h1v1h-1zM321.9,830.4h1v1h-1zM322.1,821.4h1v1h-1zM323.0,831.5h1v1h-1zM323.0,831.7h1v1h-1zM323.3,828.4h1v1h-1zM323.4,831.5h1v1h-1zM323.4,831.4h1v1h-1zM323.4,831.7h1v1h-1zM324.2,831.9h1v1h-1zM324.2,832.3h1v1h-1zM324.6,831.8h1v1h-1zM324.9,832.5h1v1h-1zM325.4,832.0h1v1h-1zM325.8,831.6h1v1h-1zM325.8,831.0h1v1h-1zM326.0,828.6h1v1h-1zM326.2,822.3h1v1h-1zM326.3,830.3h1v1h-1zM327.2,831.6h1v1h-1zM327.4,828.4h1v1h-1zM327.7,832.1h1v1h-1zM328.0,832.0h1v1h-1zM328.6,831.9h1v1h-1zM328.7,804.0h1v1h-1zM328.7,828.2h1v1h-1zM328.9,814.7h1v1h-1zM330.1,830.4h1v1h-1zM330.1,803.9h1v1h-1zM330.1,831.8h1v1h-1zM330.4,831.6h1v1h-1zM330.5,830.6h1v1h-1zM330.7,831.9h1v1h-1zM330.7,832.5h1v1h-1zM331.0,831.8h1v1h-1zM331.5,831.1h1v1h-1zM331.6,827.4h1v1h-1zM331.9,830.0h1v1h-1zM332.1,831.3h1v1h-1zM332.2,831.1h1v1h-1zM332.5,828.9h1v1h-1zM332.5,832.5h1v1h-1zM332.5,828.8h1v1h-1zM332.6,832.0h1v1h-1zM333.1,829.8h1v1h-1zM333.5,831.1h1v1h-1zM333.7,827.5h1v1h-1zM334.4,828.3h1v1h-1zM334.5,824.2h1v1h-1zM334.7,831.7h1v1h-1zM334.9,821.6h1v1h-1zM336.2,832.5h1v1h-1zM336.4,830.1h1v1h-1zM336.6,826.0h1v1h-1zM337.0,830.4h1v1h-1zM337.0,831.1h1v1h-1zM337.3,832.0h1v1h-1zM337.6,831.6h1v1h-1zM337.8,832.5h1v1h-1zM338.1,832.0h1v1h-1zM338.5,831.6h1v1h-1zM338.7,832.3h1v1h-1zM338.8,828.6h1v1h-1zM339.2,800.8h1v1h-1zM339.2,820.6h1v1h-1zM339.4,825.1h1v1h-1zM339.5,828.4h1v1h-1zM339.8,830.3h1v1h-1zM339.8,830.6h1v1h-1zM340.3,831.9h1v1h-1zM340.3,830.9h1v1h-1zM340.4,831.8h1v1h-1zM340.7,832.4h1v1h-1zM340.8,831.7h1v1h-1zM341.1,823.4h1v1h-1zM341.4,831.4h1v1h-1zM341.6,832.4h1v1h-1zM341.7,824.8h1v1h-1zM342.8,831.5h1v1h-1zM342.8,830.4h1v1h-1zM342.9,830.9h1v1h-1zM343.3,830.6h1v1h-1zM343.4,829.5h1v1h-1zM343.9,832.5h1v1h-1zM344.1,828.2h1v1h-1zM344.4,829.2h1v1h-1zM344.5,828.4h1v1h-1zM344.5,798.3h1v1h-1zM344.6,799.3h1v1h-1zM344.9,822.2h1v1h-1zM345.0,832.0h1v1h-1zM345.0,830.1h1v1h-1zM345.1,830.7h1v1h-1zM345.1,830.6h1v1h-1zM345.3,806.5h1v1h-1zM345.3,798.0h1v1h-1zM345.6,831.4h1v1h-1zM346.3,832.2h1v1h-1zM346.7,831.5h1v1h-1zM347.3,832.4h1v1h-1zM347.4,829.3h1v1h-1zM347.8,826.5h1v1h-1zM347.9,828.0h1v1h-1zM347.9,823.4h1v1h-1zM348.5,831.5h1v1h-1zM349.3,827.2h1v1h-1zM349.9,816.3h1v1h-1zM350.2,825.0h1v1h-1zM350.4,830.6h1v1h-1zM350.8,832.4h1v1h-1zM350.9,831.6h1v1h-1zM350.9,831.2h1v1h-1zM352.1,831.8h1v1h-1zM352.4,832.1h1v1h-1zM352.5,830.6h1v1h-1zM352.5,815.4h1v1h-1zM352.6,821.4h1v1h-1zM352.6,829.6h1v1h-1zM352.8,829.5h1v1h-1zM353.5,831.3h1v1h-1zM353.7,831.7h1v1h-1zM353.8,829.8h1v1h-1zM354.3,824.5h1v1h-1zM354.5,812.8h1v1h-1zM354.6,829.5h1v1h-1zM354.9,824.4h1v1h-1zM354.9,832.5h1v1h-1zM355.4,829.8h1v1h-1zM355.9,831.5h1v1h-1zM356.2,832.5h1v1h-1zM356.2,832.1h1v1h-1zM356.4,832.2h1v1h-1zM356.9,831.6h1v1h-1zM357.2,829.5h1v1h-1zM357.4,830.5h1v1h-1zM357.7,823.9h1v1h-1zM358.1,830.2h1v1h-1zM358.1,831.0h1v1h-1zM358.4,830.9h1v1h-1zM358.4,832.2h1v1h-1zM358.7,821.6h1v1h-1zM358.8,831.1h1v1h-1zM359.3,831.4h1v1h-1zM359.4,831.4h1v1h-1zM359.6,813.2h1v1h-1zM359.6,829.9h1v1h-1zM359.6,831.3h1v1h-1zM360.0,831.2h1v1h-1zM360.1,827.4h1v1h-1zM360.1,827.4h1v1h-1zM360.2,832.2h1v1h-1zM360.6,832.4h1v1h-1zM360.6,831.2h1v1h-1zM360.6,826.1h1v1h-1zM360.7,829.0h1v1h-1zM360.7,830.1h1v1h-1zM361.3,828.9h1v1h-1zM361.3,830.4h1v1h-1zM361.4,826.7h1v1h-1zM361.7,832.4h1v1h-1zM362.5,830.3h1v1h-1zM362.9,827.0h1v1h-1zM362.9,830.9h1v1h-1zM363.1,825.5h1v1h-1zM363.2,830.7h1v1h-1zM363.2,829.3h1v1h-1zM363.3,831.3h1v1h-1zM363.7,831.1h1v1h-1zM363.7,832.1h1v1h-1zM363.9,830.1h1v1h-1zM364.0,832.1h1v1h-1zM364.3,832.2h1v1h-1zM364.5,830.3h1v1h-1zM364.8,827.6h1v1h-1zM364.9,830.1h1v1h-1zM365.1,831.5h1v1h-1zM365.2,831.5h1v1h-1zM365.6,829.9h1v1h-1zM365.8,830.1h1v1h-1zM365.9,832.3h1v1h-1zM366.6,831.7h1v1h-1zM366.6,832.2h1v1h-1zM367.2,832.3h1v1h-1zM367.6,831.9h1v1h-1zM367.7,831.0h1v1h-1zM367.8,831.2h1v1h-1zM368.2,832.5h1v1h-1zM368.6,831.6h1v1h-1zM368.6,832.4h1v1h-1zM368.9,832.5h1v1h-1zM369.1,812.5h1v1h-1zM369.3,824.1h1v1h-1zM370.0,827.8h1v1h-1zM370.0,828.7h1v1h-1zM370.2,832.3h1v1h-1zM370.4,832.1h1v1h-1zM370.6,827.2h1v1h-1zM371.0,830.1h1v1h-1zM371.4,829.9h1v1h-1zM371.6,831.3h1v1h-1zM372.0,829.8h1v1h-1zM372.4,828.4h1v1h-1zM372.4,832.4h1v1h-1zM373.3,831.7h1v1h-1zM373.5,830.6h1v1h-1zM373.9,831.6h1v1h-1zM374.3,832.5h1v1h-1zM374.3,827.5h1v1h-1zM374.4,829.1h1v1h-1zM374.7,831.3h1v1h-1zM374.8,831.1h1v1h-1zM375.1,832.3h1v1h-1zM375.2,830.8h1v1h-1zM375.2,822.3h1v1h-1zM375.3,832.1h1v1h-1zM376.3,832.1h1v1h-1zM376.8,826.0h1v1h-1zM376.8,832.1h1v1h-1zM377.4,826.9h1v1h-1zM377.5,831.5h1v1h-1zM377.8,829.6h1v1h-1zM377.9,831.1h1v1h-1zM378.1,831.1h1v1h-1zM378.4,831.6h1v1h-1zM378.4,832.4h1v1h-1zM378.6,832.5h1v1h-1zM378.7,825.8h1v1h-1zM378.7,831.7h1v1h-1zM378.8,832.2h1v1h-1zM379.3,831.4h1v1h-1zM379.3,832.5h1v1h-1zM379.4,829.5h1v1h-1zM379.4,832.1h1v1h-1zM379.8,829.4h1v1h-1zM380.0,831.5h1v1h-1zM380.4,831.8h1v1h-1zM381.1,830.4h1v1h-1zM381.9,832.1h1v1h-1zM381.9,828.7h1v1h-1zM382.0,831.2h1v1h-1zM382.4,832.0h1v1h-1zM382.9,830.9h1v1h-1zM383.0,831.7h1v1h-1zM383.8,830.4h1v1h-1zM383.8,831.9h1v1h-1zM383.9,831.9h1v1h-1zM383.9,831.3h1v1h-1zM384.1,830.6h1v1h-1zM384.1,829.9h1v1h-1zM384.3,831.4h1v1h-1zM384.3,831.7h1v1h-1zM384.3,832.5h1v1h-1zM384.3,827.6h1v1h-1zM384.5,822.5h1v1h-1zM384.9,830.6h1v1h-1zM385.0,829.3h1v1h-1zM385.4,828.3h1v1h-1zM385.8,829.9h1v1h-1zM386.0,830.5h1v1h-1zM386.5,828.0h1v1h-1zM386.8,830.3h1v1h-1zM387.5,832.4h1v1h-1zM387.6,825.6h1v1h-1zM387.8,832.2h1v1h-1zM388.0,829.4h1v1h-1zM388.6,832.5h1v1h-1zM389.0,827.6h1v1h-1zM389.1,832.3h1v1h-1zM389.4,832.4h1v1h-1zM389.6,832.5h1v1h-1zM389.7,832.3h1v1h-1zM390.5,832.2h1v1h-1zM390.6,829.9h1v1h-1zM390.7,831.3h1v1h-1zM390.8,830.4h1v1h-1zM391.6,826.9h1v1h-1zM391.6,831.9h1v1h-1zM391.9,830.4h1v1h-1zM393.2,822.9h1v1h-1zM393.3,829.5h1v1h-1zM393.3,831.9h1v1h-1zM393.7,827.2h1v1h-1zM393.8,824.5h1v1h-1zM394.1,831.0h1v1h-1zM394.5,830.9h1v1h-1zM394.7,830.0h1v1h-1zM395.0,832.2h1v1h-1zM395.1,831.9h1v1h-1zM395.9,826.4h1v1h-1zM396.4,828.5h1v1h-1zM396.4,829.5h1v1h-1zM396.9,832.4h1v1h-1zM397.3,831.0h1v1h-1zM398.5,831.2h1v1h-1zM398.8,829.8h1v1h-1zM399.1,832.4h1v1h-1zM399.5,828.7h1v1h-1zM399.5,831.1h1v1h-1zM399.7,813.3h1v1h-1zM399.8,831.9h1v1h-1zM400.0,829.8h1v1h-1zM400.3,832.5h1v1h-1zM400.5,829.5h1v1h-1zM400.7,831.6h1v1h-1zM401.0,832.4h1v1h-1zM401.6,830.0h1v1h-1zM402.1,825.0h1v1h-1zM403.3,806.5h1v1h-1zM403.6,827.9h1v1h-1zM403.7,832.5h1v1h-1zM404.0,822.6h1v1h-1zM404.5,829.1h1v1h-1zM404.7,827.2h1v1h-1zM404.7,831.6h1v1h-1zM406.0,831.4h1v1h-1zM406.3,832.3h1v1h-1zM406.5,832.2h1v1h-1zM406.6,828.7h1v1h-1zM407.7,832.0h1v1h-1zM407.7,832.5h1v1h-1zM408.3,831.7h1v1h-1zM408.5,831.8h1v1h-1zM408.6,831.5h1v1h-1zM409.0,829.1h1v1h-1zM409.3,827.8h1v1h-1zM409.3,832.2h1v1h-1zM409.8,821.9h1v1h-1zM409.8,830.6h1v1h-1zM410.1,832.2h1v1h-1zM410.3,831.8h1v1h-1zM410.4,832.4h1v1h-1zM410.5,832.0h1v1h-1zM410.8,831.6h1v1h-1zM411.4,821.5h1v1h-1zM412.1,831.9h1v1h-1zM412.1,830.5h1v1h-1zM412.1,825.6h1v1h-1zM412.5,800.9h1v1h-1zM412.5,827.4h1v1h-1zM412.7,803.8h1v1h-1zM412.7,830.8h1v1h-1zM413.0,832.3h1v1h-1zM413.3,831.6h1v1h-1zM413.6,831.3h1v1h-1zM413.7,831.8h1v1h-1zM413.8,829.1h1v1h-1zM413.8,832.5h1v1h-1zM414.2,823.1h1v1h-1zM414.2,806.6h1v1h-1zM414.5,825.2h1v1h-1zM414.6,832.0h1v1h-1zM414.6,830.9h1v1h-1zM414.7,825.4h1v1h-1zM415.2,830.8h1v1h-1zM415.2,830.3h1v1h-1zM415.2,829.7h1v1h-1zM415.5,828.3h1v1h-1zM415.6,832.1h1v1h-1zM416.3,826.5h1v1h-1zM416.3,831.5h1v1h-1zM416.3,798.2h1v1h-1zM416.4,832.3h1v1h-1zM416.5,831.2h1v1h-1zM416.8,832.3h1v1h-1zM416.8,831.2h1v1h-1zM416.9,828.5h1v1h-1zM417.0,808.4h1v1h-1zM417.2,829.6h1v1h-1zM417.6,832.0h1v1h-1zM417.7,831.8h1v1h-1zM417.8,829.8h1v1h-1zM417.8,832.2h1v1h-1zM418.3,827.5h1v1h-1zM419.4,832.1h1v1h-1zM420.2,821.8h1v1h-1zM420.2,828.7h1v1h-1zM420.4,832.3h1v1h-1zM420.4,832.2h1v1h-1zM420.7,828.7h1v1h-1zM420.8,831.7h1v1h-1zM421.0,832.5h1v1h-1zM421.3,828.7h1v1h-1zM421.9,828.3h1v1h-1zM422.4,832.0h1v1h-1zM422.4,829.1h1v1h-1zM423.6,831.7h1v1h-1zM424.1,824.4h1v1h-1zM424.7,826.5h1v1h-1zM425.0,832.4h1v1h-1zM425.8,830.9h1v1h-1zM426.0,832.4h1v1h-1zM426.0,831.3h1v1h-1zM426.4,828.0h1v1h-1zM426.6,832.4h1v1h-1zM426.8,831.3h1v1h-1zM427.0,832.4h1v1h-1zM427.0,831.2h1v1h-1zM427.5,830.3h1v1h-1zM427.7,832.1h1v1h-1zM428.2,830.5h1v1h-1zM428.5,832.4h1v1h-1zM428.6,828.2h1v1h-1zM428.9,808.2h1v1h-1zM429.0,826.3h1v1h-1zM429.1,800.5h1v1h-1zM429.6,807.7h1v1h-1zM429.7,830.3h1v1h-1zM430.1,831.8h1v1h-1zM430.2,829.2h1v1h-1zM430.7,829.9h1v1h-1zM430.8,825.3h1v1h-1zM430.9,830.1h1v1h-1zM431.0,832.5h1v1h-1zM431.0,832.3h1v1h-1zM431.1,829.2h1v1h-1zM431.2,826.2h1v1h-1zM431.7,823.3h1v1h-1zM432.4,830.3h1v1h-1zM432.5,831.4h1v1h-1zM432.6,830.1h1v1h-1zM433.0,814.2h1v1h-1zM433.1,828.1h1v1h-1zM433.3,830.4h1v1h-1zM433.6,830.6h1v1h-1zM433.7,832.2h1v1h-1zM434.3,825.6h1v1h-1zM434.5,830.8h1v1h-1zM434.6,828.9h1v1h-1zM434.7,831.8h1v1h-1zM434.7,832.4h1v1h-1zM434.8,830.1h1v1h-1zM435.0,831.0h1v1h-1zM435.1,831.1h1v1h-1zM435.2,829.4h1v1h-1zM436.2,830.3h1v1h-1zM436.6,831.7h1v1h-1zM436.8,829.4h1v1h-1zM436.8,825.3h1v1h-1zM437.0,819.8h1v1h-1zM437.1,807.2h1v1h-1zM437.5,830.3h1v1h-1zM437.6,829.4h1v1h-1zM437.9,830.7h1v1h-1zM438.1,832.3h1v1h-1zM438.5,831.2h1v1h-1zM438.6,832.1h1v1h-1zM438.8,832.1h1v1h-1zM438.8,829.6h1v1h-1zM439.0,819.0h1v1h-1zM439.6,832.5h1v1h-1zM440.2,831.1h1v1h-1zM440.4,832.1h1v1h-1zM440.5,827.7h1v1h-1zM440.7,831.0h1v1h-1zM441.2,830.4h1v1h-1zM442.0,830.4h1v1h-1zM442.2,805.5h1v1h-1zM442.4,831.7h1v1h-1zM442.5,831.2h1v1h-1zM442.7,831.8h1v1h-1zM442.9,828.8h1v1h-1zM443.0,823.7h1v1h-1zM443.1,831.9h1v1h-1zM443.3,829.8h1v1h-1zM443.8,831.8h1v1h-1zM444.0,831.3h1v1h-1zM444.2,830.7h1v1h-1zM445.0,829.4h1v1h-1zM446.2,832.5h1v1h-1zM446.6,820.2h1v1h-1zM446.8,820.5h1v1h-1zM446.8,832.4h1v1h-1zM447.0,824.4h1v1h-1zM447.5,830.4h1v1h-1zM447.8,831.9h1v1h-1zM448.0,832.3h1v1h-1zM448.2,832.0h1v1h-1zM448.7,831.8h1v1h-1zM448.7,831.9h1v1h-1zM448.9,829.8h1v1h-1zM449.2,830.5h1v1h-1zM450.7,831.6h1v1h-1zM450.8,830.9h1v1h-1zM450.9,830.1h1v1h-1zM450.9,832.3h1v1h-1zM450.9,831.8h1v1h-1zM451.1,832.2h1v1h-1zM452.5,830.3h1v1h-1zM452.7,829.7h1v1h-1zM453.2,831.9h1v1h-1zM453.2,832.2h1v1h-1zM453.2,830.6h1v1h-1zM454.0,831.2h1v1h-1zM454.8,831.1h1v1h-1zM455.0,831.3h1v1h-1zM455.3,826.6h1v1h-1zM455.4,830.8h1v1h-1zM455.5,810.7h1v1h-1zM455.7,832.2h1v1h-1zM455.8,831.3h1v1h-1zM456.1,831.2h1v1h-1zM456.2,828.9h1v1h-1zM456.2,831.0h1v1h-1zM456.3,825.6h1v1h-1zM456.7,832.1h1v1h-1zM456.7,832.0h1v1h-1zM456.7,826.9h1v1h-1zM456.9,832.5h1v1h-1zM457.2,832.4h1v1h-1zM457.2,831.9h1v1h-1zM457.6,831.9h1v1h-1zM458.0,830.4h1v1h-1zM458.1,832.4h1v1h-1zM458.3,830.4h1v1h-1zM458.6,830.6h1v1h-1zM458.7,828.2h1v1h-1zM459.3,822.5h1v1h-1zM459.7,829.8h1v1h-1zM459.8,832.3h1v1h-1zM459.8,830.3h1v1h-1zM460.1,831.2h1v1h-1zM460.2,829.7h1v1h-1zM460.3,831.7h1v1h-1zM460.5,830.2h1v1h-1zM460.9,828.7h1v1h-1zM461.8,831.1h1v1h-1zM462.1,831.7h1v1h-1zM462.3,830.6h1v1h-1zM462.4,832.5h1v1h-1zM462.6,825.4h1v1h-1zM463.2,824.1h1v1h-1zM463.3,832.5h1v1h-1zM463.3,831.7h1v1h-1zM463.6,828.5h1v1h-1zM463.7,830.9h1v1h-1zM463.8,830.9h1v1h-1zM463.9,830.0h1v1h-1zM464.0,832.4h1v1h-1zM464.2,829.6h1v1h-1zM465.0,829.5h1v1h-1zM465.5,832.1h1v1h-1zM465.8,830.4h1v1h-1zM466.1,832.4h1v1h-1zM466.2,832.0h1v1h-1zM466.5,828.0h1v1h-1zM466.6,831.1h1v1h-1zM466.7,830.5h1v1h-1zM466.8,809.3h1v1h-1zM467.1,831.3h1v1h-1zM467.4,830.0h1v1h-1zM468.0,831.5h1v1h-1zM468.1,825.4h1v1h-1zM468.2,829.5h1v1h-1zM468.3,831.4h1v1h-1zM468.4,832.1h1v1h-1zM468.4,828.8h1v1h-1zM468.8,831.2h1v1h-1zM469.4,829.7h1v1h-1zM470.0,826.3h1v1h-1zM470.3,832.4h1v1h-1zM470.4,802.1h1v1h-1zM470.4,831.3h1v1h-1zM470.9,830.2h1v1h-1zM471.2,831.9h1v1h-1zM471.4,825.2h1v1h-1zM471.4,831.7h1v1h-1zM471.6,831.9h1v1h-1zM471.9,825.9h1v1h-1zM472.0,829.5h1v1h-1zM472.3,829.9h1v1h-1zM472.3,832.1h1v1h-1zM472.4,831.8h1v1h-1zM472.4,830.8h1v1h-1zM472.4,832.3h1v1h-1zM472.4,832.2h1v1h-1zM472.5,828.9h1v1h-1zM472.7,800.1h1v1h-1zM472.9,828.4h1v1h-1zM473.0,830.7h1v1h-1zM473.0,826.1h1v1h-1zM476.1,830.7h1v1h-1zM476.4,831.0h1v1h-1zM476.7,831.2h1v1h-1zM476.7,831.7h1v1h-1zM477.1,831.0h1v1h-1zM477.5,830.8h1v1h-1zM477.6,832.5h1v1h-1zM477.6,824.9h1v1h-1zM477.9,825.9h1v1h-1zM478.2,832.3h1v1h-1zM478.4,831.3h1v1h-1zM478.5,830.0h1v1h-1zM478.7,831.2h1v1h-1zM478.7,831.9h1v1h-1zM478.8,831.0h1v1h-1zM479.1,829.4h1v1h-1zM480.0,831.4h1v1h-1zM480.4,832.5h1v1h-1zM480.5,830.6h1v1h-1zM481.0,830.9h1v1h-1zM481.0,830.0h1v1h-1zM481.3,831.0h1v1h-1zM481.4,832.1h1v1h-1zM481.9,806.5h1v1h-1zM482.3,830.1h1v1h-1zM483.2,832.1h1v1h-1zM483.3,832.1h1v1h-1zM483.4,805.5h1v1h-1zM483.7,831.9h1v1h-1zM483.9,831.1h1v1h-1zM484.1,831.1h1v1h-1zM484.5,831.7h1v1h-1zM484.9,829.3h1v1h-1zM484.9,829.3h1v1h-1zM485.3,830.3h1v1h-1zM485.4,831.5h1v1h-1zM485.4,832.5h1v1h-1zM485.9,830.2h1v1h-1zM485.9,828.3h1v1h-1zM486.3,832.0h1v1h-1zM486.3,832.1h1v1h-1zM487.1,832.5h1v1h-1zM487.5,829.2h1v1h-1zM487.5,828.0h1v1h-1zM488.2,830.6h1v1h-1zM488.5,830.1h1v1h-1zM488.9,830.9h1v1h-1zM489.1,831.2h1v1h-1zM489.5,830.5h1v1h-1zM489.6,827.2h1v1h-1zM489.7,832.5h1v1h-1zM490.0,825.0h1v1h-1zM490.3,829.2h1v1h-1zM490.6,831.2h1v1h-1zM490.7,831.5h1v1h-1zM490.9,831.6h1v1h-1zM491.4,829.2h1v1h-1zM491.8,832.4h1v1h-1zM492.0,831.7h1v1h-1zM492.0,832.5h1v1h-1zM492.0,832.5h1v1h-1zM492.3,830.7h1v1h-1zM492.5,830.8h1v1h-1zM492.6,832.1h1v1h-1zM492.7,830.5h1v1h-1zM492.8,830.3h1v1h-1zM493.2,832.0h1v1h-1zM493.5,828.8h1v1h-1zM494.2,822.5h1v1h-1zM494.3,831.8h1v1h-1zM494.3,832.1h1v1h-1zM494.6,831.4h1v1h-1zM495.1,830.8h1v1h-1zM495.2,832.4h1v1h-1zM495.7,795.1h1v1h-1zM495.9,829.0h1v1h-1zM496.8,832.4h1v1h-1zM497.1,832.5h1v1h-1zM497.2,829.9h1v1h-1zM497.2,832.3h1v1h-1zM498.0,826.7h1v1h-1zM498.0,829.0h1v1h-1zM498.5,830.2h1v1h-1zM498.5,832.2h1v1h-1zM498.7,831.7h1v1h-1zM498.7,829.2h1v1h-1zM498.7,826.5h1v1h-1zM499.0,830.5h1v1h-1zM499.1,832.2h1v1h-1zM499.2,830.4h1v1h-1zM499.2,831.3h1v1h-1zM500.0,830.3h1v1h-1zM500.1,832.5h1v1h-1zM500.1,832.2h1v1h-1zM500.4,832.0h1v1h-1zM500.5,829.7h1v1h-1zM501.0,831.1h1v1h-1zM501.1,830.2h1v1h-1zM501.7,832.0h1v1h-1zM501.7,831.1h1v1h-1zM501.8,832.1h1v1h-1zM502.1,832.2h1v1h-1zM502.3,804.0h1v1h-1zM502.9,828.7h1v1h-1zM502.9,831.7h1v1h-1zM503.2,830.2h1v1h-1zM503.3,831.9h1v1h-1zM503.3,830.5h1v1h-1zM503.9,825.0h1v1h-1zM504.8,813.7h1v1h-1zM504.9,831.7h1v1h-1zM505.0,832.5h1v1h-1zM505.2,831.9h1v1h-1zM505.8,830.9h1v1h-1zM505.9,829.3h1v1h-1zM506.0,829.4h1v1h-1zM506.1,831.3h1v1h-1zM506.4,831.9h1v1h-1zM506.8,830.4h1v1h-1zM507.2,829.8h1v1h-1zM507.5,826.6h1v1h-1zM507.8,830.7h1v1h-1zM508.6,831.7h1v1h-1zM508.8,831.7h1v1h-1zM509.1,832.5h1v1h-1zM509.3,831.4h1v1h-1zM509.5,832.3h1v1h-1zM510.5,832.3h1v1h-1zM510.7,830.3h1v1h-1zM510.9,821.9h1v1h-1zM511.1,828.6h1v1h-1zM511.5,818.0h1v1h-1zM511.6,831.9h1v1h-1zM512.3,831.9h1v1h-1zM512.9,829.5h1v1h-1zM513.5,826.5h1v1h-1zM514.4,831.7h1v1h-1zM514.8,831.7h1v1h-1zM515.5,828.9h1v1h-1zM515.5,830.2h1v1h-1zM516.4,829.5h1v1h-1zM516.4,832.1h1v1h-1zM516.6,831.6h1v1h-1zM516.6,829.8h1v1h-1zM516.7,830.9h1v1h-1zM516.8,830.7h1v1h-1zM516.8,827.7h1v1h-1zM517.2,831.6h1v1h-1zM517.9,832.4h1v1h-1zM518.2,825.4h1v1h-1zM518.3,831.1h1v1h-1zM518.5,830.0h1v1h-1zM518.6,830.5h1v1h-1zM518.6,832.3h1v1h-1zM518.7,831.6h1v1h-1zM518.8,830.1h1v1h-1zM519.0,826.6h1v1h-1zM519.3,831.5h1v1h-1zM519.5,830.3h1v1h-1zM520.4,832.2h1v1h-1zM520.4,830.6h1v1h-1zM520.7,797.9h1v1h-1zM520.8,831.8h1v1h-1zM520.8,829.1h1v1h-1zM520.8,830.3h1v1h-1zM521.0,832.3h1v1h-1zM521.2,830.7h1v1h-1zM521.9,831.6h1v1h-1zM522.0,829.4h1v1h-1zM522.0,832.0h1v1h-1zM522.5,831.2h1v1h-1zM522.7,830.5h1v1h-1zM522.9,829.5h1v1h-1zM523.0,831.9h1v1h-1zM523.1,832.0h1v1h-1zM523.1,831.9h1v1h-1zM523.2,828.3h1v1h-1zM523.8,832.2h1v1h-1zM523.9,830.9h1v1h-1zM524.4,824.8h1v1h-1zM524.5,814.8h1v1h-1zM524.5,827.7h1v1h-1zM524.6,832.1h1v1h-1zM524.7,831.2h1v1h-1zM524.7,820.3h1v1h-1zM525.1,831.5h1v1h-1zM526.0,830.2h1v1h-1zM526.0,830.7h1v1h-1zM526.6,817.5h1v1h-1zM526.7,822.7h1v1h-1zM526.7,832.0h1v1h-1zM527.1,829.4h1v1h-1zM527.1,826.0h1v1h-1zM527.5,830.7h1v1h-1zM527.7,826.6h1v1h-1zM527.9,828.0h1v1h-1zM528.0,813.2h1v1h-1zM528.0,824.4h1v1h-1zM528.2,832.4h1v1h-1zM528.6,831.7h1v1h-1zM528.7,830.5h1v1h-1zM528.8,830.6h1v1h-1zM529.0,821.4h1v1h-1zM529.4,832.4h1v1h-1zM529.6,832.1h1v1h-1zM530.2,832.2h1v1h-1zM531.0,831.5h1v1h-1zM531.4,830.6h1v1h-1zM531.5,828.6h1v1h-1zM532.3,832.4h1v1h-1zM532.6,797.8h1v1h-1zM533.0,829.6h1v1h-1zM533.2,828.6h1v1h-1zM533.5,829.7h1v1h-1zM534.4,830.2h1v1h-1zM534.4,831.3h1v1h-1zM534.6,829.2h1v1h-1zM535.3,828.0h1v1h-1zM535.6,829.4h1v1h-1zM535.8,831.0h1v1h-1zM536.4,831.5h1v1h-1zM536.4,830.7h1v1h-1zM537.2,830.2h1v1h-1zM537.3,832.4h1v1h-1zM537.5,830.9h1v1h-1zM537.7,827.0h1v1h-1zM537.8,828.8h1v1h-1zM537.9,831.2h1v1h-1zM538.3,832.3h1v1h-1zM538.6,831.6h1v1h-1zM538.7,830.3h1v1h-1zM538.8,830.6h1v1h-1zM539.0,832.5h1v1h-1zM539.5,831.8h1v1h-1zM539.8,831.9h1v1h-1zM539.8,830.2h1v1h-1zM540.2,830.5h1v1h-1zM540.7,831.8h1v1h-1zM541.7,825.8h1v1h-1zM542.0,831.6h1v1h-1zM542.1,831.9h1v1h-1zM542.4,830.2h1v1h-1zM542.4,832.0h1v1h-1zM542.5,826.8h1v1h-1zM543.0,832.1h1v1h-1zM543.4,831.7h1v1h-1zM543.7,814.4h1v1h-1zM544.8,831.4h1v1h-1zM546.8,830.4h1v1h-1zM547.0,830.2h1v1h-1zM547.1,831.7h1v1h-1zM547.4,832.3h1v1h-1zM547.6,821.7h1v1h-1zM547.9,829.4h1v1h-1zM548.1,832.5h1v1h-1zM548.1,832.3h1v1h-1zM548.2,831.0h1v1h-1zM548.2,832.2h1v1h-1zM549.4,826.8h1v1h-1zM549.4,821.1h1v1h-1zM549.7,824.7h1v1h-1zM550.2,831.6h1v1h-1zM551.0,827.1h1v1h-1zM551.4,828.9h1v1h-1zM551.5,830.5h1v1h-1zM551.8,832.5h1v1h-1zM552.3,829.6h1v1h-1zM553.1,829.2h1v1h-1zM553.4,796.4h1v1h-1zM553.5,815.7h1v1h-1zM553.6,832.0h1v1h-1zM554.1,830.1h1v1h-1zM554.1,831.8h1v1h-1zM554.5,829.4h1v1h-1zM555.1,830.8h1v1h-1zM555.6,830.8h1v1h-1zM556.1,828.4h1v1h-1zM556.1,829.7h1v1h-1zM556.2,828.1h1v1h-1zM556.2,832.2h1v1h-1zM556.5,832.1h1v1h-1zM556.5,828.3h1v1h-1zM556.6,829.7h1v1h-1zM557.3,831.2h1v1h-1zM557.3,828.1h1v1h-1zM558.0,832.5h1v1h-1zM558.0,829.5h1v1h-1zM558.1,830.4h1v1h-1zM558.1,828.2h1v1h-1zM558.6,832.5h1v1h-1zM558.6,825.0h1v1h-1zM558.8,831.4h1v1h-1zM559.3,831.9h1v1h-1zM559.4,829.1h1v1h-1zM559.4,831.1h1v1h-1zM559.6,830.6h1v1h-1zM559.7,830.8h1v1h-1zM560.1,832.0h1v1h-1zM560.1,825.4h1v1h-1zM560.7,824.7h1v1h-1zM560.8,829.3h1v1h-1zM561.7,830.9h1v1h-1zM562.0,830.2h1v1h-1zM562.2,831.2h1v1h-1zM562.6,832.0h1v1h-1zM562.7,824.9h1v1h-1zM562.9,824.7h1v1h-1zM563.4,830.9h1v1h-1zM563.5,832.3h1v1h-1zM563.7,831.0h1v1h-1zM563.9,832.1h1v1h-1zM564.2,830.8h1v1h-1zM564.4,831.3h1v1h-1zM564.6,832.4h1v1h-1zM564.7,830.5h1v1h-1zM565.1,824.7h1v1h-1zM565.4,830.9h1v1h-1zM565.7,832.0h1v1h-1zM566.0,831.8h1v1h-1zM566.2,811.2h1v1h-1zM566.3,830.5h1v1h-1zM566.5,825.9h1v1h-1zM566.7,829.3h1v1h-1zM566.8,826.6h1v1h-1zM566.8,830.7h1v1h-1zM567.3,828.6h1v1h-1zM567.5,831.7h1v1h-1zM567.7,828.3h1v1h-1zM568.7,828.8h1v1h-1zM569.0,831.3h1v1h-1zM569.5,832.1h1v1h-1zM569.8,831.5h1v1h-1zM569.9,829.8h1v1h-1zM570.2,826.6h1v1h-1zM570.4,831.4h1v1h-1zM570.7,832.3h1v1h-1zM570.8,830.1h1v1h-1zM570.9,831.9h1v1h-1zM571.1,827.9h1v1h-1zM571.4,829.2h1v1h-1zM571.5,830.1h1v1h-1zM571.9,826.6h1v1h-1zM571.9,826.7h1v1h-1zM572.0,830.3h1v1h-1zM572.0,830.3h1v1h-1zM572.2,830.9h1v1h-1zM572.6,829.5h1v1h-1zM573.1,831.1h1v1h-1zM573.2,832.3h1v1h-1zM573.5,831.9h1v1h-1zM573.6,831.0h1v1h-1zM574.5,832.2h1v1h-1zM574.8,831.5h1v1h-1zM574.8,826.7h1v1h-1zM575.1,831.9h1v1h-1zM575.1,829.7h1v1h-1zM575.3,831.6h1v1h-1zM575.5,818.3h1v1h-1zM576.6,817.6h1v1h-1zM576.8,830.8h1v1h-1zM576.9,831.0h1v1h-1zM576.9,830.8h1v1h-1zM577.2,829.4h1v1h-1zM577.2,825.8h1v1h-1zM577.3,831.3h1v1h-1zM577.4,827.9h1v1h-1zM577.6,830.3h1v1h-1zM577.8,832.2h1v1h-1zM578.1,828.0h1v1h-1zM578.1,831.1h1v1h-1zM578.3,825.8h1v1h-1zM578.8,832.4h1v1h-1zM579.2,828.3h1v1h-1zM579.7,829.2h1v1h-1zM580.0,830.8h1v1h-1zM580.7,828.2h1v1h-1zM580.7,810.1h1v1h-1zM580.8,830.9h1v1h-1zM581.0,831.2h1v1h-1zM581.3,831.8h1v1h-1zM581.4,831.6h1v1h-1zM581.6,829.1h1v1h-1zM581.7,831.7h1v1h-1zM581.7,807.1h1v1h-1zM581.9,831.4h1v1h-1zM582.0,832.5h1v1h-1zM582.1,829.4h1v1h-1zM582.2,827.5h1v1h-1zM582.3,830.6h1v1h-1zM582.7,831.7h1v1h-1zM583.0,829.8h1v1h-1zM583.1,830.6h1v1h-1zM583.1,831.6h1v1h-1zM583.1,829.1h1v1h-1zM583.2,829.7h1v1h-1zM583.2,832.5h1v1h-1zM583.8,830.7h1v1h-1zM583.9,830.6h1v1h-1zM584.2,829.3h1v1h-1zM584.8,829.1h1v1h-1zM584.9,831.7h1v1h-1zM585.1,832.4h1v1h-1zM585.3,830.4h1v1h-1zM585.9,831.0h1v1h-1zM586.0,827.4h1v1h-1zM586.2,831.2h1v1h-1zM586.5,830.7h1v1h-1zM586.6,831.8h1v1h-1zM586.7,832.4h1v1h-1zM586.7,830.0h1v1h-1zM587.4,831.7h1v1h-1zM587.6,831.7h1v1h-1zM587.7,823.9h1v1h-1zM588.3,829.8h1v1h-1zM588.5,831.5h1v1h-1zM588.6,830.7h1v1h-1zM589.1,831.9h1v1h-1zM589.4,827.7h1v1h-1zM589.9,826.5h1v1h-1zM590.1,824.4h1v1h-1zM590.3,829.0h1v1h-1zM590.5,830.0h1v1h-1zM590.6,832.5h1v1h-1zM591.1,829.4h1v1h-1zM591.4,832.3h1v1h-1zM592.1,832.3h1v1h-1zM592.6,832.2h1v1h-1zM592.9,809.2h1v1h-1zM593.0,827.9h1v1h-1zM593.0,797.4h1v1h-1zM593.6,796.4h1v1h-1zM593.7,830.1h1v1h-1zM593.9,832.3h1v1h-1zM594.3,832.2h1v1h-1zM595.0,831.3h1v1h-1zM595.3,831.5h1v1h-1zM595.4,828.4h1v1h-1zM595.5,830.7h1v1h-1zM595.5,826.8h1v1h-1zM595.8,832.4h1v1h-1zM596.8,829.8h1v1h-1zM597.1,831.1h1v1h-1zM597.2,832.2h1v1h-1zM597.4,829.3h1v1h-1zM597.6,830.7h1v1h-1zM597.9,831.2h1v1h-1zM598.0,831.4h1v1h-1zM598.0,812.4h1v1h-1zM598.1,794.9h1v1h-1zM598.1,828.4h1v1h-1zM598.2,830.3h1v1h-1zM598.2,832.2h1v1h-1zM598.6,820.7h1v1h-1zM599.0,831.6h1v1h-1zM599.1,831.3h1v1h-1zM599.1,831.2h1v1h-1zM599.3,828.6h1v1h-1zM599.4,829.5h1v1h-1zM599.5,818.0h1v1h-1zM600.1,829.5h1v1h-1zM600.2,804.8h1v1h-1zM600.8,831.3h1v1h-1zM601.1,830.9h1v1h-1zM601.3,832.2h1v1h-1zM601.7,832.1h1v1h-1zM602.2,832.5h1v1h-1zM602.3,831.5h1v1h-1zM602.5,831.7h1v1h-1zM602.7,827.4h1v1h-1zM603.0,829.7h1v1h-1zM603.7,832.1h1v1h-1zM604.2,832.5h1v1h-1zM604.3,826.7h1v1h-1zM604.4,832.4h1v1h-1zM604.6,831.1h1v1h-1zM604.6,831.5h1v1h-1zM604.7,832.1h1v1h-1zM605.5,827.8h1v1h-1zM605.6,831.5h1v1h-1zM606.3,825.4h1v1h-1zM606.6,832.3h1v1h-1zM606.6,829.4h1v1h-1zM606.6,830.0h1v1h-1zM607.2,832.1h1v1h-1zM607.4,832.4h1v1h-1zM607.5,829.0h1v1h-1zM608.2,832.1h1v1h-1zM608.4,831.6h1v1h-1zM608.7,832.5h1v1h-1zM608.8,831.7h1v1h-1zM608.9,826.0h1v1h-1zM609.1,821.8h1v1h-1zM609.2,830.2h1v1h-1zM609.5,830.9h1v1h-1zM609.6,825.6h1v1h-1zM610.1,830.7h1v1h-1zM610.2,825.4h1v1h-1zM611.1,831.6h1v1h-1zM611.3,830.7h1v1h-1zM611.8,832.1h1v1h-1zM612.0,831.3h1v1h-1zM612.6,822.0h1v1h-1zM612.9,832.3h1v1h-1zM613.0,832.3h1v1h-1zM613.1,831.3h1v1h-1zM613.2,825.4h1v1h-1zM613.2,831.1h1v1h-1zM613.4,832.1h1v1h-1zM614.1,830.2h1v1h-1zM614.6,830.7h1v1h-1zM614.9,831.5h1v1h-1zM615.1,828.6h1v1h-1zM615.1,809.5h1v1h-1zM615.2,831.7h1v1h-1zM615.4,829.6h1v1h-1zM615.6,823.0h1v1h-1zM615.6,832.1h1v1h-1zM615.7,828.1h1v1h-1zM615.9,828.9h1v1h-1zM616.1,832.4h1v1h-1zM616.8,830.6h1v1h-1zM617.1,830.9h1v1h-1zM617.3,829.6h1v1h-1zM618.4,824.9h1v1h-1zM618.7,828.8h1v1h-1zM618.7,828.2h1v1h-1zM618.7,829.3h1v1h-1zM618.8,826.6h1v1h-1zM619.3,831.8h1v1h-1zM619.4,830.6h1v1h-1zM619.8,832.0h1v1h-1zM619.8,831.9h1v1h-1zM619.9,831.3h1v1h-1zM620.1,832.1h1v1h-1zM621.2,831.2h1v1h-1zM621.2,831.8h1v1h-1zM621.4,832.2h1v1h-1zM621.5,829.4h1v1h-1zM621.6,831.7h1v1h-1zM621.8,830.6h1v1h-1zM621.8,830.2h1v1h-1zM622.1,832.1h1v1h-1zM622.2,828.0h1v1h-1zM622.2,831.5h1v1h-1zM622.2,809.3h1v1h-1zM622.5,832.1h1v1h-1zM622.7,832.2h1v1h-1zM622.7,829.9h1v1h-1zM623.0,832.5h1v1h-1zM623.4,828.1h1v1h-1zM624.2,828.6h1v1h-1zM624.8,832.5h1v1h-1zM624.8,832.0h1v1h-1zM624.8,824.6h1v1h-1zM625.1,831.5h1v1h-1zM625.4,830.9h1v1h-1zM625.6,831.1h1v1h-1zM626.0,830.2h1v1h-1zM627.2,831.1h1v1h-1zM627.3,831.5h1v1h-1zM627.4,819.4h1v1h-1zM627.7,829.6h1v1h-1zM628.1,827.9h1v1h-1zM628.3,830.0h1v1h-1zM628.3,832.1h1v1h-1zM628.6,828.0h1v1h-1zM628.6,831.3h1v1h-1zM628.7,831.0h1v1h-1zM628.7,832.1h1v1h-1zM628.9,832.1h1v1h-1zM629.2,824.8h1v1h-1zM629.4,832.3h1v1h-1zM629.5,831.8h1v1h-1zM629.8,830.0h1v1h-1zM629.9,821.0h1v1h-1zM630.2,831.9h1v1h-1zM630.6,830.9h1v1h-1zM630.7,832.5h1v1h-1zM631.2,832.3h1v1h-1zM631.3,824.5h1v1h-1zM631.4,808.1h1v1h-1zM631.4,831.6h1v1h-1zM633.0,831.2h1v1h-1zM633.1,831.7h1v1h-1zM633.3,829.8h1v1h-1zM633.3,832.5h1v1h-1zM633.4,831.8h1v1h-1zM634.4,830.7h1v1h-1zM634.9,816.7h1v1h-1zM635.4,831.0h1v1h-1zM636.5,832.0h1v1h-1zM636.8,822.4h1v1h-1zM636.8,832.5h1v1h-1zM637.1,825.0h1v1h-1zM637.4,797.5h1v1h-1zM637.5,831.4h1v1h-1zM637.7,830.2h1v1h-1zM638.0,832.2h1v1h-1zM638.4,830.1h1v1h-1zM639.4,828.4h1v1h-1zM639.6,832.5h1v1h-1zM639.6,832.4h1v1h-1zM640.9,831.2h1v1h-1zM640.9,832.1h1v1h-1zM641.0,831.8h1v1h-1zM643.0,823.5h1v1h-1zM643.4,832.1h1v1h-1zM643.6,831.7h1v1h-1zM643.6,828.7h1v1h-1zM643.9,832.4h1v1h-1zM644.3,825.1h1v1h-1zM644.6,829.2h1v1h-1zM644.7,832.0h1v1h-1zM645.0,831.5h1v1h-1zM645.0,830.2h1v1h-1zM645.2,830.4h1v1h-1zM645.3,829.0h1v1h-1zM645.3,829.7h1v1h-1zM645.8,827.4h1v1h-1zM646.2,830.1h1v1h-1zM646.3,831.5h1v1h-1zM646.4,826.8h1v1h-1zM646.6,828.3h1v1h-1zM646.6,830.0h1v1h-1zM646.8,830.6h1v1h-1zM647.1,831.4h1v1h-1zM647.2,830.2h1v1h-1zM647.6,832.4h1v1h-1zM647.6,827.8h1v1h-1zM647.8,832.3h1v1h-1zM647.8,823.5h1v1h-1zM647.8,832.5h1v1h-1zM648.0,830.7h1v1h-1zM648.5,832.2h1v1h-1zM648.7,831.1h1v1h-1zM648.7,832.1h1v1h-1zM648.9,831.8h1v1h-1zM649.0,832.4h1v1h-1zM649.1,831.1h1v1h-1zM650.3,832.5h1v1h-1zM650.3,831.7h1v1h-1zM650.4,829.7h1v1h-1zM650.8,832.4h1v1h-1zM650.9,831.0h1v1h-1zM650.9,832.2h1v1h-1zM650.9,830.1h1v1h-1zM651.1,832.0h1v1h-1zM651.3,831.8h1v1h-1zM651.4,818.1h1v1h-1zM652.1,831.0h1v1h-1zM652.3,831.8h1v1h-1zM652.5,831.7h1v1h-1zM652.5,831.4h1v1h-1zM652.7,830.8h1v1h-1zM653.2,827.3h1v1h-1zM653.3,828.1h1v1h-1zM653.5,832.4h1v1h-1zM653.8,826.4h1v1h-1zM654.3,829.7h1v1h-1zM654.5,828.7h1v1h-1zM655.3,826.4h1v1h-1zM655.5,831.2h1v1h-1zM656.0,831.3h1v1h-1zM656.1,830.0h1v1h-1zM656.4,830.8h1v1h-1zM656.4,831.0h1v1h-1zM656.8,828.6h1v1h-1zM657.5,824.4h1v1h-1zM657.9,832.0h1v1h-1zM658.0,830.8h1v1h-1zM658.1,826.2h1v1h-1zM658.1,832.5h1v1h-1zM658.3,829.0h1v1h-1zM658.4,832.5h1v1h-1zM659.2,831.3h1v1h-1zM659.2,825.9h1v1h-1zM660.2,829.8h1v1h-1zM660.2,830.8h1v1h-1zM660.5,830.7h1v1h-1zM660.5,831.9h1v1h-1zM660.7,825.8h1v1h-1zM660.7,829.4h1v1h-1zM660.8,831.7h1v1h-1zM660.8,832.3h1v1h-1zM660.9,831.9h1v1h-1zM661.1,830.6h1v1h-1zM661.5,826.6h1v1h-1zM661.5,822.0h1v1h-1zM661.6,832.2h1v1h-1zM661.6,828.6h1v1h-1zM661.8,830.7h1v1h-1zM662.1,832.4h1v1h-1zM662.1,831.1h1v1h-1zM662.2,831.6h1v1h-1zM662.5,831.7h1v1h-1zM662.7,797.9h1v1h-1zM662.9,826.7h1v1h-1zM663.2,832.5h1v1h-1zM663.5,831.6h1v1h-1zM664.6,830.6h1v1h-1zM664.8,831.9h1v1h-1zM665.0,832.5h1v1h-1zM665.1,832.0h1v1h-1zM665.1,825.9h1v1h-1zM665.2,830.7h1v1h-1zM665.3,828.6h1v1h-1zM666.0,829.1h1v1h-1zM666.1,829.7h1v1h-1zM666.5,832.4h1v1h-1zM666.6,830.0h1v1h-1zM666.9,830.0h1v1h-1zM667.2,830.7h1v1h-1zM667.3,831.1h1v1h-1zM667.3,830.6h1v1h-1zM667.3,829.4h1v1h-1zM667.9,824.6h1v1h-1zM668.2,831.0h1v1h-1zM668.4,831.6h1v1h-1zM668.6,831.2h1v1h-1zM669.0,828.3h1v1h-1zM669.3,821.9h1v1h-1zM669.3,830.9h1v1h-1zM669.5,829.2h1v1h-1zM670.1,831.5h1v1h-1zM670.2,832.2h1v1h-1zM670.2,832.2h1v1h-1zM670.5,823.5h1v1h-1zM670.6,824.3h1v1h-1zM671.1,815.9h1v1h-1zM671.1,823.1h1v1h-1zM671.1,824.5h1v1h-1zM671.2,831.0h1v1h-1zM671.6,831.3h1v1h-1zM672.2,831.6h1v1h-1zM672.5,832.2h1v1h-1zM672.7,832.2h1v1h-1zM673.0,832.4h1v1h-1zM673.3,828.5h1v1h-1zM673.4,831.7h1v1h-1zM673.8,825.6h1v1h-1zM674.1,823.7h1v1h-1zM674.3,831.8h1v1h-1zM674.3,832.1h1v1h-1zM674.3,832.0h1v1h-1zM674.4,804.8h1v1h-1zM674.4,831.7h1v1h-1zM674.7,832.0h1v1h-1zM674.7,830.6h1v1h-1zM675.4,832.0h1v1h-1zM675.9,832.4h1v1h-1zM676.1,831.7h1v1h-1zM676.3,816.8h1v1h-1zM676.4,831.8h1v1h-1zM676.6,830.3h1v1h-1zM676.9,826.2h1v1h-1zM677.3,830.6h1v1h-1zM677.7,802.5h1v1h-1zM677.9,825.6h1v1h-1zM678.1,827.2h1v1h-1zM678.5,831.2h1v1h-1zM678.9,827.2h1v1h-1zM679.2,830.6h1v1h-1zM679.3,831.8h1v1h-1z" fill="#e88930" fill-opacity="0.85"/>
<line x1="276.4" y1="793.3" x2="276.4" y2="836.4" stroke="#222" stroke-width="0.9"/>
<line x1="273.4" y1="836.4" x2="276.4" y2="836.4" stroke="#222" stroke-width="0.8"/>
<text x="272.4" y="839.4" font-size="8.8" text-anchor="end" fill="#222" >0</text>
<line x1="273.4" y1="815.0" x2="276.4" y2="815.0" stroke="#222" stroke-width="0.8"/>
<text x="272.4" y="818.0" font-size="8.8" text-anchor="end" fill="#222" >5</text>
<line x1="273.4" y1="793.6" x2="276.4" y2="793.6" stroke="#222" stroke-width="0.8"/>
<text x="272.4" y="796.6" font-size="8.8" text-anchor="end" fill="#222" >10</text>
<line x1="289.4" y1="836.4" x2="289.4" y2="838.0" stroke="#222" stroke-width="0.6"/>
<line x1="302.4" y1="836.4" x2="302.4" y2="838.0" stroke="#222" stroke-width="0.6"/>
<line x1="315.4" y1="836.4" x2="315.4" y2="838.0" stroke="#222" stroke-width="0.6"/>
<line x1="328.4" y1="836.4" x2="328.4" y2="838.0" stroke="#222" stroke-width="0.6"/>
<line x1="341.4" y1="836.4" x2="341.4" y2="838.0" stroke="#222" stroke-width="0.6"/>
<line x1="354.4" y1="836.4" x2="354.4" y2="838.0" stroke="#222" stroke-width="0.6"/>
<line x1="367.4" y1="836.4" x2="367.4" y2="838.0" stroke="#222" stroke-width="0.6"/>
<line x1="380.4" y1="836.4" x2="380.4" y2="838.0" stroke="#222" stroke-width="0.6"/>
<line x1="393.4" y1="836.4" x2="393.4" y2="838.0" stroke="#222" stroke-width="0.6"/>
<line x1="406.4" y1="836.4" x2="406.4" y2="839.0" stroke="#222" stroke-width="0.9"/>
<line x1="419.4" y1="836.4" x2="419.4" y2="838.0" stroke="#222" stroke-width="0.6"/>
<line x1="432.4" y1="836.4" x2="432.4" y2="838.0" stroke="#222" stroke-width="0.6"/>
<line x1="445.4" y1="836.4" x2="445.4" y2="838.0" stroke="#222" stroke-width="0.6"/>
<line x1="458.4" y1="836.4" x2="458.4" y2="838.0" stroke="#222" stroke-width="0.6"/>
<line x1="471.4" y1="836.4" x2="471.4" y2="838.0" stroke="#222" stroke-width="0.6"/>
<line x1="484.4" y1="836.4" x2="484.4" y2="838.0" stroke="#222" stroke-width="0.6"/>
<line x1="497.4" y1="836.4" x2="497.4" y2="838.0" stroke="#222" stroke-width="0.6"/>
<line x1="510.4" y1="836.4" x2="510.4" y2="838.0" stroke="#222" stroke-width="0.6"/>
<line x1="523.4" y1="836.4" x2="523.4" y2="838.0" stroke="#222" stroke-width="0.6"/>
<line x1="536.4" y1="836.4" x2="536.4" y2="839.0" stroke="#222" stroke-width="0.9"/>
<line x1="549.4" y1="836.4" x2="549.4" y2="838.0" stroke="#222" stroke-width="0.6"/>
<line x1="562.4" y1="836.4" x2="562.4" y2="838.0" stroke="#222" stroke-width="0.6"/>
<line x1="575.4" y1="836.4" x2="575.4" y2="838.0" stroke="#222" stroke-width="0.6"/>
<line x1="588.4" y1="836.4" x2="588.4" y2="838.0" stroke="#222" stroke-width="0.6"/>
<line x1="601.4" y1="836.4" x2="601.4" y2="838.0" stroke="#222" stroke-width="0.6"/>
<line x1="614.4" y1="836.4" x2="614.4" y2="838.0" stroke="#222" stroke-width="0.6"/>
<line x1="627.4" y1="836.4" x2="627.4" y2="838.0" stroke="#222" stroke-width="0.6"/>
<line x1="640.4" y1="836.4" x2="640.4" y2="838.0" stroke="#222" stroke-width="0.6"/>
<line x1="653.4" y1="836.4" x2="653.4" y2="838.0" stroke="#222" stroke-width="0.6"/>
<line x1="666.4" y1="836.4" x2="666.4" y2="839.0" stroke="#222" stroke-width="0.9"/>
<line x1="679.4" y1="836.4" x2="679.4" y2="838.0" stroke="#222" stroke-width="0.6"/>
<line x1="276.4" y1="887.3" x2="680.5" y2="887.3" stroke="#222" stroke-width="0.9"/>
<path d="M276.4,887.8 L276.4,886.1 L277.2,885.5 L278.0,885.3 L278.8,885.7 L279.6,884.8 L280.4,884.9 L281.2,885.6 L282.0,884.9 L282.8,885.2 L283.6,884.0 L284.4,885.0 L285.2,884.3 L286.0,885.4 L286.8,884.4 L287.6,884.9 L288.4,885.5 L289.2,885.9 L290.0,884.6 L290.8,885.7 L291.6,884.6 L292.4,885.4 L293.2,886.0 L294.0,885.1 L294.8,885.6 L295.6,885.2 L296.4,885.5 L297.2,885.8 L298.0,884.8 L298.8,884.2 L299.6,885.5 L300.4,885.2 L301.2,884.8 L302.0,886.3 L302.8,885.1 L303.6,885.4 L304.4,885.7 L305.2,885.6 L306.0,886.1 L306.8,884.7 L307.6,884.1 L308.4,885.5 L309.2,885.7 L310.0,885.1 L310.8,885.7 L311.6,885.6 L312.4,885.8 L313.2,884.5 L314.0,884.6 L314.8,885.6 L315.6,885.4 L316.4,885.3 L317.2,885.4 L318.0,884.8 L318.8,884.2 L319.6,885.8 L320.4,885.2 L321.2,884.8 L322.0,885.5 L322.8,884.5 L323.6,885.4 L324.4,885.5 L325.2,884.7 L326.0,885.6 L326.8,885.1 L327.6,885.0 L328.4,884.8 L329.2,885.2 L330.0,885.3 L330.8,885.8 L331.6,885.2 L332.4,885.5 L333.2,886.0 L334.0,884.3 L334.8,885.1 L335.6,884.5 L336.4,885.6 L337.2,886.1 L338.0,884.9 L338.8,885.3 L339.6,885.3 L340.4,886.2 L341.2,885.4 L342.0,884.5 L342.8,885.1 L343.6,884.7 L344.4,885.6 L345.2,886.1 L346.0,883.8 L346.8,885.2 L347.6,885.4 L348.4,885.5 L349.2,885.5 L350.0,885.9 L350.8,886.0 L351.6,886.1 L352.4,885.9 L353.2,885.4 L354.0,885.9 L354.8,885.6 L355.6,886.2 L356.4,885.3 L357.2,884.5 L358.0,885.7 L358.8,884.3 L359.6,885.4 L360.4,885.8 L361.2,885.7 L362.0,885.7 L362.8,886.2 L363.6,885.6 L364.4,885.5 L365.2,885.4 L366.0,885.9 L366.8,884.7 L367.6,885.4 L368.4,885.3 L369.2,884.9 L370.0,885.6 L370.8,885.0 L371.6,885.1 L372.4,885.0 L373.2,885.7 L374.0,885.2 L374.8,886.1 L375.6,885.2 L376.4,884.9 L377.2,884.9 L378.0,885.8 L378.8,886.2 L379.6,885.0 L380.4,885.3 L381.2,885.6 L382.0,884.9 L382.8,885.3 L383.6,884.4 L384.4,884.1 L385.2,885.3 L386.0,885.6 L386.8,885.0 L387.6,884.4 L388.4,885.4 L389.2,885.6 L390.0,885.5 L390.8,885.5 L391.6,884.4 L392.4,885.2 L393.2,885.7 L394.0,884.7 L394.8,885.8 L395.6,885.7 L396.4,885.5 L397.2,884.9 L398.0,885.4 L398.8,886.2 L399.6,885.6 L400.4,885.5 L401.2,885.9 L402.0,884.9 L402.8,886.3 L403.6,885.7 L404.4,885.4 L405.2,886.3 L406.0,884.7 L406.8,884.7 L407.6,885.1 L408.4,886.0 L409.2,885.0 L410.0,884.6 L410.8,885.4 L411.6,885.8 L412.4,884.4 L413.2,885.9 L414.0,885.1 L414.8,885.0 L415.6,886.2 L416.4,885.2 L417.2,885.8 L418.0,885.2 L418.8,884.5 L419.6,885.1 L420.4,884.6 L421.2,884.8 L422.0,885.7 L422.8,885.3 L423.6,885.2 L424.4,885.5 L425.2,884.1 L426.0,884.8 L426.8,885.5 L427.6,885.9 L428.4,885.2 L429.2,885.3 L430.0,884.6 L430.8,884.1 L431.6,885.8 L432.4,884.6 L433.2,886.0 L434.0,884.5 L434.8,885.2 L435.6,884.5 L436.4,885.4 L437.2,885.2 L438.0,885.2 L438.8,885.7 L439.6,885.9 L440.4,885.9 L441.2,886.0 L442.0,885.9 L442.8,885.6 L443.6,885.5 L444.4,885.8 L445.2,885.0 L446.0,886.1 L446.8,885.4 L447.6,885.5 L448.4,885.7 L449.2,885.5 L450.0,885.4 L450.8,884.8 L451.6,885.3 L452.4,884.9 L453.2,884.6 L454.0,885.7 L454.8,885.3 L455.6,885.2 L456.4,885.8 L457.2,884.8 L458.0,885.9 L458.8,885.7 L459.6,885.0 L460.4,885.5 L461.2,884.6 L462.0,886.0 L462.8,885.1 L463.6,885.8 L464.4,885.1 L465.2,885.1 L466.0,885.6 L466.8,885.4 L467.6,884.9 L468.4,884.6 L469.2,886.0 L470.0,885.0 L470.8,884.6 L471.6,886.2 L472.4,885.8 L473.2,886.1 L474.0,884.9 L474.8,885.4 L475.6,885.4 L476.4,884.4 L477.2,884.8 L478.0,884.8 L478.8,885.8 L479.6,884.9 L480.4,885.5 L481.2,885.8 L482.0,885.9 L482.8,884.7 L483.6,885.6 L484.4,885.1 L485.2,885.4 L486.0,885.1 L486.8,884.8 L487.6,885.7 L488.4,885.4 L489.2,885.4 L490.0,884.9 L490.8,885.8 L491.6,885.7 L492.4,886.1 L493.2,885.5 L494.0,884.9 L494.8,885.9 L495.6,885.4 L496.4,885.2 L497.2,886.0 L498.0,885.9 L498.8,885.1 L499.6,886.0 L500.4,885.5 L501.2,885.4 L502.0,885.0 L502.8,885.6 L503.6,885.7 L504.4,885.5 L505.2,885.7 L506.0,884.6 L506.8,886.0 L507.6,885.0 L508.4,885.5 L509.2,883.8 L510.0,886.1 L510.8,886.2 L511.6,885.3 L512.4,885.2 L513.2,885.6 L514.0,886.2 L514.8,886.0 L515.6,885.4 L516.4,884.4 L517.2,885.5 L518.0,884.8 L518.8,884.1 L519.6,885.7 L520.4,884.6 L521.2,884.3 L522.0,885.5 L522.8,885.5 L523.6,885.4 L524.4,885.5 L525.2,885.0 L526.0,884.9 L526.8,885.1 L527.6,885.6 L528.4,885.6 L529.2,885.1 L530.0,886.1 L530.8,885.8 L531.6,885.4 L532.4,885.8 L533.2,885.1 L534.0,886.1 L534.8,885.2 L535.6,884.7 L536.4,885.7 L537.2,885.9 L538.0,885.8 L538.8,885.1 L539.6,884.2 L540.4,885.8 L541.2,886.1 L542.0,885.5 L542.8,885.2 L543.6,885.5 L544.4,885.4 L545.2,884.8 L546.0,885.5 L546.8,885.7 L547.6,885.8 L548.4,885.8 L549.2,885.4 L550.0,884.7 L550.8,885.8 L551.6,885.8 L552.4,884.8 L553.2,885.6 L554.0,885.4 L554.8,885.1 L555.6,885.4 L556.4,885.6 L557.2,884.8 L558.0,884.7 L558.8,885.3 L559.6,885.8 L560.4,884.3 L561.2,884.7 L562.0,885.2 L562.8,884.8 L563.6,884.8 L564.4,885.6 L565.2,884.6 L566.0,885.8 L566.8,885.4 L567.6,885.4 L568.4,885.4 L569.2,885.1 L570.0,884.2 L570.8,885.1 L571.6,885.7 L572.4,885.5 L573.2,884.0 L574.0,885.7 L574.8,885.9 L575.6,884.5 L576.4,885.6 L577.2,884.9 L578.0,885.9 L578.8,885.2 L579.6,885.8 L580.4,886.0 L581.2,886.1 L582.0,885.9 L582.8,886.0 L583.6,885.9 L584.4,886.0 L585.2,885.6 L586.0,885.9 L586.8,885.7 L587.6,884.1 L588.4,886.1 L589.2,885.5 L590.0,885.6 L590.8,884.6 L591.6,885.6 L592.4,885.5 L593.2,885.3 L594.0,885.2 L594.8,885.5 L595.6,885.8 L596.4,884.9 L597.2,885.7 L598.0,885.6 L598.8,885.5 L599.6,885.9 L600.4,885.4 L601.2,885.5 L602.0,884.7 L602.8,885.2 L603.6,885.5 L604.4,886.0 L605.2,885.0 L606.0,884.0 L606.8,885.5 L607.6,885.7 L608.4,884.4 L609.2,885.8 L610.0,884.6 L610.8,885.7 L611.6,885.9 L612.4,884.9 L613.2,885.8 L614.0,885.9 L614.8,885.1 L615.6,885.4 L616.4,884.4 L617.2,884.9 L618.0,884.6 L618.8,884.8 L619.6,885.4 L620.4,884.2 L621.2,885.7 L622.0,886.0 L622.8,885.5 L623.6,885.7 L624.4,884.9 L625.2,886.0 L626.0,885.5 L626.8,885.1 L627.6,885.3 L628.4,885.3 L629.2,885.6 L630.0,886.2 L630.8,885.8 L631.6,884.8 L632.4,885.7 L633.2,884.9 L634.0,885.2 L634.8,884.7 L635.6,885.0 L636.4,885.8 L637.2,885.3 L638.0,885.6 L638.8,885.7 L639.6,885.1 L640.4,885.7 L641.2,885.2 L642.0,884.4 L642.8,884.8 L643.6,884.4 L644.4,885.7 L645.2,885.8 L646.0,885.9 L646.8,886.2 L647.6,885.4 L648.4,884.6 L649.2,884.1 L650.0,885.7 L650.8,884.9 L651.6,886.3 L652.4,885.4 L653.2,884.9 L654.0,886.2 L654.8,884.8 L655.6,885.5 L656.4,885.4 L657.2,884.8 L658.0,885.4 L658.8,884.7 L659.6,886.1 L660.4,885.7 L661.2,884.5 L662.0,885.4 L662.8,884.5 L663.6,885.4 L664.4,885.6 L665.2,884.9 L666.0,885.2 L666.8,885.4 L667.6,885.9 L668.4,884.8 L669.2,884.8 L670.0,885.8 L670.8,884.8 L671.6,884.7 L672.4,885.2 L673.2,885.4 L674.0,884.8 L674.8,885.1 L675.6,885.9 L676.4,884.6 L677.2,885.3 L678.0,885.0 L678.8,885.4 L679.6,884.9 L680.5,887.8 Z" fill="#5cae48"/>
<path d="M287.1,881.5h1v1h-1zM287.9,877.3h1v1h-1zM291.8,881.6h1v1h-1zM296.2,876.4h1v1h-1zM300.1,879.7h1v1h-1zM316.3,882.3h1v1h-1zM316.9,877.3h1v1h-1zM319.3,880.8h1v1h-1zM320.0,876.7h1v1h-1zM333.8,880.5h1v1h-1zM367.0,878.3h1v1h-1zM378.9,874.9h1v1h-1zM393.1,878.9h1v1h-1zM401.8,879.5h1v1h-1zM410.4,881.2h1v1h-1zM428.4,878.1h1v1h-1zM431.2,879.3h1v1h-1zM433.7,880.2h1v1h-1zM473.5,882.4h1v1h-1zM474.8,875.3h1v1h-1zM500.0,880.5h1v1h-1zM501.4,877.6h1v1h-1zM515.7,878.5h1v1h-1zM529.3,876.9h1v1h-1zM561.1,875.4h1v1h-1zM594.5,880.2h1v1h-1zM601.8,875.0h1v1h-1zM603.3,876.5h1v1h-1zM611.4,877.4h1v1h-1zM618.5,876.2h1v1h-1zM638.6,875.6h1v1h-1zM641.3,878.0h1v1h-1zM645.9,883.4h1v1h-1z" fill="#5cae48" fill-opacity="0.85"/>
<line x1="276.4" y1="843.4" x2="276.4" y2="887.3" stroke="#222" stroke-width="0.9"/>
<line x1="273.4" y1="887.3" x2="276.4" y2="887.3" stroke="#222" stroke-width="0.8"/>
<text x="272.4" y="890.3" font-size="8.8" text-anchor="end" fill="#222" >0</text>
<line x1="273.4" y1="865.5" x2="276.4" y2="865.5" stroke="#222" stroke-width="0.8"/>
<text x="272.4" y="868.5" font-size="8.8" text-anchor="end" fill="#222" >5</text>
<line x1="273.4" y1="843.7" x2="276.4" y2="843.7" stroke="#222" stroke-width="0.8"/>
<text x="272.4" y="846.7" font-size="8.8" text-anchor="end" fill="#222" >10</text>
<line x1="289.4" y1="887.3" x2="289.4" y2="888.9" stroke="#222" stroke-width="0.6"/>
<line x1="302.4" y1="887.3" x2="302.4" y2="888.9" stroke="#222" stroke-width="0.6"/>
<line x1="315.4" y1="887.3" x2="315.4" y2="888.9" stroke="#222" stroke-width="0.6"/>
<line x1="328.4" y1="887.3" x2="328.4" y2="888.9" stroke="#222" stroke-width="0.6"/>
<line x1="341.4" y1="887.3" x2="341.4" y2="888.9" stroke="#222" stroke-width="0.6"/>
<line x1="354.4" y1="887.3" x2="354.4" y2="888.9" stroke="#222" stroke-width="0.6"/>
<line x1="367.4" y1="887.3" x2="367.4" y2="888.9" stroke="#222" stroke-width="0.6"/>
<line x1="380.4" y1="887.3" x2="380.4" y2="888.9" stroke="#222" stroke-width="0.6"/>
<line x1="393.4" y1="887.3" x2="393.4" y2="888.9" stroke="#222" stroke-width="0.6"/>
<line x1="406.4" y1="887.3" x2="406.4" y2="889.9" stroke="#222" stroke-width="0.9"/>
<line x1="419.4" y1="887.3" x2="419.4" y2="888.9" stroke="#222" stroke-width="0.6"/>
<line x1="432.4" y1="887.3" x2="432.4" y2="888.9" stroke="#222" stroke-width="0.6"/>
<line x1="445.4" y1="887.3" x2="445.4" y2="888.9" stroke="#222" stroke-width="0.6"/>
<line x1="458.4" y1="887.3" x2="458.4" y2="888.9" stroke="#222" stroke-width="0.6"/>
<line x1="471.4" y1="887.3" x2="471.4" y2="888.9" stroke="#222" stroke-width="0.6"/>
<line x1="484.4" y1="887.3" x2="484.4" y2="888.9" stroke="#222" stroke-width="0.6"/>
<line x1="497.4" y1="887.3" x2="497.4" y2="888.9" stroke="#222" stroke-width="0.6"/>
<line x1="510.4" y1="887.3" x2="510.4" y2="888.9" stroke="#222" stroke-width="0.6"/>
<line x1="523.4" y1="887.3" x2="523.4" y2="888.9" stroke="#222" stroke-width="0.6"/>
<line x1="536.4" y1="887.3" x2="536.4" y2="889.9" stroke="#222" stroke-width="0.9"/>
<line x1="549.4" y1="887.3" x2="549.4" y2="888.9" stroke="#222" stroke-width="0.6"/>
<line x1="562.4" y1="887.3" x2="562.4" y2="888.9" stroke="#222" stroke-width="0.6"/>
<line x1="575.4" y1="887.3" x2="575.4" y2="888.9" stroke="#222" stroke-width="0.6"/>
<line x1="588.4" y1="887.3" x2="588.4" y2="888.9" stroke="#222" stroke-width="0.6"/>
<line x1="601.4" y1="887.3" x2="601.4" y2="888.9" stroke="#222" stroke-width="0.6"/>
<line x1="614.4" y1="887.3" x2="614.4" y2="888.9" stroke="#222" stroke-width="0.6"/>
<line x1="627.4" y1="887.3" x2="627.4" y2="888.9" stroke="#222" stroke-width="0.6"/>
<line x1="640.4" y1="887.3" x2="640.4" y2="888.9" stroke="#222" stroke-width="0.6"/>
<line x1="653.4" y1="887.3" x2="653.4" y2="888.9" stroke="#222" stroke-width="0.6"/>
<line x1="666.4" y1="887.3" x2="666.4" y2="889.9" stroke="#222" stroke-width="0.9"/>
<line x1="679.4" y1="887.3" x2="679.4" y2="888.9" stroke="#222" stroke-width="0.6"/>
<text x="283.8" y="749.4" font-size="9.5" text-anchor="start" fill="#222" >CpG context</text>
<text x="612.8" y="749.7" font-size="9.5" text-anchor="middle" fill="#2f7dc8" font-style="italic">UMBS-seq</text>
<text x="672.0" y="762.0" font-size="9.5" text-anchor="end" fill="#2f7dc8" font-style="italic">Unreliable CpG sites: 0.34%</text>
<text x="612.8" y="800.0" font-size="9.5" text-anchor="middle" fill="#e88930" font-style="italic">EM-seq</text>
<text x="672.0" y="812.3" font-size="9.5" text-anchor="end" fill="#e88930" font-style="italic">Unreliable CpG sites: 7.6%</text>
<text x="612.8" y="849.4" font-size="9.5" text-anchor="middle" fill="#5aa33f" font-style="italic">CBS-seq</text>
<text x="672.0" y="861.7" font-size="9.5" text-anchor="end" fill="#5aa33f" font-style="italic">Unreliable CpG sites: 0.62%</text>
<text x="406.4" y="898.0" font-size="8.3" text-anchor="middle" fill="#222" >2,000</text>
<text x="536.4" y="898.0" font-size="8.3" text-anchor="middle" fill="#222" >4,000</text>
<text x="666.4" y="898.0" font-size="8.3" text-anchor="middle" fill="#222" >6,000</text>
<text x="478.0" y="906.5" font-size="10.5" text-anchor="middle" fill="#222" >CpG sites</text>
<text transform="translate(257.3,813) rotate(-90)" font-size="9.5" text-anchor="middle" fill="#222">Unconverted C (%)</text>
</svg></body></html>
